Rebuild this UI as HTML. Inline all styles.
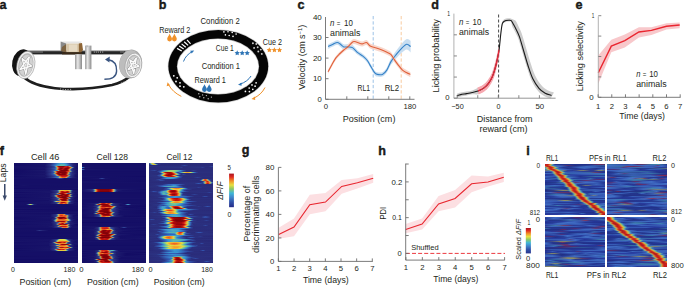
<!DOCTYPE html>
<html><head><meta charset="utf-8"><style>
html,body{margin:0;padding:0;background:#fff;width:685px;height:287px;overflow:hidden;position:relative}
svg{display:block;position:absolute;left:0;top:0}
.hm{position:absolute;overflow:hidden}
.hm i{position:absolute;left:0;right:0;height:1px;display:block}
text{font-family:"Liberation Sans", sans-serif;fill:#231f20}
</style></head><body>
<svg width="685" height="287" viewBox="0 0 685 287">
<defs>
<filter id="bh" x="-20%" y="-20%" width="140%" height="140%"><feGaussianBlur stdDeviation="1.2 0.5"/></filter>
<filter id="bh2" x="-20%" y="-20%" width="140%" height="140%"><feGaussianBlur stdDeviation="0.9 0.35"/></filter>
<filter id="bn" x="-20%" y="-20%" width="140%" height="140%"><feGaussianBlur stdDeviation="2.2 0.45"/></filter>
<filter id="bs" x="-20%" y="-20%" width="140%" height="140%"><feGaussianBlur stdDeviation="0.6"/></filter>
<filter id="bd" x="-30%" y="-30%" width="160%" height="160%"><feGaussianBlur stdDeviation="1.6"/></filter>
<linearGradient id="jetv" x1="0" y1="1" x2="0" y2="0">
<stop offset="0" stop-color="#242a88"/><stop offset="0.15" stop-color="#3050a8"/><stop offset="0.3" stop-color="#4088cc"/><stop offset="0.42" stop-color="#40b8d8"/><stop offset="0.55" stop-color="#90c860"/><stop offset="0.66" stop-color="#e8e040"/><stop offset="0.78" stop-color="#f09028"/><stop offset="0.9" stop-color="#e02a20"/><stop offset="1" stop-color="#a81420"/>
</linearGradient>
<linearGradient id="jetvi" x1="0" y1="1" x2="0" y2="0">
<stop offset="0" stop-color="#2a3890"/><stop offset="0.15" stop-color="#3050a8"/><stop offset="0.3" stop-color="#4088cc"/><stop offset="0.42" stop-color="#40b8d8"/><stop offset="0.55" stop-color="#90c860"/><stop offset="0.66" stop-color="#e8e040"/><stop offset="0.78" stop-color="#f09028"/><stop offset="0.9" stop-color="#e02a20"/><stop offset="1" stop-color="#a81420"/>
</linearGradient>
<linearGradient id="post" x1="0" y1="0" x2="1" y2="0">
<stop offset="0" stop-color="#9a9a9a"/><stop offset="0.4" stop-color="#e8e8e8"/><stop offset="1" stop-color="#8a8a8a"/>
</linearGradient>
<linearGradient id="boxf" x1="0" y1="0" x2="1" y2="0">
<stop offset="0" stop-color="#8a6a45"/><stop offset="0.35" stop-color="#d8c3a3"/><stop offset="1" stop-color="#c9ad86"/>
</linearGradient>
<radialGradient id="wheel" cx="0.5" cy="0.5" r="0.5">
<stop offset="0" stop-color="#f0f0f0"/><stop offset="0.8" stop-color="#d6d6d6"/><stop offset="1" stop-color="#a8a8a8"/>
</radialGradient>
</defs>
<text x="-0.4" y="9.0" font-size="12.6" font-weight="bold" fill="#000" stroke="#000" stroke-width="0.35">a</text>
<text x="158.8" y="9.0" font-size="12.6" font-weight="bold" fill="#000" stroke="#000" stroke-width="0.35">b</text>
<text x="297.4" y="9.1" font-size="12.6" font-weight="bold" fill="#000" stroke="#000" stroke-width="0.35">c</text>
<text x="431.3" y="9.0" font-size="12.6" font-weight="bold" fill="#000" stroke="#000" stroke-width="0.35">d</text>
<text x="575.4" y="9.0" font-size="12.6" font-weight="bold" fill="#000" stroke="#000" stroke-width="0.35">e</text>
<text x="-0.2" y="154.7" font-size="12.6" font-weight="bold" fill="#000" stroke="#000" stroke-width="0.35">f</text>
<text x="241.8" y="154.1" font-size="12.6" font-weight="bold" fill="#000" stroke="#000" stroke-width="0.35">g</text>
<text x="378.2" y="154.7" font-size="12.6" font-weight="bold" fill="#000" stroke="#000" stroke-width="0.35">h</text>
<text x="526.3" y="154.7" font-size="12.6" font-weight="bold" fill="#000" stroke="#000" stroke-width="0.35">i</text>
<path d="M23,76.5 C30,83 40,86.5 55,88.2 C75,90.2 95,88.5 112,85 C120,83 125,80.5 129,77" fill="none" stroke="#1e1e1e" stroke-width="2.6"/>
<rect x="60" y="88.6" width="1.1" height="0.8" fill="#c8c8c8"/>
<rect x="62.5" y="88.9" width="1.1" height="0.8" fill="#c8c8c8"/>
<rect x="65" y="89" width="1.1" height="0.8" fill="#c8c8c8"/>
<rect x="67.5" y="89" width="1.1" height="0.8" fill="#c8c8c8"/>
<rect x="70" y="88.9" width="1.1" height="0.8" fill="#c8c8c8"/>
<rect x="121" y="82.6" width="1.1" height="0.8" fill="#c8c8c8"/>
<rect x="123.5" y="81.6" width="1.1" height="0.8" fill="#c8c8c8"/>
<rect x="126" y="80.4" width="1.1" height="0.8" fill="#c8c8c8"/>
<rect x="21" y="50.8" width="112" height="3.6" fill="#262626"/>
<rect x="21" y="50.8" width="112" height="0.8" fill="#555"/>
<rect x="29.5" y="51.6" width="1" height="0.9" fill="#d8d8d8"/>
<rect x="31.5" y="51.6" width="1" height="0.9" fill="#d8d8d8"/>
<rect x="33.5" y="51.6" width="1" height="0.9" fill="#d8d8d8"/>
<rect x="35.5" y="51.6" width="1" height="0.9" fill="#d8d8d8"/>
<rect x="37.5" y="51.6" width="1" height="0.9" fill="#d8d8d8"/>
<rect x="39.5" y="51.6" width="1" height="0.9" fill="#d8d8d8"/>
<rect x="41.5" y="51.6" width="1" height="0.9" fill="#d8d8d8"/>
<rect x="93.8" y="51.6" width="1" height="0.9" fill="#d8d8d8"/>
<rect x="95.8" y="51.6" width="1" height="0.9" fill="#d8d8d8"/>
<rect x="97.8" y="51.6" width="1" height="0.9" fill="#d8d8d8"/>
<rect x="100" y="51.6" width="1" height="0.9" fill="#d8d8d8"/>
<rect x="102.2" y="51.6" width="1" height="0.9" fill="#d8d8d8"/>
<rect x="120.5" y="51.6" width="1" height="0.9" fill="#d8d8d8"/>
<rect x="122.5" y="51.6" width="1" height="0.9" fill="#d8d8d8"/>
<rect x="125" y="51.6" width="1" height="0.9" fill="#d8d8d8"/>
<rect x="127.5" y="51.6" width="1" height="0.9" fill="#d8d8d8"/>
<rect x="129.5" y="51.6" width="1" height="0.9" fill="#d8d8d8"/>
<ellipse cx="22.0" cy="62.8" rx="9.8" ry="13.6" transform="rotate(12 22.0 62.8)" fill="#141414"/>
<g transform="translate(25.8 65.0) rotate(12)"><ellipse cx="0" cy="0" rx="8.9" ry="13.9" fill="#f4f4f4" stroke="#9a9a9a" stroke-width="0.6"/><ellipse cx="0" cy="0" rx="7.476" ry="11.954" fill="#b8b8b8"/><ellipse cx="0.3" cy="0.3" rx="6.586" ry="10.703000000000001" fill="#d2d2d2"/><polyline points="1.74,-9.03 1.89,8.95 -4.80,-5.45 5.87,-0.13 -4.70,5.66 1.74,-9.03" fill="none" stroke="#7a7a7a" stroke-width="2.2" stroke-linejoin="round"/><polyline points="1.74,-9.03 1.89,8.95 -4.80,-5.45 5.87,-0.13 -4.70,5.66 1.74,-9.03" fill="none" stroke="#fafafa" stroke-width="1.5" stroke-linejoin="round"/><line x1="0" y1="0" x2="0.87" y2="-4.51" stroke="#eee" stroke-width="0.6"/><line x1="0" y1="0" x2="2.94" y2="-0.07" stroke="#eee" stroke-width="0.6"/><line x1="0" y1="0" x2="0.95" y2="4.47" stroke="#eee" stroke-width="0.6"/><line x1="0" y1="0" x2="-2.35" y2="2.83" stroke="#eee" stroke-width="0.6"/><line x1="0" y1="0" x2="-2.40" y2="-2.72" stroke="#eee" stroke-width="0.6"/></g>
<ellipse cx="130.6" cy="64.0" rx="11.4" ry="14.5" transform="rotate(10 130.6 64)" fill="#a6a6a6"/>
<ellipse cx="129.8" cy="63.8" rx="10.4" ry="13.8" transform="rotate(10 129.8 63.8)" fill="#bdbdbd"/>
<g transform="translate(133.4 65.4) rotate(10)"><ellipse cx="0" cy="0" rx="8.3" ry="12.4" fill="#f4f4f4" stroke="#9a9a9a" stroke-width="0.6"/><ellipse cx="0" cy="0" rx="6.972" ry="10.664" fill="#b8b8b8"/><ellipse cx="0.3" cy="0.3" rx="6.142" ry="9.548" fill="#d2d2d2"/><polyline points="1.62,-8.06 1.77,7.98 -4.48,-4.86 5.48,-0.12 -4.39,5.05 1.62,-8.06" fill="none" stroke="#7a7a7a" stroke-width="2.2" stroke-linejoin="round"/><polyline points="1.62,-8.06 1.77,7.98 -4.48,-4.86 5.48,-0.12 -4.39,5.05 1.62,-8.06" fill="none" stroke="#fafafa" stroke-width="1.5" stroke-linejoin="round"/><line x1="0" y1="0" x2="0.81" y2="-4.03" stroke="#eee" stroke-width="0.6"/><line x1="0" y1="0" x2="2.74" y2="-0.06" stroke="#eee" stroke-width="0.6"/><line x1="0" y1="0" x2="0.88" y2="3.99" stroke="#eee" stroke-width="0.6"/><line x1="0" y1="0" x2="-2.19" y2="2.53" stroke="#eee" stroke-width="0.6"/><line x1="0" y1="0" x2="-2.24" y2="-2.43" stroke="#eee" stroke-width="0.6"/></g>
<polygon points="60.6,41.4 81.8,41.4 80.6,43.6 66.3,43.6" fill="#e6e6e6"/>
<polygon points="60.6,41.6 66.3,43.6 66.3,52.4 60.6,50.6" fill="#8a8a8a"/>
<polygon points="62,47 66.3,44 66.3,52.4 61,51" fill="#7a5a30" opacity="0.8"/>
<rect x="66.3" y="43.6" width="14.6" height="8.8" fill="#d9c8aa"/>
<rect x="69" y="44.5" width="8" height="7" fill="#e6dac4"/>
<polygon points="78.8,43.6 82,43 83,50 80.9,52.4 78.8,52.4" fill="#8e6536"/>
<rect x="62" y="52.2" width="20" height="2.2" fill="#3a2a18"/>
<rect x="75.0" y="54.2" width="7.0" height="15.0" fill="url(#post)"/>
<rect x="85.1" y="45.6" width="6.3" height="23.6" fill="url(#post)"/>
<ellipse cx="87.2" cy="46.2" rx="1.4" ry="1" fill="#bdbdbd"/>
<path d="M104.4,79.3 C111,79.3 116.4,77.5 116.6,71 C116.8,64.5 113.5,60.6 108.6,59.8" fill="none" stroke="#3a5580" stroke-width="1.4"/>
<polygon points="105.0,59.4 109.8,56.6 109.4,62.4" fill="#3a5580"/>
<ellipse cx="218.3" cy="66.2" rx="50.6" ry="37.0" fill="#d4d4d4"/>
<ellipse cx="218.3" cy="66.2" rx="49.9" ry="36.3" fill="#050505"/>
<ellipse cx="218.0" cy="66.5" rx="41.1" ry="28.1" fill="#bdbdbd"/>
<ellipse cx="218.0" cy="66.5" rx="40.4" ry="27.4" fill="#fff"/>
<line x1="181.77" y1="51.01" x2="177.09" y2="48.38" stroke="#fff" stroke-width="1.25"/>
<line x1="183.65" y1="49.03" x2="179.21" y2="46.06" stroke="#fff" stroke-width="1.25"/>
<line x1="185.75" y1="47.16" x2="181.58" y2="43.87" stroke="#fff" stroke-width="1.25"/>
<line x1="188.06" y1="45.41" x2="184.18" y2="41.82" stroke="#fff" stroke-width="1.25"/>
<line x1="190.56" y1="43.80" x2="187.01" y2="39.93" stroke="#fff" stroke-width="1.25"/>
<circle cx="223.9" cy="31.9" r="0.8" fill="#fff"/>
<circle cx="228" cy="31.7" r="0.8" fill="#fff"/>
<circle cx="232.2" cy="32.5" r="0.8" fill="#fff"/>
<circle cx="236.1" cy="34.1" r="0.8" fill="#fff"/>
<circle cx="225.4" cy="34.9" r="0.8" fill="#fff"/>
<circle cx="229.2" cy="35.5" r="0.8" fill="#fff"/>
<circle cx="233" cy="36.4" r="0.8" fill="#fff"/>
<circle cx="252.9" cy="43.2" r="0.95" fill="#d0d0d0"/>
<circle cx="256.3" cy="44.0" r="0.95" fill="#d0d0d0"/>
<circle cx="254.1" cy="47.9" r="0.95" fill="#d0d0d0"/>
<circle cx="257.7" cy="47.3" r="0.95" fill="#d0d0d0"/>
<circle cx="258.3" cy="51.5" r="0.95" fill="#d0d0d0"/>
<circle cx="261.8" cy="53.9" r="0.95" fill="#d0d0d0"/>
<circle cx="260.8" cy="49.6" r="0.95" fill="#d0d0d0"/>
<circle cx="173.8" cy="75.8" r="0.9" fill="#fff"/>
<circle cx="177.2" cy="77.8" r="0.9" fill="#fff"/>
<circle cx="176" cy="81.5" r="0.9" fill="#fff"/>
<circle cx="180" cy="82.8" r="0.9" fill="#fff"/>
<circle cx="180" cy="86.2" r="0.9" fill="#fff"/>
<circle cx="183.8" cy="86.8" r="0.9" fill="#fff"/>
<circle cx="198.8" cy="93.7" r="0.7" fill="#bbb"/>
<circle cx="202.6" cy="94.9" r="0.7" fill="#bbb"/>
<circle cx="206.4" cy="95.6" r="0.7" fill="#bbb"/>
<circle cx="199.8" cy="96.8" r="0.7" fill="#bbb"/>
<circle cx="203.8" cy="97.8" r="0.7" fill="#bbb"/>
<circle cx="208.2" cy="98.7" r="0.7" fill="#bbb"/>
<circle cx="211.4" cy="97.1" r="0.7" fill="#bbb"/>
<circle cx="256.1" cy="82.8" r="0.85" fill="#fff"/>
<circle cx="252" cy="84.9" r="0.85" fill="#fff"/>
<circle cx="255.1" cy="86.2" r="0.85" fill="#fff"/>
<circle cx="249.2" cy="88" r="0.85" fill="#fff"/>
<circle cx="252.8" cy="89.3" r="0.85" fill="#fff"/>
<circle cx="245.4" cy="91.4" r="0.85" fill="#fff"/>
<circle cx="249.4" cy="91.6" r="0.85" fill="#fff"/>
<text x="200.5" y="24.4" font-size="8.4" textLength="39.2" lengthAdjust="spacingAndGlyphs" >Condition 2</text>
<text x="159.2" y="32.6" font-size="8.4" textLength="31.1" lengthAdjust="spacingAndGlyphs" >Reward 2</text>
<text x="262.7" y="44.6" font-size="8.4" textLength="19.2" lengthAdjust="spacingAndGlyphs" >Cue 2</text>
<text x="215.8" y="51.2" font-size="8.4" textLength="18.0" lengthAdjust="spacingAndGlyphs" >Cue 1</text>
<text x="201.7" y="68.7" font-size="8.4" textLength="38.3" lengthAdjust="spacingAndGlyphs" >Condition 1</text>
<text x="194.5" y="83.0" font-size="8.4" textLength="31.3" lengthAdjust="spacingAndGlyphs" >Reward 1</text>
<path d="M169.6,33.8 C170.4,35.8 172.015,37.595 172.015,39.089999999999996 A2.415,2.415 0 0 1 167.185,39.089999999999996 C167.185,37.595 168.79999999999998,35.8 169.6,33.8 Z" fill="#f0922b"/>
<path d="M174.4,33.8 C175.20000000000002,35.8 176.815,37.595 176.815,39.089999999999996 A2.415,2.415 0 0 1 171.985,39.089999999999996 C171.985,37.595 173.6,35.8 174.4,33.8 Z" fill="#f0922b"/>
<path d="M204.5,84.2 C205.3,86.2 206.915,87.995 206.915,89.49000000000001 A2.415,2.415 0 0 1 202.085,89.49000000000001 C202.085,87.995 203.7,86.2 204.5,84.2 Z" fill="#2e75b6"/>
<path d="M209.2,84.2 C210.0,86.2 211.61499999999998,87.995 211.61499999999998,89.49000000000001 A2.415,2.415 0 0 1 206.785,89.49000000000001 C206.785,87.995 208.39999999999998,86.2 209.2,84.2 Z" fill="#2e75b6"/>
<polygon points="237.20,50.35 238.01,51.99 239.82,52.25 238.51,53.52 238.82,55.32 237.20,54.48 235.58,55.32 235.89,53.52 234.58,52.25 236.39,51.99" fill="#2e75b6"/>
<polygon points="242.20,50.35 243.01,51.99 244.82,52.25 243.51,53.52 243.82,55.32 242.20,54.48 240.58,55.32 240.89,53.52 239.58,52.25 241.39,51.99" fill="#2e75b6"/>
<polygon points="247.20,50.35 248.01,51.99 249.82,52.25 248.51,53.52 248.82,55.32 247.20,54.48 245.58,55.32 245.89,53.52 244.58,52.25 246.39,51.99" fill="#2e75b6"/>
<polygon points="269.30,47.25 270.11,48.89 271.92,49.15 270.61,50.42 270.92,52.22 269.30,51.38 267.68,52.22 267.99,50.42 266.68,49.15 268.49,48.89" fill="#f0922b"/>
<polygon points="274.40,47.25 275.21,48.89 277.02,49.15 275.71,50.42 276.02,52.22 274.40,51.38 272.78,52.22 273.09,50.42 271.78,49.15 273.59,48.89" fill="#f0922b"/>
<polygon points="279.50,47.25 280.31,48.89 282.12,49.15 280.81,50.42 281.12,52.22 279.50,51.38 277.88,52.22 278.19,50.42 276.88,49.15 278.69,48.89" fill="#f0922b"/>
<path d="M183.5,61.5 C185,57 188,54 192.2,51.6" fill="none" stroke="#2e75b6" stroke-width="1"/>
<polygon points="194.2,50.5 190.2,50.8 191.7,53.6" fill="#2e75b6"/>
<path d="M251,76 C249,79.5 245,82.5 240,84.2" fill="none" stroke="#2e75b6" stroke-width="1"/>
<polygon points="238,84.8 241.5,82.4 241.6,85.8" fill="#2e75b6"/>
<path d="M181.3,96.4 C175.5,93.5 171,89.5 168.6,84.6" fill="none" stroke="#f0922b" stroke-width="1"/>
<polygon points="167.6,82.2 166.6,86.2 170.0,85.2" fill="#f0922b"/>
<path d="M265,87.5 C262.5,92.5 258.5,96 253.5,98.3" fill="none" stroke="#f0922b" stroke-width="1"/>
<polygon points="251.5,99 255,96.6 255.2,99.9" fill="#f0922b"/>
<line x1="373.2" y1="16" x2="373.2" y2="99" stroke="#9dc3e6" stroke-width="1.0" stroke-dasharray="3.3 2"/>
<line x1="401.2" y1="16" x2="401.2" y2="99" stroke="#f8cba0" stroke-width="1.0" stroke-dasharray="3.3 2"/>
<path d="M328.10,44.40 C328.92,44.00 331.47,42.68 333.00,42.00 C334.53,41.32 336.05,40.35 337.30,40.30 C338.55,40.25 339.42,41.03 340.50,41.70 C341.58,42.37 342.53,43.87 343.80,44.30 C345.07,44.73 346.65,44.18 348.10,44.30 C349.55,44.42 350.90,43.98 352.50,45.00 C354.10,46.02 355.97,48.92 357.70,50.40 C359.43,51.88 361.30,52.58 362.90,53.90 C364.50,55.22 365.95,56.52 367.30,58.30 C368.65,60.08 369.78,62.57 371.00,64.60 C372.22,66.63 373.57,69.23 374.60,70.50 C375.63,71.77 375.90,71.92 377.20,72.20 C378.50,72.48 380.80,72.96 382.40,72.20 C384.00,71.44 385.35,69.96 386.80,67.65 C388.25,65.34 389.50,61.19 391.10,58.35 C392.70,55.51 394.65,53.03 396.40,50.60 C398.15,48.18 399.87,45.70 401.60,43.78 C403.33,41.85 405.30,39.54 406.80,39.05 C408.30,38.55 409.97,40.52 410.60,40.82 L410.60,52.38 C409.97,51.91 408.30,49.48 406.80,49.55 C405.30,49.63 403.33,51.38 401.60,52.82 C399.87,54.26 398.15,56.26 396.40,58.20 C394.65,60.13 392.70,62.06 391.10,64.45 C389.50,66.85 388.25,70.53 386.80,72.55 C385.35,74.58 384.00,75.93 382.40,76.60 C380.80,77.27 378.50,76.88 377.20,76.60 C375.90,76.32 375.63,76.17 374.60,74.90 C373.57,73.63 372.22,71.03 371.00,69.00 C369.78,66.97 368.65,64.48 367.30,62.70 C365.95,60.92 364.50,59.62 362.90,58.30 C361.30,56.98 359.43,56.15 357.70,54.80 C355.97,53.45 354.10,51.08 352.50,50.20 C350.90,49.32 349.55,49.62 348.10,49.50 C346.65,49.38 345.07,49.93 343.80,49.50 C342.53,49.07 341.58,47.70 340.50,46.90 C339.42,46.10 338.55,44.78 337.30,44.70 C336.05,44.62 334.53,45.72 333.00,46.40 C331.47,47.08 328.92,48.40 328.10,48.80 Z" fill="#c5dcf0" opacity="0.95"/>
<path d="M328.10,69.80 C328.75,68.58 330.70,64.82 332.00,62.50 C333.30,60.18 334.57,57.73 335.90,55.90 C337.23,54.07 338.68,52.82 340.00,51.50 C341.32,50.18 342.45,49.23 343.80,48.00 C345.15,46.77 346.57,45.55 348.10,44.10 C349.63,42.65 351.55,40.03 353.00,39.30 C354.45,38.57 355.28,39.35 356.80,39.70 C358.32,40.05 360.50,41.35 362.10,41.40 C363.70,41.45 365.05,39.65 366.40,40.00 C367.75,40.35 368.83,42.68 370.20,43.50 C371.57,44.32 372.85,44.32 374.60,44.90 C376.35,45.48 378.82,46.27 380.70,47.00 C382.58,47.73 384.22,48.48 385.90,49.30 C387.58,50.12 389.50,50.75 390.80,51.90 C392.10,53.05 392.48,54.47 393.70,56.20 C394.92,57.93 396.63,60.40 398.10,62.30 C399.57,64.20 401.05,66.28 402.50,67.60 C403.95,68.92 405.50,69.48 406.80,70.20 C408.10,70.92 409.72,71.62 410.30,71.90 L410.30,76.90 C409.72,76.62 408.10,75.92 406.80,75.20 C405.50,74.48 403.95,73.92 402.50,72.60 C401.05,71.28 399.57,69.20 398.10,67.30 C396.63,65.40 394.92,62.93 393.70,61.20 C392.48,59.47 392.10,58.05 390.80,56.90 C389.50,55.75 387.58,55.12 385.90,54.30 C384.22,53.48 382.58,52.73 380.70,52.00 C378.82,51.27 376.35,50.48 374.60,49.90 C372.85,49.32 371.57,49.32 370.20,48.50 C368.83,47.68 367.75,45.35 366.40,45.00 C365.05,44.65 363.70,46.45 362.10,46.40 C360.50,46.35 358.32,45.05 356.80,44.70 C355.28,44.35 354.45,43.57 353.00,44.30 C351.55,45.03 349.63,47.82 348.10,49.10 C346.57,50.38 345.15,50.93 343.80,52.00 C342.45,53.07 341.32,54.18 340.00,55.50 C338.68,56.82 337.23,58.07 335.90,59.90 C334.57,61.73 333.30,64.18 332.00,66.50 C330.70,68.82 328.75,72.58 328.10,73.80 Z" fill="#f7d3c6" opacity="0.9"/>
<path d="M328.10,46.60 C328.92,46.20 331.47,44.88 333.00,44.20 C334.53,43.52 336.05,42.48 337.30,42.50 C338.55,42.52 339.42,43.57 340.50,44.30 C341.58,45.03 342.53,46.47 343.80,46.90 C345.07,47.33 346.65,46.78 348.10,46.90 C349.55,47.02 350.90,46.65 352.50,47.60 C354.10,48.55 355.97,51.18 357.70,52.60 C359.43,54.02 361.30,54.78 362.90,56.10 C364.50,57.42 365.95,58.72 367.30,60.50 C368.65,62.28 369.78,64.77 371.00,66.80 C372.22,68.83 373.57,71.43 374.60,72.70 C375.63,73.97 375.90,74.12 377.20,74.40 C378.50,74.68 380.80,75.12 382.40,74.40 C384.00,73.68 385.35,72.27 386.80,70.10 C388.25,67.93 389.50,64.02 391.10,61.40 C392.70,58.78 394.65,56.58 396.40,54.40 C398.15,52.22 399.87,49.98 401.60,48.30 C403.33,46.62 405.30,44.58 406.80,44.30 C408.30,44.02 409.97,46.22 410.60,46.60" fill="none" stroke="#3582c8" stroke-width="1.1"/>
<path d="M328.10,71.80 C328.75,70.58 330.70,66.82 332.00,64.50 C333.30,62.18 334.57,59.73 335.90,57.90 C337.23,56.07 338.68,54.82 340.00,53.50 C341.32,52.18 342.45,51.15 343.80,50.00 C345.15,48.85 346.57,47.97 348.10,46.60 C349.63,45.23 351.55,42.53 353.00,41.80 C354.45,41.07 355.28,41.85 356.80,42.20 C358.32,42.55 360.50,43.85 362.10,43.90 C363.70,43.95 365.05,42.15 366.40,42.50 C367.75,42.85 368.83,45.18 370.20,46.00 C371.57,46.82 372.85,46.82 374.60,47.40 C376.35,47.98 378.82,48.77 380.70,49.50 C382.58,50.23 384.22,50.98 385.90,51.80 C387.58,52.62 389.50,53.25 390.80,54.40 C392.10,55.55 392.48,56.97 393.70,58.70 C394.92,60.43 396.63,62.90 398.10,64.80 C399.57,66.70 401.05,68.78 402.50,70.10 C403.95,71.42 405.50,71.98 406.80,72.70 C408.10,73.42 409.72,74.12 410.30,74.40" fill="none" stroke="#e0603a" stroke-width="1.1"/>
<line x1="325.5" y1="17" x2="325.5" y2="99.3" stroke="#6d6d6d" stroke-width="0.9" />
<line x1="325.5" y1="99.3" x2="328.5" y2="99.3" stroke="#6d6d6d" stroke-width="0.9" />
<line x1="325.5" y1="78.69999999999999" x2="328.5" y2="78.69999999999999" stroke="#6d6d6d" stroke-width="0.9" />
<line x1="325.5" y1="58.099999999999994" x2="328.5" y2="58.099999999999994" stroke="#6d6d6d" stroke-width="0.9" />
<line x1="325.5" y1="37.49999999999999" x2="328.5" y2="37.49999999999999" stroke="#6d6d6d" stroke-width="0.9" />
<text x="321.8" y="101.89999999999999" font-size="7.7" text-anchor="end" >0</text>
<text x="321.8" y="81.29999999999998" font-size="7.7" text-anchor="end" textLength="8.9" lengthAdjust="spacingAndGlyphs" >10</text>
<text x="321.8" y="60.699999999999996" font-size="7.7" text-anchor="end" textLength="8.9" lengthAdjust="spacingAndGlyphs" >20</text>
<text x="321.8" y="40.099999999999994" font-size="7.7" text-anchor="end" textLength="8.9" lengthAdjust="spacingAndGlyphs" >30</text>
<text x="321.8" y="19.499999999999993" font-size="7.7" text-anchor="end" textLength="8.9" lengthAdjust="spacingAndGlyphs" >40</text>
<line x1="325.5" y1="99.3" x2="414.5" y2="99.3" stroke="#6d6d6d" stroke-width="0.9" />
<line x1="346.8" y1="99.3" x2="346.8" y2="96.3" stroke="#6d6d6d" stroke-width="0.9" />
<line x1="367.8" y1="99.3" x2="367.8" y2="96.3" stroke="#6d6d6d" stroke-width="0.9" />
<line x1="388.8" y1="99.3" x2="388.8" y2="96.3" stroke="#6d6d6d" stroke-width="0.9" />
<line x1="409.8" y1="99.3" x2="409.8" y2="96.3" stroke="#6d6d6d" stroke-width="0.9" />
<text x="325.8" y="109.2" font-size="7.7" text-anchor="middle" >0</text>
<text x="409.8" y="109.2" font-size="7.7" text-anchor="middle" >180</text>
<text x="357.6" y="90.7" font-size="8.2" textLength="12.5" lengthAdjust="spacingAndGlyphs" >RL1</text>
<text x="384.7" y="90.7" font-size="8.2" textLength="14.4" lengthAdjust="spacingAndGlyphs" >RL2</text>
<text x="342.8" y="121.8" font-size="8.2" textLength="52.6" lengthAdjust="spacingAndGlyphs" >Position (cm)</text>
<text x="330" y="25.6" font-size="8.4" textLength="4.4" lengthAdjust="spacingAndGlyphs" font-style="italic" >n</text>
<text x="336.8" y="25.6" font-size="7.14" textLength="3.6" lengthAdjust="spacingAndGlyphs" >=</text>
<text x="344" y="25.6" font-size="8.4" textLength="8.8" lengthAdjust="spacingAndGlyphs" >10</text>
<text x="330" y="35.6" font-size="8.4" textLength="30.4" lengthAdjust="spacingAndGlyphs" >animals</text>
<text x="304.8" y="57.3" font-size="8.6" text-anchor="middle" textLength="65" lengthAdjust="spacingAndGlyphs" transform="rotate(-90 304.8 57.3)" >Velocity (cm s<tspan font-size="5.5" dy="-3">−1</tspan><tspan dy="3">)</tspan></text>
<line x1="498.6" y1="14.5" x2="498.6" y2="98" stroke="#333" stroke-width="0.9" stroke-dasharray="3 2"/>
<path d="M456.90,93.80 C457.53,93.60 459.10,92.97 460.70,92.60 C462.30,92.23 464.58,91.95 466.50,91.60 C468.42,91.25 470.28,91.13 472.20,90.50 C474.12,89.87 476.08,88.73 478.00,87.80 C479.92,86.87 481.95,86.18 483.70,84.90 C485.45,83.62 487.05,82.02 488.50,80.10 C489.95,78.18 491.28,75.95 492.40,73.40 C493.52,70.85 494.35,67.83 495.20,64.80 C496.05,61.77 496.85,58.00 497.50,55.20 C498.15,52.40 498.60,51.42 499.10,48.00 C499.60,44.58 500.08,38.42 500.50,34.70 C500.92,30.98 501.28,27.88 501.60,25.70 C501.92,23.52 502.07,22.60 502.40,21.60 C502.73,20.60 503.00,20.22 503.60,19.70 C504.20,19.18 505.02,18.75 506.00,18.50 C506.98,18.25 508.63,18.17 509.50,18.20 C510.37,18.23 510.22,18.30 511.20,18.70 C512.18,19.10 514.23,19.43 515.40,20.60 C516.57,21.77 517.15,23.57 518.20,25.70 C519.25,27.83 520.48,30.02 521.70,33.40 C522.92,36.78 524.05,41.15 525.50,46.00 C526.95,50.85 528.80,57.58 530.40,62.50 C532.00,67.42 533.27,71.70 535.10,75.50 C536.93,79.30 539.32,82.85 541.40,85.30 C543.48,87.75 545.52,89.02 547.60,90.20 C549.68,91.38 552.85,92.03 553.90,92.40 L550.78,98.40 C549.73,98.03 546.56,97.38 544.48,96.20 C542.40,95.02 540.36,93.75 538.28,91.30 C536.20,88.85 533.81,85.30 531.98,81.50 C530.15,77.70 528.88,73.42 527.28,68.50 C525.68,63.58 523.83,56.85 522.38,52.00 C520.93,47.15 519.80,42.78 518.58,39.40 C517.36,36.02 516.13,33.83 515.08,31.70 C514.03,29.57 512.93,28.20 512.28,26.60 C511.63,25.00 511.66,22.93 511.20,22.10 C510.74,21.27 510.37,21.63 509.50,21.60 C508.63,21.57 506.98,21.65 506.00,21.90 C505.02,22.15 504.20,22.55 503.60,23.10 C503.00,23.65 502.73,24.17 502.40,25.20 C502.07,26.23 501.92,27.12 501.60,29.30 C501.28,31.48 500.92,34.58 500.50,38.30 C500.08,42.02 499.60,47.72 499.10,51.60 C498.60,55.48 498.15,58.33 497.50,61.60 C496.85,64.87 496.05,68.17 495.20,71.20 C494.35,74.23 493.52,77.25 492.40,79.80 C491.28,82.35 489.95,84.58 488.50,86.50 C487.05,88.42 485.45,90.02 483.70,91.30 C481.95,92.58 479.92,93.70 478.00,94.20 C476.08,94.70 474.12,94.10 472.20,94.30 C470.28,94.50 468.42,95.05 466.50,95.40 C464.58,95.75 462.30,96.03 460.70,96.40 C459.10,96.77 457.53,97.40 456.90,97.60 Z" fill="#cdcdcd"/>
<path d="M477.40,87.60 C478.35,87.12 481.35,85.98 483.10,84.70 C484.85,83.42 486.45,81.82 487.90,79.90 C489.35,77.98 490.68,75.75 491.80,73.20 C492.92,70.65 493.75,67.63 494.60,64.60 C495.45,61.57 496.25,58.03 496.90,55.00 C497.55,51.97 498.23,47.83 498.50,46.40 L499.70,53.20 C499.43,54.63 498.75,58.77 498.10,61.80 C497.45,64.83 496.65,68.37 495.80,71.40 C494.95,74.43 494.12,77.45 493.00,80.00 C491.88,82.55 490.55,84.78 489.10,86.70 C487.65,88.62 486.05,90.22 484.30,91.50 C482.55,92.78 479.55,93.92 478.60,94.40 Z" fill="#f7a9b1"/>
<path d="M456.90,95.80 C457.53,95.60 459.10,94.97 460.70,94.60 C462.30,94.23 464.58,93.95 466.50,93.60 C468.42,93.25 470.28,92.93 472.20,92.50 C474.12,92.07 476.08,91.73 478.00,91.00 C479.92,90.27 481.95,89.38 483.70,88.10 C485.45,86.82 487.05,85.22 488.50,83.30 C489.95,81.38 491.28,79.15 492.40,76.60 C493.52,74.05 494.35,71.03 495.20,68.00 C496.05,64.97 496.85,61.43 497.50,58.40 C498.15,55.37 498.60,53.45 499.10,49.80 C499.60,46.15 500.08,40.22 500.50,36.50 C500.92,32.78 501.28,29.68 501.60,27.50 C501.92,25.32 502.07,24.37 502.40,23.40 C502.73,22.43 503.00,22.18 503.60,21.70 C504.20,21.22 505.02,20.75 506.00,20.50 C506.98,20.25 508.63,20.17 509.50,20.20 C510.37,20.23 510.62,20.13 511.20,20.70 C511.78,21.27 512.23,22.27 513.00,23.60 C513.77,24.93 514.75,26.57 515.80,28.70 C516.85,30.83 518.08,33.02 519.30,36.40 C520.52,39.78 521.65,44.15 523.10,49.00 C524.55,53.85 526.40,60.58 528.00,65.50 C529.60,70.42 530.87,74.70 532.70,78.50 C534.53,82.30 536.92,85.85 539.00,88.30 C541.08,90.75 543.12,92.02 545.20,93.20 C547.28,94.38 550.45,95.03 551.50,95.40" fill="none" stroke="#1a1a1a" stroke-width="1.1" stroke-linejoin="round"/>
<path d="M478.00,91.00 C478.95,90.52 481.95,89.38 483.70,88.10 C485.45,86.82 487.05,85.22 488.50,83.30 C489.95,81.38 491.28,79.15 492.40,76.60 C493.52,74.05 494.35,71.03 495.20,68.00 C496.05,64.97 496.85,61.43 497.50,58.40 C498.15,55.37 498.83,51.23 499.10,49.80" fill="none" stroke="#f0283a" stroke-width="1.15"/>
<line x1="453.9" y1="13.6" x2="453.9" y2="98.2" stroke="#a9a9a9" stroke-width="0.9" />
<line x1="453.9" y1="98.2" x2="456.9" y2="98.2" stroke="#7a7a7a" stroke-width="0.9" />
<line x1="453.9" y1="77.075" x2="456.9" y2="77.075" stroke="#7a7a7a" stroke-width="0.9" />
<line x1="453.9" y1="55.95" x2="456.9" y2="55.95" stroke="#7a7a7a" stroke-width="0.9" />
<line x1="453.9" y1="34.825" x2="456.9" y2="34.825" stroke="#7a7a7a" stroke-width="0.9" />
<text x="447.3" y="15.8" font-size="7.4" textLength="2.8" lengthAdjust="spacingAndGlyphs" >1</text>
<text x="445.3" y="100.2" font-size="7.4" textLength="4.3" lengthAdjust="spacingAndGlyphs" >0</text>
<line x1="453.9" y1="98.2" x2="555.6" y2="98.2" stroke="#8a8a8a" stroke-width="0.9" />
<line x1="457.2" y1="98.2" x2="457.2" y2="95.2" stroke="#7a7a7a" stroke-width="0.9" />
<line x1="477.75" y1="98.2" x2="477.75" y2="95.2" stroke="#7a7a7a" stroke-width="0.9" />
<line x1="498.3" y1="98.2" x2="498.3" y2="95.2" stroke="#7a7a7a" stroke-width="0.9" />
<line x1="518.85" y1="98.2" x2="518.85" y2="95.2" stroke="#7a7a7a" stroke-width="0.9" />
<line x1="539.4" y1="98.2" x2="539.4" y2="95.2" stroke="#7a7a7a" stroke-width="0.9" />
<text x="451.4" y="109" font-size="7.4" textLength="12.3" lengthAdjust="spacingAndGlyphs" >−50</text>
<text x="496.4" y="109" font-size="7.4" textLength="4.0" lengthAdjust="spacingAndGlyphs" >0</text>
<text x="535.5" y="109" font-size="7.4" textLength="8.7" lengthAdjust="spacingAndGlyphs" >50</text>
<text x="476.8" y="122.2" font-size="8.2" textLength="55.7" lengthAdjust="spacingAndGlyphs" >Distance from</text>
<text x="479.4" y="131.8" font-size="8.2" textLength="48.2" lengthAdjust="spacingAndGlyphs" >reward (cm)</text>
<text x="459" y="24.9" font-size="8.4" textLength="4.4" lengthAdjust="spacingAndGlyphs" font-style="italic" >n</text>
<text x="465.8" y="24.9" font-size="7.14" textLength="3.6" lengthAdjust="spacingAndGlyphs" >=</text>
<text x="472.6" y="24.9" font-size="8.4" textLength="8.8" lengthAdjust="spacingAndGlyphs" >10</text>
<text x="459" y="34.9" font-size="8.4" textLength="30.2" lengthAdjust="spacingAndGlyphs" >animals</text>
<text x="438.8" y="55.75" font-size="8.2" text-anchor="middle" textLength="73.5" lengthAdjust="spacingAndGlyphs" transform="rotate(-90 438.8 55.75)" >Licking probability</text>
<path d="M598.30,55.50 L611.30,39.80 L624.80,34.50 L638.90,27.20 L651.40,27.20 L666.50,23.20 L679.70,22.50 L679.70,28.20 L666.50,29.40 L651.40,35.00 L638.90,37.60 L624.80,47.60 L611.30,52.30 L598.30,83.70 Z" fill="#f8c8cb"/>
<polyline points="598.30,72.70 611.30,46.10 624.80,40.70 638.90,32.00 651.40,30.40 666.50,26.30 679.70,25.00" fill="none" stroke="#ea2630" stroke-width="1.4"/>
<line x1="598.3" y1="16.3" x2="598.3" y2="97.3" stroke="#a9a9a9" stroke-width="0.9" />
<line x1="598.3" y1="97.3" x2="601.3" y2="97.3" stroke="#7a7a7a" stroke-width="0.9" />
<line x1="598.3" y1="76.9" x2="601.3" y2="76.9" stroke="#7a7a7a" stroke-width="0.9" />
<line x1="598.3" y1="56.5" x2="601.3" y2="56.5" stroke="#7a7a7a" stroke-width="0.9" />
<line x1="598.3" y1="36.1" x2="601.3" y2="36.1" stroke="#7a7a7a" stroke-width="0.9" />
<line x1="598.3" y1="15.700000000000003" x2="601.3" y2="15.700000000000003" stroke="#7a7a7a" stroke-width="0.9" />
<text x="591.7" y="18.3" font-size="7.4" textLength="2.6" lengthAdjust="spacingAndGlyphs" >1</text>
<text x="589.2" y="99.8" font-size="7.4" textLength="4.4" lengthAdjust="spacingAndGlyphs" >0</text>
<line x1="598.3" y1="97.3" x2="680.6" y2="97.3" stroke="#6d6d6d" stroke-width="0.9" />
<line x1="598.1" y1="97.3" x2="598.1" y2="94.3" stroke="#6d6d6d" stroke-width="0.9" />
<line x1="611.78" y1="97.3" x2="611.78" y2="94.3" stroke="#6d6d6d" stroke-width="0.9" />
<line x1="625.46" y1="97.3" x2="625.46" y2="94.3" stroke="#6d6d6d" stroke-width="0.9" />
<line x1="639.14" y1="97.3" x2="639.14" y2="94.3" stroke="#6d6d6d" stroke-width="0.9" />
<line x1="652.82" y1="97.3" x2="652.82" y2="94.3" stroke="#6d6d6d" stroke-width="0.9" />
<line x1="666.5" y1="97.3" x2="666.5" y2="94.3" stroke="#6d6d6d" stroke-width="0.9" />
<line x1="680.1800000000001" y1="97.3" x2="680.1800000000001" y2="94.3" stroke="#6d6d6d" stroke-width="0.9" />
<text x="598.1" y="109.0" font-size="7.7" text-anchor="middle" >1</text>
<text x="611.78" y="109.0" font-size="7.7" text-anchor="middle" >2</text>
<text x="625.46" y="109.0" font-size="7.7" text-anchor="middle" >3</text>
<text x="639.14" y="109.0" font-size="7.7" text-anchor="middle" >4</text>
<text x="652.82" y="109.0" font-size="7.7" text-anchor="middle" >5</text>
<text x="666.5" y="109.0" font-size="7.7" text-anchor="middle" >6</text>
<text x="680.1800000000001" y="109.0" font-size="7.7" text-anchor="middle" >7</text>
<text x="619.3" y="119.3" font-size="8.2" textLength="45.7" lengthAdjust="spacingAndGlyphs" >Time (days)</text>
<text x="636.2" y="76.9" font-size="8.4" textLength="4.2" lengthAdjust="spacingAndGlyphs" font-style="italic" >n</text>
<text x="642.8" y="76.9" font-size="7.14" textLength="3.6" lengthAdjust="spacingAndGlyphs" >=</text>
<text x="649.2" y="76.9" font-size="8.4" textLength="8.8" lengthAdjust="spacingAndGlyphs" >10</text>
<text x="636.2" y="86.9" font-size="8.4" textLength="30.4" lengthAdjust="spacingAndGlyphs" >animals</text>
<text x="582.6" y="56.3" font-size="8.2" text-anchor="middle" textLength="70" lengthAdjust="spacingAndGlyphs" transform="rotate(-90 582.6 56.3)" >Licking selectivity</text>
<text x="30.9" y="159.6" font-size="8.2" textLength="28.6" lengthAdjust="spacingAndGlyphs" >Cell 46</text>
<text x="96.6" y="159.6" font-size="8.2" textLength="31.4" lengthAdjust="spacingAndGlyphs" >Cell 128</text>
<text x="166.5" y="159.6" font-size="8.2" textLength="25.8" lengthAdjust="spacingAndGlyphs" >Cell 12</text>
<text x="11.1" y="272.4" font-size="7.4" textLength="3.9" lengthAdjust="spacingAndGlyphs" >0</text>
<text x="63.6" y="272.4" font-size="7.4" textLength="11.7" lengthAdjust="spacingAndGlyphs" >180</text>
<text x="79.2" y="272.4" font-size="7.4" textLength="4.3" lengthAdjust="spacingAndGlyphs" >0</text>
<text x="131.7" y="272.4" font-size="7.4" textLength="12.3" lengthAdjust="spacingAndGlyphs" >180</text>
<text x="148.5" y="272.4" font-size="7.4" textLength="4.1" lengthAdjust="spacingAndGlyphs" >0</text>
<text x="201.2" y="272.4" font-size="7.4" textLength="11.6" lengthAdjust="spacingAndGlyphs" >180</text>
<text x="19.5" y="285.3" font-size="8.2" textLength="51.7" lengthAdjust="spacingAndGlyphs" >Position (cm)</text>
<text x="86.9" y="285.3" font-size="8.2" textLength="51.7" lengthAdjust="spacingAndGlyphs" >Position (cm)</text>
<text x="153.7" y="285.3" font-size="8.2" textLength="51.0" lengthAdjust="spacingAndGlyphs" >Position (cm)</text>
<text x="6.5" y="172.85" font-size="8.2" text-anchor="middle" textLength="18.6" lengthAdjust="spacingAndGlyphs" transform="rotate(-90 6.5 172.85)" >Laps</text>
<line x1="4.75" y1="183.9" x2="4.75" y2="197" stroke="#3b4a6b" stroke-width="1.5" />
<polygon points="2.6,195.6 6.9,195.6 4.75,200.8" fill="#3b4a6b"/>
<rect x="229.1" y="173.6" width="4.8" height="33.6" fill="url(#jetv)"/>
<text x="227.6" y="170.0" font-size="7.4" textLength="3.4" lengthAdjust="spacingAndGlyphs" >5</text>
<text x="227.6" y="216.6" font-size="7.4" textLength="3.9" lengthAdjust="spacingAndGlyphs" >0</text>
<text x="222.9" y="190.6" font-size="8.2" text-anchor="middle" textLength="18.4" lengthAdjust="spacingAndGlyphs" transform="rotate(-90 222.9 190.6)" ><tspan font-style="italic">Δ</tspan><tspan font-style="italic">F</tspan>/<tspan font-style="italic">F</tspan></text>
<path d="M278.70,227.80 L294.00,218.60 L309.80,194.80 L325.50,193.00 L341.70,180.10 L357.40,178.30 L373.20,173.90 L373.20,182.70 L357.40,188.60 L341.70,193.70 L325.50,211.30 L309.80,214.20 L294.00,236.20 L278.70,238.80 Z" fill="#fcdfe2"/>
<polyline points="278.70,234.40 294.00,227.00 309.80,204.70 325.50,202.10 341.70,186.40 357.40,182.70 373.20,178.30" fill="none" stroke="#e8262f" stroke-width="1.1"/>
<line x1="278.4" y1="167.4" x2="278.4" y2="261.4" stroke="#6d6d6d" stroke-width="0.9" />
<line x1="278.4" y1="261.4" x2="281.4" y2="261.4" stroke="#6d6d6d" stroke-width="0.9" />
<line x1="278.4" y1="237.89999999999998" x2="281.4" y2="237.89999999999998" stroke="#6d6d6d" stroke-width="0.9" />
<line x1="278.4" y1="214.39999999999998" x2="281.4" y2="214.39999999999998" stroke="#6d6d6d" stroke-width="0.9" />
<line x1="278.4" y1="190.9" x2="281.4" y2="190.9" stroke="#6d6d6d" stroke-width="0.9" />
<line x1="278.4" y1="167.4" x2="281.4" y2="167.4" stroke="#6d6d6d" stroke-width="0.9" />
<text x="274.4" y="264.0" font-size="7.7" text-anchor="end" >0</text>
<text x="274.4" y="240.49999999999997" font-size="7.7" text-anchor="end" textLength="8.9" lengthAdjust="spacingAndGlyphs" >20</text>
<text x="274.4" y="216.99999999999997" font-size="7.7" text-anchor="end" textLength="8.9" lengthAdjust="spacingAndGlyphs" >40</text>
<text x="274.4" y="193.5" font-size="7.7" text-anchor="end" textLength="8.9" lengthAdjust="spacingAndGlyphs" >60</text>
<text x="274.4" y="170.0" font-size="7.7" text-anchor="end" textLength="8.9" lengthAdjust="spacingAndGlyphs" >80</text>
<line x1="278.4" y1="261.4" x2="372.8" y2="261.4" stroke="#6d6d6d" stroke-width="0.9" />
<line x1="278.4" y1="261.4" x2="278.4" y2="258.4" stroke="#6d6d6d" stroke-width="0.9" />
<line x1="294.04999999999995" y1="261.4" x2="294.04999999999995" y2="258.4" stroke="#6d6d6d" stroke-width="0.9" />
<line x1="309.7" y1="261.4" x2="309.7" y2="258.4" stroke="#6d6d6d" stroke-width="0.9" />
<line x1="325.34999999999997" y1="261.4" x2="325.34999999999997" y2="258.4" stroke="#6d6d6d" stroke-width="0.9" />
<line x1="341.0" y1="261.4" x2="341.0" y2="258.4" stroke="#6d6d6d" stroke-width="0.9" />
<line x1="356.65" y1="261.4" x2="356.65" y2="258.4" stroke="#6d6d6d" stroke-width="0.9" />
<line x1="372.29999999999995" y1="261.4" x2="372.29999999999995" y2="258.4" stroke="#6d6d6d" stroke-width="0.9" />
<text x="278.4" y="271.1" font-size="7.7" text-anchor="middle" >1</text>
<text x="294.04999999999995" y="271.1" font-size="7.7" text-anchor="middle" >2</text>
<text x="309.7" y="271.1" font-size="7.7" text-anchor="middle" >3</text>
<text x="325.34999999999997" y="271.1" font-size="7.7" text-anchor="middle" >4</text>
<text x="341.0" y="271.1" font-size="7.7" text-anchor="middle" >5</text>
<text x="356.65" y="271.1" font-size="7.7" text-anchor="middle" >6</text>
<text x="372.29999999999995" y="271.1" font-size="7.7" text-anchor="middle" >7</text>
<text x="302.9" y="283.1" font-size="8.2" textLength="45.8" lengthAdjust="spacingAndGlyphs" >Time (days)</text>
<text x="249.8" y="213.8" font-size="8.2" text-anchor="middle" textLength="56" lengthAdjust="spacingAndGlyphs" transform="rotate(-90 249.8 213.8)" >Percentage of</text>
<text x="259.2" y="214.3" font-size="8.2" text-anchor="middle" textLength="77.4" lengthAdjust="spacingAndGlyphs" transform="rotate(-90 259.2 214.3)" >discriminating cells</text>
<path d="M405.70,224.10 L422.10,218.60 L438.60,195.90 L455.10,190.00 L471.60,175.40 L488.00,176.50 L503.80,172.80 L503.80,182.00 L488.00,186.40 L471.60,192.20 L455.10,207.60 L438.60,211.30 L422.10,229.60 L405.70,233.20 Z" fill="#fcdfe2"/>
<polyline points="405.70,229.60 422.10,224.10 438.60,203.90 455.10,198.40 471.60,183.80 488.00,182.00 503.80,177.20" fill="none" stroke="#e8262f" stroke-width="1.1"/>
<line x1="405.9" y1="253.4" x2="505" y2="253.4" stroke="#ec3a40" stroke-width="1.0" stroke-dasharray="4 2.1"/>
<line x1="405.7" y1="163.6" x2="405.7" y2="260.1" stroke="#6d6d6d" stroke-width="0.9" />
<line x1="405.7" y1="253.4" x2="408.7" y2="253.4" stroke="#6d6d6d" stroke-width="0.9" />
<line x1="405.7" y1="235.525" x2="408.7" y2="235.525" stroke="#6d6d6d" stroke-width="0.9" />
<line x1="405.7" y1="217.65" x2="408.7" y2="217.65" stroke="#6d6d6d" stroke-width="0.9" />
<line x1="405.7" y1="199.775" x2="408.7" y2="199.775" stroke="#6d6d6d" stroke-width="0.9" />
<line x1="405.7" y1="181.9" x2="408.7" y2="181.9" stroke="#6d6d6d" stroke-width="0.9" />
<line x1="405.7" y1="164.025" x2="408.7" y2="164.025" stroke="#6d6d6d" stroke-width="0.9" />
<text x="391.4" y="184.5" font-size="7.4" textLength="10.9" lengthAdjust="spacingAndGlyphs" >0.2</text>
<text x="392.2" y="220.0" font-size="7.4" textLength="9.6" lengthAdjust="spacingAndGlyphs" >0.1</text>
<text x="397.6" y="255.9" font-size="7.4" textLength="4.2" lengthAdjust="spacingAndGlyphs" >0</text>
<line x1="405.7" y1="260.1" x2="504.8" y2="260.1" stroke="#6d6d6d" stroke-width="0.9" />
<line x1="405.9" y1="260.1" x2="405.9" y2="257.1" stroke="#6d6d6d" stroke-width="0.9" />
<line x1="422.34999999999997" y1="260.1" x2="422.34999999999997" y2="257.1" stroke="#6d6d6d" stroke-width="0.9" />
<line x1="438.79999999999995" y1="260.1" x2="438.79999999999995" y2="257.1" stroke="#6d6d6d" stroke-width="0.9" />
<line x1="455.25" y1="260.1" x2="455.25" y2="257.1" stroke="#6d6d6d" stroke-width="0.9" />
<line x1="471.7" y1="260.1" x2="471.7" y2="257.1" stroke="#6d6d6d" stroke-width="0.9" />
<line x1="488.15" y1="260.1" x2="488.15" y2="257.1" stroke="#6d6d6d" stroke-width="0.9" />
<line x1="504.59999999999997" y1="260.1" x2="504.59999999999997" y2="257.1" stroke="#6d6d6d" stroke-width="0.9" />
<text x="405.9" y="269.8" font-size="7.7" text-anchor="middle" >1</text>
<text x="422.34999999999997" y="269.8" font-size="7.7" text-anchor="middle" >2</text>
<text x="438.79999999999995" y="269.8" font-size="7.7" text-anchor="middle" >3</text>
<text x="455.25" y="269.8" font-size="7.7" text-anchor="middle" >4</text>
<text x="471.7" y="269.8" font-size="7.7" text-anchor="middle" >5</text>
<text x="488.15" y="269.8" font-size="7.7" text-anchor="middle" >6</text>
<text x="504.59999999999997" y="269.8" font-size="7.7" text-anchor="middle" >7</text>
<text x="433.3" y="282.3" font-size="8.2" textLength="45" lengthAdjust="spacingAndGlyphs" >Time (days)</text>
<text x="411.2" y="249.9" font-size="7.6" textLength="27.4" lengthAdjust="spacingAndGlyphs" >Shuffled</text>
<text x="385.6" y="213.3" font-size="8.2" text-anchor="middle" textLength="12.6" lengthAdjust="spacingAndGlyphs" transform="rotate(-90 385.6 213.3)" >PDI</text>
<text x="545.9" y="160.5" font-size="8.5" textLength="12.5" lengthAdjust="spacingAndGlyphs" >RL1</text>
<text x="588.9" y="160.5" font-size="8.5" textLength="37.8" lengthAdjust="spacingAndGlyphs" >PFs in RL1</text>
<text x="652.6" y="160.5" font-size="8.5" textLength="13.8" lengthAdjust="spacingAndGlyphs" >RL2</text>
<text x="545.9" y="277.8" font-size="8.5" textLength="12.5" lengthAdjust="spacingAndGlyphs" >RL1</text>
<text x="586.8" y="277.8" font-size="8.5" textLength="39.3" lengthAdjust="spacingAndGlyphs" >PFs in RL2</text>
<text x="652.9" y="277.8" font-size="8.5" textLength="14.0" lengthAdjust="spacingAndGlyphs" >RL2</text>
<text x="536.5" y="168.0" font-size="7.6" textLength="3.6" lengthAdjust="spacingAndGlyphs" >0</text>
<text x="529.7" y="214.5" font-size="7.6" textLength="10.4" lengthAdjust="spacingAndGlyphs" >812</text>
<text x="535.7" y="222.2" font-size="7.6" textLength="4.3" lengthAdjust="spacingAndGlyphs" >0</text>
<text x="526.1" y="268.3" font-size="7.6" textLength="13.8" lengthAdjust="spacingAndGlyphs" >800</text>
<text x="671.0" y="168.0" font-size="7.6" textLength="4.0" lengthAdjust="spacingAndGlyphs" >0</text>
<text x="671.0" y="214.4" font-size="7.6" textLength="11.0" lengthAdjust="spacingAndGlyphs" >812</text>
<text x="671.0" y="222.2" font-size="7.6" textLength="4.0" lengthAdjust="spacingAndGlyphs" >0</text>
<text x="671.0" y="268.0" font-size="7.6" textLength="12.8" lengthAdjust="spacingAndGlyphs" >800</text>
<rect x="525.8" y="228" width="5.1" height="25.4" fill="url(#jetvi)"/>
<text x="527.5" y="225.0" font-size="7.6" textLength="2.8" lengthAdjust="spacingAndGlyphs" >1</text>
<text x="526.1" y="260.9" font-size="7.6" textLength="4.2" lengthAdjust="spacingAndGlyphs" >0</text>
<text x="521.2" y="239.3" font-size="7.6" text-anchor="middle" textLength="40.8" lengthAdjust="spacingAndGlyphs" transform="rotate(-90 521.2 239.3)" >Scaled <tspan font-style="italic">Δ</tspan><tspan font-style="italic">F</tspan>/<tspan font-style="italic">F</tspan></text>
</svg>
<div class="hm" style="left:14px;top:163px;width:64px;height:100px"><i style="top:0px;background:linear-gradient(90deg,#150f66 0.5px,#19146a 31.5px,#2a2f7f 36.5px,#3364b9 41.5px,#3c99d1 45.5px,#3e9bce 49.5px,#3788ce 51.5px,#2e4297 55.5px,#242575 58.5px,#150f66 63.5px)"></i><i style="top:1px;background:linear-gradient(90deg,#120c64 0.5px,#1a176b 31.5px,#2b3484 36.5px,#3360b6 40.5px,#3a93d0 43.5px,#5ab5ae 47.5px,#53afb6 50.5px,#3b92ce 52.5px,#2e4095 56.5px,#212072 59.5px,#171268 63.5px)"></i><i style="top:2px;background:linear-gradient(90deg,#120c64 0.5px,#181469 30.5px,#2a2e7e 35.5px,#335eb4 39.5px,#3f98cc 42.5px,#66c09f 46.5px,#5fb9a7 49.5px,#3b8ecc 52.5px,#2e4095 56.5px,#232273 59.5px,#161067 63.5px)"></i><i style="top:3px;background:linear-gradient(90deg,#171268 0.5px,#171268 30.5px,#2b3182 37.5px,#2e4196 39.5px,#3358a8 40.5px,#5d8fa8 41.5px,#c19a54 42.5px,#d24621 43.5px,#aa100f 44.5px,#90050a 45.5px,#850309 48.5px,#8a040a 49.5px,#c41c15 51.5px,#cb1f16 52.5px,#bc1511 53.5px,#cb351a 54.5px,#c78643 55.5px,#70948c 56.5px,#365190 57.5px,#242879 58.5px,#161168 62.5px,#171268 63.5px)"></i><i style="top:4px;background:linear-gradient(90deg,#151067 0.5px,#1a166b 31.5px,#2b3383 37.5px,#304aa1 40.5px,#3c65a9 41.5px,#739f91 42.5px,#cc9647 43.5px,#da4520 44.5px,#bb1410 45.5px,#a6080b 46.5px,#a90a0c 48.5px,#ca1d15 50.5px,#a2070b 53.5px,#a7090c 54.5px,#bc1711 55.5px,#da4c21 56.5px,#c99b4b 57.5px,#6c9893 58.5px,#335093 59.5px,#1e2074 60.5px,#150f67 62.5px,#171268 63.5px)"></i><i style="top:5px;background:linear-gradient(90deg,#140f66 0.5px,#19156b 30.5px,#2b3484 36.5px,#325ab2 40.5px,#3871bc 41.5px,#6298a9 42.5px,#c39850 43.5px,#ce421e 44.5px,#a40e0e 45.5px,#880309 46.5px,#820209 47.5px,#b51311 49.5px,#830209 51.5px,#7d0008 52.5px,#840209 53.5px,#a00e0e 54.5px,#cc4720 55.5px,#be9d51 56.5px,#597593 57.5px,#2b3784 58.5px,#212072 59.5px,#140e66 63.5px)"></i><i style="top:6px;background:linear-gradient(90deg,#130d65 0.5px,#181369 30.5px,#2c3586 37.5px,#3250a7 40.5px,#446fa7 41.5px,#869e7d 42.5px,#c86d36 43.5px,#b62012 44.5px,#95060a 45.5px,#95050a 46.5px,#bc1411 48.5px,#8a0309 50.5px,#800108 51.5px,#860209 52.5px,#a10e0e 53.5px,#cd4821 54.5px,#be9f52 55.5px,#597392 56.5px,#2d3a88 57.5px,#1f1d70 59.5px,#181369 63.5px)"></i><i style="top:7px;background:linear-gradient(90deg,#120c64 0.5px,#150f66 9.5px,#1c196d 31.5px,#2c3587 36.5px,#3361b6 40.5px,#3984c9 42.5px,#5e9db1 43.5px,#bda255 44.5px,#c5411e 45.5px,#990b0c 46.5px,#810109 47.5px,#7f0108 52.5px,#92070a 53.5px,#ba2e16 54.5px,#bd834a 55.5px,#5d829f 56.5px,#304894 57.5px,#282c7c 58.5px,#151067 62.5px,#140e66 63.5px)"></i><i style="top:8px;background:linear-gradient(90deg,#120b64 0.5px,#151067 12.5px,#18146a 30.5px,#2c3587 36.5px,#314ca1 38.5px,#4372a8 39.5px,#86a880 40.5px,#d28b3c 41.5px,#d13a1c 42.5px,#ad0f0f 43.5px,#8d0409 45.5px,#8d0309 50.5px,#9c080b 51.5px,#dc341c 53.5px,#e44521 54.5px,#dc7b34 55.5px,#9fa76c 56.5px,#4c709b 57.5px,#2a3685 58.5px,#1d1a6e 60.5px,#161067 63.5px)"></i><i style="top:9px;background:linear-gradient(90deg,#140d65 0.5px,#181369 30.5px,#2a3080 36.5px,#3250a4 39.5px,#5077a1 40.5px,#a5a266 41.5px,#cf602c 42.5px,#b01910 43.5px,#8e040a 44.5px,#7b0008 46.5px,#820209 51.5px,#9b0b0d 52.5px,#c7401d 53.5px,#bd964f 54.5px,#5b7a99 55.5px,#304694 56.5px,#252677 58.5px,#140e66 63.5px)"></i><i style="top:10px;background:linear-gradient(90deg,#130d65 0.5px,#1a166b 31.5px,#2c3789 36.5px,#314ea5 38.5px,#4870a4 39.5px,#90a075 40.5px,#cc6d33 41.5px,#b82012 42.5px,#96060a 43.5px,#880309 44.5px,#94070b 45.5px,#b31210 46.5px,#890309 48.5px,#840209 50.5px,#8f040a 51.5px,#ad140f 52.5px,#d55524 53.5px,#bda757 54.5px,#59829f 55.5px,#314a9a 56.5px,#282a7a 58.5px,#151067 63.5px)"></i><i style="top:11px;background:linear-gradient(90deg,#140f66 0.5px,#181369 30.5px,#2c3587 36.5px,#3256af 39.5px,#386eba 40.5px,#6393a6 41.5px,#c0894b 42.5px,#c23519 43.5px,#9a0a0c 44.5px,#850209 45.5px,#810109 50.5px,#91060a 51.5px,#b72b14 52.5px,#bc7d48 53.5px,#5e80a2 54.5px,#3458ab 55.5px,#2b3486 57.5px,#19156a 61.5px,#161067 63.5px)"></i><i style="top:12px;background:linear-gradient(90deg,#161168 0.5px,#1a166b 31.5px,#2c3485 37.5px,#314ea6 40.5px,#3a67af 41.5px,#6c9c9a 42.5px,#c99c4c 43.5px,#dd5223 44.5px,#c71f14 45.5px,#b20a0c 47.5px,#b9100e 52.5px,#ce3219 53.5px,#c87b40 54.5px,#719189 55.5px,#385290 56.5px,#2a3080 57.5px,#171268 61.5px,#161167 63.5px)"></i><i style="top:13px;background:linear-gradient(90deg,#120c64 0.5px,#1a166b 32.5px,#2b3384 38.5px,#345ab1 43.5px,#4476ad 44.5px,#829c80 45.5px,#cc6938 46.5px,#d42f1a 47.5px,#cc1e15 48.5px,#ce2016 51.5px,#d93b1d 52.5px,#c97a43 53.5px,#6d8d8f 54.5px,#375495 55.5px,#2b3484 56.5px,#171268 61.5px,#150f66 63.5px)"></i><i style="top:14px;background:linear-gradient(90deg,#161168 0.5px,#171369 30.5px,#2c3586 37.5px,#3468bb 42.5px,#3777c2 43.5px,#5d92ab 44.5px,#c4ba59 45.5px,#ecab32 46.5px,#ea6123 48.5px,#e95d23 50.5px,#e97f2b 51.5px,#c2aa53 52.5px,#5b7b9d 53.5px,#3355ab 54.5px,#242475 58.5px,#151067 63.5px)"></i><i style="top:15px;background:linear-gradient(90deg,#18146a 0.5px,#161067 10.5px,#18146a 41.5px,#2f4398 45.5px,#2d388a 47.5px,#181368 50.5px,#171268 63.5px)"></i><i style="top:16px;background:#150f67"></i><i style="top:17px;background:#150f67"></i><i style="top:18px;background:#150f67"></i><i style="top:19px;background:#150f66"></i><i style="top:20px;background:#150f67"></i><i style="top:21px;background:#151067"></i><i style="top:22px;background:linear-gradient(90deg,#120b64 0.5px,#171268 9.5px,#140f66 16.5px,#151067 63.5px)"></i><i style="top:23px;background:#150f66"></i><i style="top:24px;background:#150f67"></i><i style="top:25px;background:linear-gradient(90deg,#120b64 0.5px,#171268 63.5px)"></i><i style="top:26px;background:linear-gradient(90deg,#171369 0.5px,#171268 24.5px,#130d65 63.5px)"></i><i style="top:27px;background:linear-gradient(90deg,#161168 0.5px,#171269 35.5px,#2c3687 42.5px,#304f9c 43.5px,#4f90af 44.5px,#9fc477 45.5px,#dcca44 46.5px,#ebc337 47.5px,#ecc337 49.5px,#efb131 51.5px,#eeb432 53.5px,#ebc037 54.5px,#cdd051 55.5px,#79b38c 56.5px,#3c68a1 57.5px,#232c7e 58.5px,#19166b 59.5px,#161067 63.5px)"></i><i style="top:28px;background:linear-gradient(90deg,#171369 0.5px,#19156a 36.5px,#2b3384 42.5px,#2f3f91 43.5px,#506994 44.5px,#ab9d5f 45.5px,#d35929 46.5px,#be1a11 47.5px,#b40f0e 48.5px,#c82315 49.5px,#e0471e 50.5px,#e1481e 51.5px,#ca2415 52.5px,#b7110f 53.5px,#c42915 54.5px,#c4713e 55.5px,#6e8a86 56.5px,#324582 57.5px,#1e1d6f 58.5px,#151067 63.5px)"></i><i style="top:29px;background:linear-gradient(90deg,#120b64 0.5px,#1a166b 37.5px,#2a2f7e 42.5px,#2f3c8c 43.5px,#546991 44.5px,#b49c58 45.5px,#d35226 46.5px,#b81510 47.5px,#a5080b 48.5px,#a2080b 52.5px,#aa0b0d 53.5px,#c22715 54.5px,#c5703c 55.5px,#748f82 56.5px,#354a85 57.5px,#1e1d70 58.5px,#150f67 61.5px,#161168 63.5px)"></i><i style="top:30px;background:linear-gradient(90deg,#181369 0.5px,#171269 35.5px,#2b3182 40.5px,#2e3c8e 41.5px,#4a608e 42.5px,#9c9465 43.5px,#c7512c 44.5px,#ac1410 45.5px,#94050a 46.5px,#94050a 48.5px,#ad100f 49.5px,#d5301b 50.5px,#e75c24 51.5px,#c8844a 52.5px,#5e7c9f 53.5px,#3351a1 54.5px,#2b307f 56.5px,#161168 61.5px,#181369 63.5px)"></i><i style="top:31px;background:linear-gradient(90deg,#140e66 0.5px,#181369 35.5px,#2c3484 41.5px,#30459a 43.5px,#3c60a3 44.5px,#6f848c 45.5px,#b44a39 46.5px,#9c110f 47.5px,#810209 48.5px,#800108 49.5px,#a90b0d 51.5px,#8c040a 53.5px,#a20f0f 54.5px,#cd4a23 55.5px,#b99e55 56.5px,#546e90 57.5px,#232b7c 58.5px,#19166b 59.5px,#130d65 63.5px)"></i><i style="top:32px;background:linear-gradient(90deg,#151067 0.5px,#181369 35.5px,#282e7f 39.5px,#3a5a97 40.5px,#769c88 41.5px,#c98840 42.5px,#c63419 43.5px,#9d0b0d 44.5px,#850309 45.5px,#820209 47.5px,#ab0c0d 49.5px,#810109 51.5px,#830209 52.5px,#9d0c0d 53.5px,#ca441f 54.5px,#be9a50 55.5px,#587492 56.5px,#293583 57.5px,#1f1e71 58.5px,#130d65 63.5px)"></i><i style="top:33px;background:linear-gradient(90deg,#151067 0.5px,#181369 35.5px,#292d7c 39.5px,#2f4591 40.5px,#5b809c 41.5px,#bf9751 42.5px,#ce431f 43.5px,#ac100e 44.5px,#ab0d0e 45.5px,#c01913 46.5px,#8f040a 48.5px,#880209 51.5px,#9f090c 53.5px,#bf2414 54.5px,#d86e2c 55.5px,#aeac64 56.5px,#5280a0 57.5px,#2b3c89 58.5px,#1e1d70 59.5px,#130d65 63.5px)"></i><i style="top:34px;background:linear-gradient(90deg,#120b64 0.5px,#1b176c 37.5px,#2b3280 41.5px,#405a8e 42.5px,#839577 43.5px,#c26134 44.5px,#ac1a11 45.5px,#8a0409 46.5px,#7b0008 48.5px,#800209 51.5px,#9d1610 52.5px,#af5141 53.5px,#5b6d99 54.5px,#2f428d 55.5px,#272978 56.5px,#161067 61.5px,#130d65 63.5px)"></i><i style="top:35px;background:linear-gradient(90deg,#161167 0.5px,#171269 35.5px,#2b3384 41.5px,#30469b 43.5px,#43659c 44.5px,#859078 45.5px,#cd5535 46.5px,#de371e 47.5px,#c82216 48.5px,#9e0b0d 49.5px,#8d0309 50.5px,#93050a 52.5px,#ac1510 53.5px,#c6532e 54.5px,#979468 55.5px,#465a88 56.5px,#25297a 57.5px,#161168 60.5px,#161067 63.5px)"></i><i style="top:36px;background:linear-gradient(90deg,#161067 0.5px,#18146a 36.5px,#2c3383 42.5px,#38528f 43.5px,#708a86 44.5px,#bd643c 45.5px,#b01d12 46.5px,#92050a 47.5px,#880209 50.5px,#8d040a 51.5px,#a92212 52.5px,#b6633d 53.5px,#595685 54.5px,#2d3686 55.5px,#1b186c 58.5px,#140f66 63.5px)"></i><i style="top:37px;background:linear-gradient(90deg,#150f67 0.5px,#151067 34.5px,#2b3282 41.5px,#334ba0 44.5px,#596c92 45.5px,#b8924b 46.5px,#bc3919 47.5px,#a00a0c 48.5px,#97050a 50.5px,#9a070b 51.5px,#af1b12 52.5px,#b55742 53.5px,#5b6f9b 54.5px,#304693 55.5px,#292d7c 56.5px,#150f67 61.5px,#161168 63.5px)"></i><i style="top:38px;background:linear-gradient(90deg,#120b64 0.5px,#18146a 36.5px,#1f1e70 38.5px,#273282 39.5px,#3e6ca2 40.5px,#7bb28a 41.5px,#cfc34c 42.5px,#eea730 43.5px,#f19129 44.5px,#f18626 50.5px,#f29a2a 52.5px,#e7b538 53.5px,#b6c664 54.5px,#609ca1 55.5px,#33549b 56.5px,#23287b 57.5px,#171268 60.5px,#130d65 63.5px)"></i><i style="top:39px;background:linear-gradient(90deg,#151067 0.5px,#181369 36.5px,#2c3686 42.5px,#2f3f91 43.5px,#3c5c98 44.5px,#748683 45.5px,#bb4836 46.5px,#b41311 47.5px,#a6090b 48.5px,#a9090c 49.5px,#ba1210 50.5px,#d8331b 51.5px,#e66c27 52.5px,#c49c4e 53.5px,#5a6d90 54.5px,#2d3a88 55.5px,#201f71 57.5px,#171268 62.5px,#171269 63.5px)"></i><i style="top:40px;background:linear-gradient(90deg,#161168 0.5px,#171268 35.5px,#292d7c 41.5px,#2e3f8e 42.5px,#52779b 43.5px,#b0ac62 44.5px,#e17e30 45.5px,#e34420 46.5px,#df331e 47.5px,#e54c21 48.5px,#ee7e26 49.5px,#ed7525 50.5px,#e64b21 51.5px,#df642b 52.5px,#b39a52 53.5px,#505a7d 54.5px,#2c3281 55.5px,#161168 60.5px,#161167 63.5px)"></i><i style="top:41px;background:linear-gradient(90deg,#171268 0.5px,#161067 11.5px,#1d1c71 12.5px,#2b3f8d 13.5px,#4a80a7 14.5px,#94bf7b 15.5px,#c5d157 16.5px,#94bf7b 17.5px,#4a80a7 18.5px,#2b3f8d 19.5px,#1e1d71 20.5px,#150f66 23.5px,#171268 63.5px)"></i><i style="top:42px;background:#151067"></i><i style="top:43px;background:#140e66"></i><i style="top:44px;background:#150f67"></i><i style="top:45px;background:linear-gradient(90deg,#181369 0.5px,#140e66 63.5px)"></i><i style="top:46px;background:linear-gradient(90deg,#120c64 0.5px,#130d65 37.5px,#140e65 63.5px)"></i><i style="top:47px;background:linear-gradient(90deg,#181369 0.5px,#120b64 63.5px)"></i><i style="top:48px;background:#150f67"></i><i style="top:49px;background:linear-gradient(90deg,#181369 0.5px,#171268 63.5px)"></i><i style="top:50px;background:#150f66"></i><i style="top:51px;background:linear-gradient(90deg,#181369 0.5px,#161067 36.5px,#2a2f7f 41.5px,#304b96 42.5px,#5d8ba2 43.5px,#c6a854 44.5px,#eb842a 45.5px,#ec6b24 46.5px,#eb6824 48.5px,#ea7d29 49.5px,#c39b4c 50.5px,#59678e 51.5px,#31469a 52.5px,#1f1d70 56.5px,#150f66 62.5px,#161168 63.5px)"></i><i style="top:52px;background:linear-gradient(90deg,#171269 0.5px,#171369 36.5px,#2a3181 41.5px,#2f4091 42.5px,#566c93 43.5px,#baa557 44.5px,#e26c2a 45.5px,#df371e 46.5px,#dc2d1c 47.5px,#e3401f 48.5px,#ec6a24 49.5px,#e54c22 51.5px,#d97634 52.5px,#9a9e68 53.5px,#475c89 54.5px,#292e7d 55.5px,#161067 59.5px,#130d65 63.5px)"></i><i style="top:53px;background:linear-gradient(90deg,#161067 0.5px,#161168 36.5px,#2b3383 41.5px,#385492 42.5px,#709b8d 43.5px,#cda64a 44.5px,#ea7828 45.5px,#e95a22 46.5px,#e85321 50.5px,#ea6324 51.5px,#dd8f37 52.5px,#97a46d 53.5px,#465d8c 54.5px,#2a307f 55.5px,#150f67 59.5px,#171269 63.5px)"></i><i style="top:54px;background:linear-gradient(90deg,#130d65 0.5px,#19156b 38.5px,#1d1b6f 39.5px,#273583 40.5px,#597997 41.5px,#bc8d4e 42.5px,#c1391b 43.5px,#970a0c 44.5px,#810209 45.5px,#7e0108 49.5px,#93090c 50.5px,#c52d18 51.5px,#c9713c 52.5px,#768f7d 53.5px,#36487f 54.5px,#232373 55.5px,#161168 60.5px,#161168 63.5px)"></i><i style="top:55px;background:linear-gradient(90deg,#130d65 0.5px,#181369 37.5px,#242475 40.5px,#2d3b87 41.5px,#5b7795 42.5px,#bc8b4c 43.5px,#be3619 44.5px,#95090b 45.5px,#810209 46.5px,#870309 47.5px,#b5110f 49.5px,#9d0b0d 51.5px,#b53d23 52.5px,#998b5a 53.5px,#475179 54.5px,#262877 55.5px,#161168 59.5px,#161168 63.5px)"></i><i style="top:56px;background:linear-gradient(90deg,#151067 0.5px,#161168 36.5px,#232475 39.5px,#2d428e 40.5px,#548aa5 41.5px,#b2bc67 42.5px,#e7a034 43.5px,#ed7626 44.5px,#eb6223 45.5px,#ea6023 49.5px,#ed7125 50.5px,#edb934 52.5px,#ddcb44 53.5px,#a2c273 54.5px,#4f86a6 55.5px,#2b3e8b 56.5px,#1e1e71 57.5px,#130c64 63.5px)"></i><i style="top:57px;background:linear-gradient(90deg,#181369 0.5px,#151067 36.5px,#1d1a6e 38.5px,#283483 39.5px,#4373a2 40.5px,#8ab480 41.5px,#d7b644 42.5px,#ef922a 43.5px,#ee7925 44.5px,#ed6d24 49.5px,#ee7425 51.5px,#ef8527 52.5px,#eba832 53.5px,#c2c65a 54.5px,#66a09c 55.5px,#34549a 56.5px,#202478 57.5px,#161168 59.5px,#140e66 63.5px)"></i><i style="top:58px;background:linear-gradient(90deg,#130d65 0.5px,#181369 37.5px,#212273 39.5px,#334887 40.5px,#6d8c8a 41.5px,#c57a40 42.5px,#c22c16 43.5px,#a40b0d 44.5px,#97060a 47.5px,#9b070b 49.5px,#af1210 50.5px,#c94b2a 51.5px,#9e9160 52.5px,#4a5a84 53.5px,#2c3280 54.5px,#19146a 58.5px,#151067 63.5px)"></i><i style="top:59px;background:linear-gradient(90deg,#161168 0.5px,#171269 36.5px,#2b3182 41.5px,#31479c 43.5px,#46699e 44.5px,#8ea376 45.5px,#d98d3a 46.5px,#ea6724 47.5px,#e95c22 49.5px,#ea6023 50.5px,#e97929 51.5px,#c49e50 52.5px,#5a7798 53.5px,#2f4391 54.5px,#222172 56.5px,#171268 60.5px,#150f66 63.5px)"></i><i style="top:60px;background:linear-gradient(90deg,#151067 0.5px,#18146a 37.5px,#2a3182 41.5px,#304897 42.5px,#5b6d99 43.5px,#c36646 44.5px,#e34622 45.5px,#dd391d 46.5px,#a30b0c 48.5px,#ad2913 49.5px,#b67240 50.5px,#5a5e89 51.5px,#324497 52.5px,#201e71 56.5px,#171268 63.5px)"></i><i style="top:61px;background:linear-gradient(90deg,#140d65 0.5px,#161168 23.5px,#181369 37.5px,#2a2e7c 41.5px,#3f5485 42.5px,#858f71 43.5px,#c15432 44.5px,#ad1611 45.5px,#a0080b 46.5px,#bb1210 48.5px,#95060a 50.5px,#95060b 51.5px,#af1a11 52.5px,#bf5f37 53.5px,#788e7b 54.5px,#384e84 55.5px,#212274 56.5px,#120c64 61.5px,#120b64 63.5px)"></i><i style="top:62px;background:linear-gradient(90deg,#161168 0.5px,#181369 37.5px,#2c3482 43.5px,#39548f 44.5px,#739e89 45.5px,#cfb04a 46.5px,#ef922b 47.5px,#ef7e26 48.5px,#ef7d26 51.5px,#ec952d 52.5px,#c0ac50 53.5px,#546182 54.5px,#272b7b 55.5px,#18146a 57.5px,#130c65 63.5px)"></i><i style="top:63px;background:linear-gradient(90deg,#161168 0.5px,#171168 12.5px,#171268 33.5px,#1f1d70 39.5px,#2e3989 42.5px,#4f658f 43.5px,#aa9d5f 44.5px,#d7622c 45.5px,#cd2718 46.5px,#c11612 47.5px,#c31712 51.5px,#d02c18 52.5px,#d36b31 53.5px,#989b69 54.5px,#455a89 55.5px,#222678 56.5px,#171268 58.5px,#171268 63.5px)"></i><i style="top:64px;background:linear-gradient(90deg,#171369 0.5px,#161067 12.5px,#171269 37.5px,#2d3889 44.5px,#324fa0 46.5px,#5d749a 47.5px,#c88649 48.5px,#eb7126 49.5px,#eb6a24 51.5px,#ea822a 52.5px,#c3a14f 53.5px,#57688c 54.5px,#272e7f 55.5px,#19146a 57.5px,#171369 63.5px)"></i><i style="top:65px;background:#140f66"></i><i style="top:66px;background:#151067"></i><i style="top:67px;background:linear-gradient(90deg,#150f66 0.5px,#161067 21.5px,#2c3687 25.5px,#222274 28.5px,#140e65 34.5px,#150f67 63.5px)"></i><i style="top:68px;background:#150f66"></i><i style="top:69px;background:#140e66"></i><i style="top:70px;background:#140e66"></i><i style="top:71px;background:#150f67"></i><i style="top:72px;background:#150f67"></i><i style="top:73px;background:linear-gradient(90deg,#120b64 0.5px,#150f66 63.5px)"></i><i style="top:74px;background:#151067"></i><i style="top:75px;background:#150f66"></i><i style="top:76px;background:linear-gradient(90deg,#161067 0.5px,#181369 36.5px,#2d398a 42.5px,#3a5994 43.5px,#70a98d 44.5px,#bed55e 45.5px,#dfdf46 46.5px,#e0e045 49.5px,#cfdc51 50.5px,#9dca78 51.5px,#5697a6 52.5px,#324f95 53.5px,#282d7d 54.5px,#161168 59.5px,#181369 63.5px)"></i><i style="top:77px;background:linear-gradient(90deg,#151067 0.5px,#181369 35.5px,#2a3181 40.5px,#2f4595 41.5px,#457caa 42.5px,#88bc84 43.5px,#d3d34d 44.5px,#ebc939 45.5px,#edc336 48.5px,#ded846 50.5px,#e4db42 51.5px,#d1d74f 52.5px,#86ba84 53.5px,#4474a3 54.5px,#2b3987 55.5px,#1e1b6f 57.5px,#161168 63.5px)"></i><i style="top:78px;background:linear-gradient(90deg,#181369 0.5px,#161067 34.5px,#292c7b 40.5px,#2f4690 41.5px,#568ca5 42.5px,#b6bd64 43.5px,#e8a033 44.5px,#ed7826 45.5px,#eb6223 47.5px,#eb6523 51.5px,#ed7425 52.5px,#ea9b31 53.5px,#babb60 54.5px,#5688a1 55.5px,#2a3c88 56.5px,#1e1c6f 57.5px,#140f66 61.5px,#161168 63.5px)"></i><i style="top:79px;background:linear-gradient(90deg,#130d65 0.5px,#181369 35.5px,#1e1c70 37.5px,#262f80 38.5px,#486b99 39.5px,#99a470 40.5px,#d27333 41.5px,#c32916 42.5px,#a50c0d 43.5px,#98060a 44.5px,#98060a 45.5px,#ab0e0e 46.5px,#ce2717 47.5px,#dd3b1d 48.5px,#bd1712 50.5px,#cb4623 51.5px,#af9454 52.5px,#526085 53.5px,#2e3887 54.5px,#181369 59.5px,#151067 63.5px)"></i><i style="top:80px;background:linear-gradient(90deg,#150f67 0.5px,#181369 34.5px,#282d7d 39.5px,#335096 40.5px,#6098a0 41.5px,#bcc360 42.5px,#e9ac34 43.5px,#f08e29 44.5px,#ef7e26 46.5px,#f07f26 49.5px,#ee8d2a 50.5px,#cfa949 51.5px,#719b8d 52.5px,#395897 53.5px,#2d3788 54.5px,#1a166b 58.5px,#181369 63.5px)"></i><i style="top:81px;background:linear-gradient(90deg,#171268 0.5px,#171269 34.5px,#2a2f7e 40.5px,#32489c 43.5px,#48679a 44.5px,#8f906f 45.5px,#bd452c 46.5px,#a40f0f 47.5px,#90050a 48.5px,#90050a 52.5px,#9c090c 53.5px,#bc2815 54.5px,#c4763e 55.5px,#719086 56.5px,#344a88 57.5px,#1c1c70 58.5px,#151067 60.5px,#181369 63.5px)"></i><i style="top:82px;background:linear-gradient(90deg,#140e66 0.5px,#161067 34.5px,#2a2f80 39.5px,#2e3c8e 40.5px,#436398 41.5px,#89ac7b 42.5px,#d6b744 43.5px,#ee972c 44.5px,#eb6c25 45.5px,#e95b22 46.5px,#e95a22 49.5px,#eb6423 50.5px,#ec8229 51.5px,#cead4a 52.5px,#74a08b 53.5px,#3a5995 54.5px,#2b3382 55.5px,#161168 60.5px,#130d65 63.5px)"></i><i style="top:83px;background:linear-gradient(90deg,#140e66 0.5px,#171369 35.5px,#2c3688 41.5px,#31499e 43.5px,#49699b 44.5px,#97a771 45.5px,#de9738 46.5px,#ef7e26 47.5px,#f08126 48.5px,#f29e2b 50.5px,#efa72f 52.5px,#c9bd53 53.5px,#679896 54.5px,#334a8d 55.5px,#242576 56.5px,#151067 60.5px,#120b64 63.5px)"></i><i style="top:84px;background:linear-gradient(90deg,#150f66 0.5px,#181369 35.5px,#2c3585 41.5px,#3b5993 42.5px,#789a83 43.5px,#cc813e 44.5px,#cf351a 45.5px,#b6100e 46.5px,#af0c0d 48.5px,#d62719 50.5px,#d7281a 51.5px,#b8100f 53.5px,#c52014 54.5px,#dc5d26 55.5px,#c1a856 56.5px,#5a889f 57.5px,#2a3d89 58.5px,#1a176c 59.5px,#161167 63.5px)"></i><i style="top:85px;background:linear-gradient(90deg,#120c64 0.5px,#19156a 35.5px,#2c3789 40.5px,#314da5 42.5px,#3866b3 43.5px,#6597a4 44.5px,#c9ad52 45.5px,#ef942b 46.5px,#f18d28 47.5px,#f0a82e 49.5px,#f28f28 51.5px,#eda630 52.5px,#c4c15a 53.5px,#5e92a0 54.5px,#30478e 55.5px,#262978 56.5px,#150f67 60.5px,#150f66 63.5px)"></i><i style="top:86px;background:linear-gradient(90deg,#151067 0.5px,#181369 35.5px,#2a2f7e 39.5px,#3a548c 40.5px,#779781 41.5px,#cc7f3e 42.5px,#d4381c 43.5px,#c21812 44.5px,#be1310 45.5px,#d8291a 47.5px,#cc2016 49.5px,#da4c22 50.5px,#c0944e 51.5px,#5a6b91 52.5px,#314598 53.5px,#242475 56.5px,#130c64 63.5px)"></i><i style="top:87px;background:linear-gradient(90deg,#120c64 0.5px,#19156a 36.5px,#292d7c 40.5px,#2f4792 41.5px,#4e8bab 42.5px,#9ec477 43.5px,#dad147 44.5px,#eaca39 45.5px,#e9cc3a 50.5px,#d4d44c 51.5px,#8dbe80 52.5px,#477ca6 53.5px,#2c3d8a 54.5px,#252677 55.5px,#130d65 61.5px,#150f67 63.5px)"></i><i style="top:88px;background:#151067"></i><i style="top:89px;background:#150f66"></i><i style="top:90px;background:#150f67"></i><i style="top:91px;background:#150f67"></i><i style="top:92px;background:#150f66"></i><i style="top:93px;background:linear-gradient(90deg,#130c64 0.5px,#150f66 41.5px,#181369 63.5px)"></i><i style="top:94px;background:#150f66"></i><i style="top:95px;background:#150f67"></i><i style="top:96px;background:linear-gradient(90deg,#130c64 0.5px,#120c64 36.5px,#171268 63.5px)"></i><i style="top:97px;background:#150f66"></i><i style="top:98px;background:#150f66"></i><i style="top:99px;background:linear-gradient(90deg,#120c64 0.5px,#150f67 63.5px)"></i></div>
<div class="hm" style="left:82px;top:163px;width:64px;height:100px"><i style="top:0px;background:#140f66"></i><i style="top:1px;background:#150f66"></i><i style="top:2px;background:#140f66"></i><i style="top:3px;background:#151067"></i><i style="top:4px;background:linear-gradient(90deg,#378cd0 0.5px,#336bb6 1.5px,#273585 2.5px,#19166b 3.5px,#161067 9.5px,#151067 63.5px)"></i><i style="top:5px;background:#140f66"></i><i style="top:6px;background:linear-gradient(90deg,#3573c1 0.5px,#3058ab 1.5px,#252d80 2.5px,#18146a 3.5px,#161168 22.5px,#150f66 63.5px)"></i><i style="top:7px;background:#151067"></i><i style="top:8px;background:#140e66"></i><i style="top:9px;background:#150f66"></i><i style="top:10px;background:#140f66"></i><i style="top:11px;background:#150f67"></i><i style="top:12px;background:#150f66"></i><i style="top:13px;background:linear-gradient(90deg,#171369 0.5px,#120b64 63.5px)"></i><i style="top:14px;background:#150f67"></i><i style="top:15px;background:linear-gradient(90deg,#130c65 0.5px,#19146a 16.5px,#2e4095 19.5px,#2e4095 20.5px,#19146a 23.5px,#140f66 29.5px,#151067 63.5px)"></i><i style="top:16px;background:#150f66"></i><i style="top:17px;background:linear-gradient(90deg,#130c65 0.5px,#151067 38.5px,#130d65 63.5px)"></i><i style="top:18px;background:linear-gradient(90deg,#171268 0.5px,#130d65 63.5px)"></i><i style="top:19px;background:linear-gradient(90deg,#171269 0.5px,#161168 17.5px,#151067 63.5px)"></i><i style="top:20px;background:#150f66"></i><i style="top:21px;background:#150f66"></i><i style="top:22px;background:#150f66"></i><i style="top:23px;background:#140f66"></i><i style="top:24px;background:#150f67"></i><i style="top:25px;background:#151067"></i><i style="top:26px;background:linear-gradient(90deg,#140e65 0.5px,#282a7a 9.5px,#2c3687 10.5px,#395da0 11.5px,#6e9f95 12.5px,#c9a54d 13.5px,#da5522 14.5px,#b61710 15.5px,#95050a 16.5px,#7d0109 18.5px,#7d0109 26.5px,#97060b 28.5px,#b91a11 29.5px,#db5b23 30.5px,#c8a94f 31.5px,#6c9e97 32.5px,#36599d 33.5px,#252b7d 34.5px,#1b186c 36.5px,#171268 49.5px,#120b64 63.5px)"></i><i style="top:27px;background:linear-gradient(90deg,#181369 0.5px,#201e70 7.5px,#2a2f7e 10.5px,#2f4692 11.5px,#5085a6 12.5px,#a6b26c 13.5px,#db8031 14.5px,#ce3219 15.5px,#ad0e0e 16.5px,#8f0409 18.5px,#8e0309 26.5px,#a3090b 28.5px,#bf1b12 29.5px,#dd5321 30.5px,#d0a145 31.5px,#7bac89 32.5px,#3f6ea5 33.5px,#2a3685 34.5px,#1f1e71 35.5px,#161168 40.5px,#151067 63.5px)"></i><i style="top:28px;background:linear-gradient(90deg,#161168 0.5px,#1f1c70 8.5px,#272c7d 10.5px,#34539a 11.5px,#65999d 12.5px,#c5ad53 13.5px,#db5f24 14.5px,#b81a11 15.5px,#96060b 16.5px,#7d0109 18.5px,#7e0109 26.5px,#9a070b 28.5px,#bd2013 29.5px,#dd6626 30.5px,#c5b254 31.5px,#659a9d 32.5px,#33529b 33.5px,#222679 34.5px,#18146a 36.5px,#151067 63.5px)"></i><i style="top:29px;background:#140e66"></i><i style="top:30px;background:#140e66"></i><i style="top:31px;background:#150f66"></i><i style="top:32px;background:#150f66"></i><i style="top:33px;background:#150f67"></i><i style="top:34px;background:#150f67"></i><i style="top:35px;background:linear-gradient(90deg,#171268 0.5px,#171168 39.5px,#171168 63.5px)"></i><i style="top:36px;background:#140f66"></i><i style="top:37px;background:#150f67"></i><i style="top:38px;background:#151067"></i><i style="top:39px;background:#151067"></i><i style="top:40px;background:linear-gradient(90deg,#140e66 0.5px,#1d1b6e 12.5px,#2b2f7d 15.5px,#3a538a 16.5px,#78957f 17.5px,#ca793c 18.5px,#cf3219 19.5px,#bd1210 20.5px,#b70d0e 21.5px,#c01511 22.5px,#e75a22 24.5px,#cc2216 26.5px,#d4331a 27.5px,#d87732 28.5px,#a0a66b 29.5px,#4c6d99 30.5px,#2c3785 31.5px,#211f71 33.5px,#130c65 42.5px,#161167 63.5px)"></i><i style="top:41px;background:linear-gradient(90deg,#140e66 0.5px,#1a166b 11.5px,#202073 12.5px,#324a8c 13.5px,#6a8f90 14.5px,#c48746 15.5px,#c5351a 16.5px,#9f0c0d 17.5px,#860209 19.5px,#8a0309 24.5px,#9b090b 25.5px,#bf2d16 26.5px,#c57f41 27.5px,#6e8f8c 28.5px,#364f8d 29.5px,#2b307f 30.5px,#161067 38.5px,#19156b 42.5px,#252d80 43.5px,#345da8 44.5px,#4392be 45.5px,#4392be 46.5px,#345da8 47.5px,#252d80 48.5px,#1a166c 49.5px,#140e66 63.5px)"></i><i style="top:42px;background:linear-gradient(90deg,#161067 0.5px,#1a176c 11.5px,#2e3988 16.5px,#50648c 17.5px,#ab975b 18.5px,#ce4d27 19.5px,#b01210 20.5px,#9b060a 21.5px,#97050a 25.5px,#a0080b 26.5px,#bb2313 27.5px,#c26d3d 28.5px,#708c86 29.5px,#374e8a 30.5px,#2b2f7d 31.5px,#150f66 38.5px,#140e66 63.5px)"></i><i style="top:43px;background:linear-gradient(90deg,#130d65 0.5px,#1c196d 10.5px,#2b3383 14.5px,#304a97 15.5px,#5786a2 16.5px,#b8ae5d 17.5px,#dc6a29 18.5px,#c52414 19.5px,#ac0b0d 20.5px,#9d060a 23.5px,#a4080b 28.5px,#b3100f 29.5px,#cf3319 30.5px,#d87e33 31.5px,#9eab6f 32.5px,#4b769e 33.5px,#2a3785 34.5px,#1f1e71 35.5px,#161067 42.5px,#120b64 63.5px)"></i><i style="top:44px;background:linear-gradient(90deg,#151067 0.5px,#1b186c 11.5px,#222274 13.5px,#293484 14.5px,#3e6ba3 15.5px,#7bae8a 16.5px,#d0b349 17.5px,#eb8029 18.5px,#e85522 19.5px,#e54120 20.5px,#e4401f 22.5px,#eb6823 24.5px,#ea6223 25.5px,#e44120 27.5px,#e64c21 28.5px,#ea7026 29.5px,#d8a53f 30.5px,#8fb17c 31.5px,#4674a1 32.5px,#293685 33.5px,#201e71 34.5px,#120b64 44.5px,#161168 63.5px)"></i><i style="top:45px;background:linear-gradient(90deg,#171269 0.5px,#1b186c 10.5px,#2b3282 14.5px,#2e3e90 15.5px,#476496 16.5px,#92996f 17.5px,#c95f30 18.5px,#b71b11 19.5px,#b20e0e 20.5px,#ba1411 21.5px,#830209 23.5px,#7e0108 26.5px,#8b0409 27.5px,#ad1c11 28.5px,#c26435 29.5px,#819579 30.5px,#3f5b90 31.5px,#2c3686 32.5px,#18146a 37.5px,#130c65 63.5px)"></i><i style="top:46px;background:linear-gradient(90deg,#140e66 0.5px,#1a176c 10.5px,#2b3383 14.5px,#345096 15.5px,#678c97 16.5px,#ca8d49 17.5px,#e15222 18.5px,#c42316 19.5px,#94090c 20.5px,#7e0108 21.5px,#800108 25.5px,#980b0c 26.5px,#c2421f 27.5px,#b59751 28.5px,#566a90 29.5px,#31469a 30.5px,#232273 34.5px,#161067 41.5px,#151067 63.5px)"></i><i style="top:47px;background:linear-gradient(90deg,#130c65 0.5px,#1c1a6e 11.5px,#262878 13.5px,#2f448e 14.5px,#5c859f 15.5px,#bf8d4e 16.5px,#c73a1b 17.5px,#a10c0d 18.5px,#8d0409 19.5px,#880209 24.5px,#8e0409 25.5px,#a40d0d 26.5px,#ca3c1c 27.5px,#c2904e 28.5px,#608ba0 29.5px,#324f99 30.5px,#2c3585 31.5px,#181369 37.5px,#120c64 63.5px)"></i><i style="top:48px;background:linear-gradient(90deg,#140e66 0.5px,#1c1a6e 11.5px,#23287b 12.5px,#395a98 13.5px,#769d89 14.5px,#ca8c42 15.5px,#cb391b 16.5px,#a40d0d 17.5px,#8b0309 18.5px,#7e0108 22.5px,#830209 25.5px,#95070b 26.5px,#bc2c15 27.5px,#c27f44 28.5px,#688b95 29.5px,#355196 30.5px,#2c3585 31.5px,#151067 38.5px,#140e66 63.5px)"></i><i style="top:49px;background:linear-gradient(90deg,#151067 0.5px,#1b186c 11.5px,#2b3382 14.5px,#496494 15.5px,#989c6d 16.5px,#ce6330 17.5px,#c42114 18.5px,#bf1612 20.5px,#880309 22.5px,#7b0008 25.5px,#870309 27.5px,#a10d0d 28.5px,#ca391b 29.5px,#c88d45 30.5px,#70988d 31.5px,#375595 32.5px,#25297b 33.5px,#161168 37.5px,#130c64 63.5px)"></i><i style="top:50px;background:linear-gradient(90deg,#161168 0.5px,#19156a 10.5px,#1f2175 11.5px,#324e94 12.5px,#689697 13.5px,#c69d4e 14.5px,#d74c22 15.5px,#b31410 16.5px,#97060b 17.5px,#890309 20.5px,#90040a 21.5px,#c11a13 23.5px,#92040a 25.5px,#97050a 26.5px,#b31410 27.5px,#d84d21 28.5px,#c69f4f 29.5px,#669499 30.5px,#345095 31.5px,#292e7e 32.5px,#161168 38.5px,#130c65 63.5px)"></i><i style="top:51px;background:linear-gradient(90deg,#140e66 0.5px,#1b186c 11.5px,#2b307f 15.5px,#304693 16.5px,#5c799a 17.5px,#bb8049 18.5px,#b92e16 19.5px,#92060a 20.5px,#7e0108 22.5px,#890309 26.5px,#a71510 27.5px,#c4562f 28.5px,#90946d 29.5px,#455d8c 30.5px,#2c3483 31.5px,#161168 37.5px,#150f66 63.5px)"></i><i style="top:52px;background:linear-gradient(90deg,#140d65 0.5px,#1c196d 11.5px,#2d3a8b 16.5px,#3e5d93 17.5px,#80a27c 18.5px,#d18d3d 19.5px,#d43c1c 20.5px,#b4110f 21.5px,#a5080b 23.5px,#ad0b0d 27.5px,#c11f14 28.5px,#d5612b 29.5px,#ada260 30.5px,#516e95 31.5px,#2c3785 32.5px,#201e70 34.5px,#150f66 42.5px,#140f66 63.5px)"></i><i style="top:53px;background:linear-gradient(90deg,#130d65 0.5px,#1c196d 11.5px,#2c3789 15.5px,#2f4296 16.5px,#3e629d 17.5px,#7b9c82 18.5px,#d1843e 19.5px,#e65523 20.5px,#e54720 21.5px,#e75021 22.5px,#ef902a 24.5px,#ef8828 25.5px,#e79530 26.5px,#b5b15f 27.5px,#557d9f 28.5px,#324c9d 29.5px,#242475 33.5px,#120c64 42.5px,#130d65 63.5px)"></i><i style="top:54px;background:linear-gradient(90deg,#130c64 0.5px,#181369 63.5px)"></i><i style="top:55px;background:#150f66"></i><i style="top:56px;background:linear-gradient(90deg,#171369 0.5px,#151067 47.5px,#161168 63.5px)"></i><i style="top:57px;background:#150f66"></i><i style="top:58px;background:#150f66"></i><i style="top:59px;background:linear-gradient(90deg,#110a63 0.5px,#130d65 46.5px,#140e66 63.5px)"></i><i style="top:60px;background:#150f67"></i><i style="top:61px;background:#150f66"></i><i style="top:62px;background:#150f66"></i><i style="top:63px;background:linear-gradient(90deg,#18146a 0.5px,#171268 63.5px)"></i><i style="top:64px;background:linear-gradient(90deg,#151067 0.5px,#1a166b 12.5px,#282c7b 15.5px,#2f4692 16.5px,#5c839f 17.5px,#c49651 18.5px,#e25725 19.5px,#db2f1c 20.5px,#d7281a 24.5px,#de381e 25.5px,#df6f2d 26.5px,#b1a45d 27.5px,#526c95 28.5px,#304295 29.5px,#252575 32.5px,#161168 37.5px,#212274 39.5px,#2e4095 41.5px,#2e4095 42.5px,#19156a 45.5px,#130d65 63.5px)"></i><i style="top:65px;background:linear-gradient(90deg,#151067 0.5px,#18146a 11.5px,#292d7c 15.5px,#304993 16.5px,#5d8ca1 17.5px,#c4a153 18.5px,#e15d25 19.5px,#d32a19 20.5px,#c71913 22.5px,#cb1f15 25.5px,#d94520 26.5px,#c18749 27.5px,#5a6993 28.5px,#324a9e 29.5px,#212072 33.5px,#130d65 40.5px,#140e65 63.5px)"></i><i style="top:66px;background:linear-gradient(90deg,#161168 0.5px,#1c1a6e 13.5px,#262777 15.5px,#2e448d 16.5px,#5c90a1 17.5px,#c5ba59 18.5px,#ec8d2c 19.5px,#ea6123 20.5px,#e85221 21.5px,#e85321 22.5px,#eb6623 23.5px,#f0a82e 25.5px,#f09029 27.5px,#dea43b 28.5px,#9aaf72 29.5px,#496f9b 30.5px,#2b3685 31.5px,#1e1c6f 33.5px,#151067 40.5px,#161168 63.5px)"></i><i style="top:67px;background:linear-gradient(90deg,#120b64 0.5px,#1b186c 12.5px,#282b7b 15.5px,#2f3f8c 16.5px,#597695 17.5px,#be9d51 18.5px,#cc4720 19.5px,#9f0e0e 20.5px,#840209 21.5px,#820209 23.5px,#b00d0d 25.5px,#ac0a0c 26.5px,#99060a 27.5px,#a5100f 28.5px,#cb4a24 29.5px,#b39b58 30.5px,#536a90 31.5px,#2a3282 32.5px,#1c196d 34.5px,#151067 47.5px,#120c64 63.5px)"></i><i style="top:68px;background:linear-gradient(90deg,#171269 0.5px,#181369 11.5px,#1e1c6f 13.5px,#262e7f 14.5px,#476998 15.5px,#98a26f 16.5px,#cf6d31 17.5px,#bb2213 18.5px,#99070b 19.5px,#840209 21.5px,#8c0309 22.5px,#ab0a0c 24.5px,#8c0309 26.5px,#a00d0d 27.5px,#c8421e 28.5px,#bd974f 29.5px,#597292 30.5px,#2d3a87 31.5px,#201e70 33.5px,#140e66 41.5px,#151067 63.5px)"></i><i style="top:69px;background:linear-gradient(90deg,#110b63 0.5px,#18146a 11.5px,#272979 14.5px,#354c8b 15.5px,#6e8f8b 16.5px,#c57c40 17.5px,#bf2b15 18.5px,#9c090b 19.5px,#880209 21.5px,#8b0309 25.5px,#97060a 26.5px,#b72012 27.5px,#c46d38 28.5px,#7a967e 29.5px,#3c5991 30.5px,#2c3686 31.5px,#181369 36.5px,#140e65 63.5px)"></i><i style="top:70px;background:linear-gradient(90deg,#150f66 0.5px,#19146a 11.5px,#2a3080 15.5px,#2f3d8e 16.5px,#52668f 17.5px,#ac965a 18.5px,#c74725 19.5px,#9f0e0e 20.5px,#840209 21.5px,#800209 25.5px,#9a120f 26.5px,#c0542f 27.5px,#909570 28.5px,#476699 29.5px,#304396 30.5px,#232374 33.5px,#140f66 38.5px,#150f67 63.5px)"></i><i style="top:71px;background:linear-gradient(90deg,#150f66 0.5px,#19146a 11.5px,#201f72 13.5px,#293483 14.5px,#49729d 15.5px,#98a872 16.5px,#d57c34 17.5px,#cc3018 18.5px,#b9110f 19.5px,#c91c14 21.5px,#91040a 24.5px,#95050a 28.5px,#a60c0d 29.5px,#c62b17 30.5px,#d67631 31.5px,#a2ab6c 32.5px,#4d799e 33.5px,#293685 34.5px,#1c196e 35.5px,#140e66 50.5px,#120c64 63.5px)"></i><i style="top:72px;background:linear-gradient(90deg,#161168 0.5px,#171268 11.5px,#1a166c 12.5px,#232a7d 13.5px,#4b6994 14.5px,#a39f66 15.5px,#cd5e2c 16.5px,#ae1911 17.5px,#8c040a 18.5px,#7b0008 20.5px,#830209 26.5px,#97070b 27.5px,#bc2413 28.5px,#d27130 29.5px,#9ea76d 30.5px,#4b739c 31.5px,#293584 32.5px,#202072 33.5px,#161067 39.5px,#130d65 63.5px)"></i><i style="top:73px;background:linear-gradient(90deg,#161067 0.5px,#19156a 12.5px,#293080 15.5px,#486394 16.5px,#969d6f 17.5px,#ce6931 18.5px,#bb2012 19.5px,#9e080b 20.5px,#8f0409 23.5px,#97060a 26.5px,#b11c11 27.5px,#bd613b 28.5px,#6f8786 29.5px,#374d89 30.5px,#292c7b 31.5px,#140e66 37.5px,#161168 63.5px)"></i><i style="top:74px;background:linear-gradient(90deg,#151067 0.5px,#171269 11.5px,#1d1b6f 12.5px,#2b3c88 13.5px,#56839e 14.5px,#b8ab5d 15.5px,#d66027 16.5px,#b31a11 17.5px,#91050a 18.5px,#7c0008 20.5px,#7e0108 26.5px,#8a0409 27.5px,#a9110f 28.5px,#d34a22 29.5px,#c19f55 30.5px,#5c8ba1 31.5px,#2d448e 32.5px,#222275 33.5px,#140f66 38.5px,#161168 63.5px)"></i><i style="top:75px;background:linear-gradient(90deg,#130d65 0.5px,#19146a 12.5px,#252a7c 14.5px,#496190 15.5px,#9d9d69 16.5px,#d1642f 17.5px,#c12013 18.5px,#ad0b0c 19.5px,#ae0b0c 20.5px,#c81b14 22.5px,#ae0b0c 25.5px,#c11f13 26.5px,#d76129 27.5px,#b2a45d 28.5px,#547497 29.5px,#2e3c89 30.5px,#232273 32.5px,#150f66 38.5px,#181469 63.5px)"></i><i style="top:76px;background:linear-gradient(90deg,#150f67 0.5px,#18146a 12.5px,#293080 15.5px,#51658d 16.5px,#b09e5b 17.5px,#d85f2a 18.5px,#c92316 19.5px,#bd1210 20.5px,#be1310 24.5px,#cb2717 25.5px,#d26530 26.5px,#9b9a67 27.5px,#49608d 28.5px,#2e398a 29.5px,#1b176c 34.5px,#140e65 52.5px,#161168 63.5px)"></i><i style="top:77px;background:#150f66"></i><i style="top:78px;background:linear-gradient(90deg,#181369 0.5px,#150f66 63.5px)"></i><i style="top:79px;background:#150f67"></i><i style="top:80px;background:#150f66"></i><i style="top:81px;background:#140f66"></i><i style="top:82px;background:linear-gradient(90deg,#120c64 0.5px,#130d65 50.5px,#130d65 63.5px)"></i><i style="top:83px;background:#151067"></i><i style="top:84px;background:#151067"></i><i style="top:85px;background:#150f66"></i><i style="top:86px;background:#140e66"></i><i style="top:87px;background:linear-gradient(90deg,#181369 0.5px,#171369 12.5px,#262777 15.5px,#384d83 16.5px,#77947d 17.5px,#ce7c3d 18.5px,#dd3d1f 19.5px,#d42619 20.5px,#d62b1a 24.5px,#e05324 25.5px,#c49550 26.5px,#6293a7 27.5px,#4ca2bb 28.5px,#5eb8a8 29.5px,#5eb8a8 30.5px,#499eba 31.5px,#3770b7 32.5px,#2e4699 33.5px,#262a7c 34.5px,#181369 36.5px,#171268 63.5px)"></i><i style="top:88px;background:linear-gradient(90deg,#130d65 0.5px,#18146a 12.5px,#262878 15.5px,#2e3b89 16.5px,#5a6e91 17.5px,#c1924d 18.5px,#dd4c23 19.5px,#da361c 20.5px,#e55320 21.5px,#dc391c 22.5px,#c21711 23.5px,#b90e0e 24.5px,#c21712 25.5px,#d74420 26.5px,#c28e4f 27.5px,#5c7e9e 28.5px,#314e9d 29.5px,#2a3080 31.5px,#150f67 38.5px,#161168 63.5px)"></i><i style="top:89px;background:linear-gradient(90deg,#171268 0.5px,#171269 12.5px,#1b196d 13.5px,#273483 14.5px,#587c98 15.5px,#c3a854 16.5px,#e87c2a 17.5px,#df531f 18.5px,#b81d11 19.5px,#9a070b 20.5px,#91040a 23.5px,#97060a 24.5px,#af1a11 25.5px,#bc5c3c 26.5px,#6e888c 27.5px,#395a9b 28.5px,#2e3d8f 29.5px,#1d1b6e 34.5px,#161067 46.5px,#110a63 63.5px)"></i><i style="top:90px;background:linear-gradient(90deg,#130d65 0.5px,#19156a 12.5px,#1f2175 13.5px,#2f4c97 14.5px,#5c96a4 15.5px,#babf61 16.5px,#e99730 17.5px,#eb6724 18.5px,#ea6b25 19.5px,#ed8829 20.5px,#e43c1f 22.5px,#e2331e 25.5px,#e44321 27.5px,#e86425 28.5px,#da9c3c 29.5px,#94af77 30.5px,#47739f 31.5px,#2a3785 32.5px,#1e1c6f 34.5px,#120c64 44.5px,#171268 63.5px)"></i><i style="top:91px;background:linear-gradient(90deg,#161168 0.5px,#181369 12.5px,#212376 14.5px,#38518a 15.5px,#79947e 16.5px,#c56e39 17.5px,#bc2313 18.5px,#a0080b 19.5px,#93040a 22.5px,#98060a 24.5px,#ae1610 25.5px,#bd5335 26.5px,#7a8f7d 27.5px,#3e5e96 28.5px,#2f3e8f 29.5px,#1d1b6e 34.5px,#130c64 44.5px,#130d65 59.5px,#140e66 63.5px)"></i><i style="top:92px;background:linear-gradient(90deg,#140e65 0.5px,#18146a 12.5px,#222374 14.5px,#354984 15.5px,#708983 16.5px,#bd653b 17.5px,#ae1d11 18.5px,#8d040a 19.5px,#800108 22.5px,#860209 24.5px,#9f0e0e 25.5px,#c0462a 26.5px,#9a9267 27.5px,#4b6594 28.5px,#304497 29.5px,#1f1d70 34.5px,#130d65 43.5px,#171369 63.5px)"></i><i style="top:93px;background:linear-gradient(90deg,#130c65 0.5px,#1c196d 13.5px,#2d3483 16.5px,#525f83 17.5px,#af9251 18.5px,#bc3e1f 19.5px,#94090c 20.5px,#800108 21.5px,#7e0108 25.5px,#890309 26.5px,#a91810 27.5px,#c35c32 28.5px,#889473 29.5px,#425b8e 30.5px,#2c3584 31.5px,#18146a 36.5px,#151067 63.5px)"></i><i style="top:94px;background:linear-gradient(90deg,#171269 0.5px,#161168 11.5px,#272879 15.5px,#2d3786 16.5px,#53658b 17.5px,#b29654 18.5px,#c34321 19.5px,#990b0d 20.5px,#800109 21.5px,#800108 25.5px,#99090c 26.5px,#c52316 27.5px,#df5c25 28.5px,#c29d51 29.5px,#5a7998 30.5px,#2f418f 31.5px,#242474 33.5px,#150f67 39.5px,#171268 63.5px)"></i><i style="top:95px;background:linear-gradient(90deg,#140d65 0.5px,#1a176c 13.5px,#272877 16.5px,#334787 17.5px,#69888f 18.5px,#c67d43 19.5px,#cf351a 20.5px,#bf1812 21.5px,#8b0309 23.5px,#880309 26.5px,#91050a 27.5px,#ae1b12 28.5px,#be6038 29.5px,#768d7e 30.5px,#384e85 31.5px,#252877 32.5px,#150f67 37.5px,#150f67 63.5px)"></i><i style="top:96px;background:linear-gradient(90deg,#130d65 0.5px,#18146a 11.5px,#22297c 12.5px,#446597 13.5px,#92a073 14.5px,#cd6f33 15.5px,#b92213 16.5px,#96070b 17.5px,#800209 19.5px,#800108 23.5px,#8c0409 24.5px,#af2512 25.5px,#bb7344 26.5px,#5e7ba0 27.5px,#3459ac 28.5px,#2c3485 31.5px,#171269 37.5px,#151067 63.5px)"></i><i style="top:97px;background:linear-gradient(90deg,#130d65 0.5px,#1c196d 13.5px,#2a2d7b 15.5px,#4e587c 16.5px,#aa9154 17.5px,#cd4825 18.5px,#c81d15 19.5px,#c41913 20.5px,#95050a 22.5px,#8e0409 24.5px,#a00b0c 25.5px,#c5391b 26.5px,#be8c4d 27.5px,#5c81a0 28.5px,#324e9d 29.5px,#2a3080 31.5px,#161167 38.5px,#150f66 63.5px)"></i><i style="top:98px;background:linear-gradient(90deg,#140e65 0.5px,#171268 11.5px,#202073 13.5px,#2e4690 14.5px,#5e8e9f 15.5px,#c3a354 16.5px,#d85123 17.5px,#b51510 18.5px,#a5090c 19.5px,#c41b14 21.5px,#8e0409 23.5px,#8c0309 26.5px,#9d0a0c 27.5px,#c02e17 28.5px,#c58042 29.5px,#6c8f8e 30.5px,#364f90 31.5px,#2a307f 32.5px,#171268 37.5px,#130d65 63.5px)"></i><i style="top:99px;background:linear-gradient(90deg,#140e66 0.5px,#1a166b 13.5px,#1e1c70 14.5px,#273282 15.5px,#507498 16.5px,#aeab62 17.5px,#df762e 18.5px,#da361c 19.5px,#cc1f16 20.5px,#c91b14 26.5px,#d22518 27.5px,#e24820 28.5px,#dd8d37 29.5px,#9aae72 30.5px,#49729d 31.5px,#283483 32.5px,#201f71 33.5px,#150f67 40.5px,#161067 63.5px)"></i></div>
<div class="hm" style="left:149px;top:163px;width:64px;height:100px"><i style="top:0px;background:linear-gradient(90deg,#3457a3 0.5px,#5e98a4 1.5px,#bdc660 2.5px,#e4c33d 3.5px,#c0c75e 4.5px,#619aa2 5.5px,#34539c 6.5px,#2a3181 7.5px,#2a2c7a 20.5px,#2a2d7b 63.5px)"></i><i style="top:1px;background:linear-gradient(90deg,#2b3484 0.5px,#3458a4 1.5px,#5698ad 2.5px,#a6c370 3.5px,#dfbf40 4.5px,#e1bf3e 5.5px,#aec56a 6.5px,#5c9ca8 7.5px,#355ba6 8.5px,#2c3586 9.5px,#282a78 12.5px,#292b79 54.5px,#2a2d7c 63.5px)"></i><i style="top:2px;background:linear-gradient(90deg,#282978 0.5px,#292c7b 31.5px,#2f469d 35.5px,#292b7a 39.5px,#292b79 63.5px)"></i><i style="top:3px;background:linear-gradient(90deg,#2b307f 0.5px,#2a2e7d 59.5px,#2e4094 62.5px,#2e3e93 63.5px)"></i><i style="top:4px;background:linear-gradient(90deg,#292b7a 0.5px,#2b3383 30.5px,#2d3c90 32.5px,#292c7b 34.5px,#2b3383 51.5px,#2d3c90 53.5px,#292b7a 56.5px,#2a2d7c 63.5px)"></i><i style="top:5px;background:#2a2d7c"></i><i style="top:6px;background:#2a2d7c"></i><i style="top:7px;background:linear-gradient(90deg,#2b3080 0.5px,#2d3d91 3.5px,#2f469d 5.5px,#292d7d 8.5px,#2e4197 11.5px,#367cc6 14.5px,#3c93cd 15.5px,#6cc39a 18.5px,#9dd175 21.5px,#a3d370 24.5px,#80cb8a 27.5px,#4ba7bf 30.5px,#3c94cd 31.5px,#3150a8 34.5px,#2a2d7c 37.5px,#2a2d7c 41.5px,#2d3d91 44.5px,#2a2d7c 48.5px,#2a2d7c 63.5px)"></i><i style="top:8px;background:linear-gradient(90deg,#2a2f7e 0.5px,#292c7b 7.5px,#314ea6 10.5px,#3c93cc 13.5px,#70c596 16.5px,#aad46b 19.5px,#b4d665 22.5px,#92d07d 25.5px,#53afb6 28.5px,#429cc7 29.5px,#346dbe 31.5px,#2d398b 34.5px,#2a2e7c 37.5px,#2a2e7d 63.5px)"></i><i style="top:9px;background:linear-gradient(90deg,#2a2e7d 0.5px,#2a3080 9.5px,#2f4899 10.5px,#3e78b2 11.5px,#72b198 12.5px,#cac352 13.5px,#e7842b 14.5px,#d4371b 15.5px,#b2110f 16.5px,#91050a 18.5px,#93050a 20.5px,#a1090c 21.5px,#bd1912 22.5px,#dd4c20 23.5px,#df9937 24.5px,#a8bf6e 25.5px,#5b9fab 26.5px,#3765ae 27.5px,#2f4497 28.5px,#2f499f 29.5px,#3a82c3 31.5px,#4ea5b9 32.5px,#75c295 33.5px,#b1d266 34.5px,#decf43 35.5px,#f0a62e 37.5px,#f1a02c 38.5px,#ebbf37 40.5px,#d9d549 41.5px,#a3d071 42.5px,#6abba0 43.5px,#469cc0 44.5px,#3778c1 45.5px,#2e4298 47.5px,#2b2f7f 49.5px,#2b2f7d 63.5px)"></i><i style="top:10px;background:linear-gradient(90deg,#2a2e7d 0.5px,#292c7b 10.5px,#2b3586 11.5px,#3154a5 12.5px,#4389b8 13.5px,#7dbb8e 14.5px,#d0bd4b 15.5px,#e97e29 16.5px,#da391c 17.5px,#bf1511 18.5px,#a4070b 20.5px,#a8080b 22.5px,#b60f0e 23.5px,#cf2a17 24.5px,#e46424 25.5px,#dba83e 26.5px,#9dc077 27.5px,#549cb1 28.5px,#3664af 29.5px,#2e3f91 30.5px,#2a2e7c 32.5px,#2a2d7b 63.5px)"></i><i style="top:11px;background:linear-gradient(90deg,#2a2f7e 0.5px,#2a2d7b 8.5px,#2d3b8e 10.5px,#325aad 11.5px,#438ebc 12.5px,#7cbe91 13.5px,#cfc64d 14.5px,#ec8c2b 15.5px,#de441e 16.5px,#c11912 17.5px,#9a060a 19.5px,#97050a 22.5px,#b8110f 24.5px,#d5331a 25.5px,#e77427 26.5px,#d8b343 27.5px,#95c17d 28.5px,#529db3 29.5px,#3669b3 30.5px,#2e4395 31.5px,#2b3484 32.5px,#2f469d 34.5px,#292c7b 37.5px,#2a2d7b 63.5px)"></i><i style="top:12px;background:linear-gradient(90deg,#2a2e7d 0.5px,#2b3383 7.5px,#304aa2 9.5px,#314fa3 10.5px,#3d77b3 11.5px,#6faf9a 12.5px,#c6c355 13.5px,#e7872c 14.5px,#d73a1b 15.5px,#b6120f 16.5px,#9d070b 17.5px,#91040a 19.5px,#a2080b 21.5px,#be1912 22.5px,#dd4b1f 23.5px,#e09836 24.5px,#aabf6c 25.5px,#5d9faa 26.5px,#3866ad 27.5px,#2e4091 28.5px,#2b307f 30.5px,#2a2c7b 63.5px)"></i><i style="top:13px;background:linear-gradient(90deg,#2a2f7f 0.5px,#2b307f 8.5px,#2f489f 11.5px,#3359af 12.5px,#3e7fba 13.5px,#6bb09f 14.5px,#b8c661 15.5px,#e5a236 16.5px,#e66324 17.5px,#d7311b 18.5px,#c51a14 19.5px,#b90f0f 22.5px,#ce2417 24.5px,#e14720 25.5px,#ea842b 26.5px,#d5bc47 27.5px,#8cc184 28.5px,#4c98b8 29.5px,#3564b3 30.5px,#2f459a 31.5px,#2a2d7b 34.5px,#2b2f7e 63.5px)"></i><i style="top:14px;background:linear-gradient(90deg,#292c7b 0.5px,#2c3485 12.5px,#3572c0 16.5px,#3a93d0 18.5px,#4ca7be 22.5px,#3d97cf 26.5px,#3365b9 29.5px,#2a2e7d 33.5px,#2a2f7e 44.5px,#2e4095 48.5px,#2a2c7b 53.5px,#2a2d7b 63.5px)"></i><i style="top:15px;background:linear-gradient(90deg,#2a2e7d 0.5px,#2a2e7d 10.5px,#304ea6 13.5px,#3993d1 17.5px,#43a0c8 21.5px,#388ecf 24.5px,#2f479e 28.5px,#2b3282 30.5px,#2a2c7a 42.5px,#2a2d7b 63.5px)"></i><i style="top:16px;background:linear-gradient(90deg,#2a2d7b 0.5px,#2b2f7e 6.5px,#304aa2 10.5px,#2b307f 15.5px,#2b307f 51.5px,#304992 52.5px,#5d8ba0 53.5px,#c49d53 54.5px,#e25826 55.5px,#e14320 56.5px,#d47a38 57.5px,#8b9f78 58.5px,#44659a 59.5px,#2d3888 60.5px,#2a2e7c 63.5px)"></i><i style="top:17px;background:linear-gradient(90deg,#292b79 0.5px,#2c3485 9.5px,#304aa2 11.5px,#2f479e 13.5px,#2a2e7d 16.5px,#292c7a 49.5px,#2b3282 50.5px,#31519f 51.5px,#5592ad 52.5px,#afb869 53.5px,#e38731 54.5px,#e54921 55.5px,#e2381e 56.5px,#e65824 57.5px,#d69a3f 58.5px,#8ab080 59.5px,#467ba8 60.5px,#2f4392 61.5px,#2b307f 62.5px,#2a2c7a 63.5px)"></i><i style="top:18px;background:linear-gradient(90deg,#2a2d7b 0.5px,#2a2c7b 52.5px,#2c3281 53.5px,#344e94 54.5px,#658d99 55.5px,#c58f4b 56.5px,#d5401e 57.5px,#cc2316 58.5px,#db5625 59.5px,#bea656 60.5px,#597f99 61.5px,#2e3e89 62.5px,#2a2e7c 63.5px)"></i><i style="top:19px;background:linear-gradient(90deg,#292b7a 0.5px,#2b307f 51.5px,#2e3f8e 53.5px,#3f72a8 54.5px,#7bae8a 55.5px,#d0a546 56.5px,#e76526 57.5px,#e43e1f 58.5px,#e64921 59.5px,#e7842d 60.5px,#bebb5c 61.5px,#609ba4 62.5px,#365ea9 63.5px)"></i><i style="top:20px;background:linear-gradient(90deg,#2a2d7c 0.5px,#2b307f 26.5px,#2b307f 45.5px,#3258b2 49.5px,#314ea8 51.5px,#2d3b8e 53.5px,#36569b 54.5px,#699597 55.5px,#c6954b 56.5px,#d6431f 57.5px,#c41a13 58.5px,#cc3018 59.5px,#ce7c39 60.5px,#85a27e 61.5px,#42699f 62.5px,#2d3b8b 63.5px)"></i><i style="top:21px;background:linear-gradient(90deg,#2a2c7a 0.5px,#2b3181 13.5px,#3465ba 19.5px,#357ac6 24.5px,#346abd 29.5px,#2b307f 36.5px,#292b79 63.5px)"></i><i style="top:22px;background:linear-gradient(90deg,#292b79 0.5px,#2b3181 6.5px,#335bb4 14.5px,#3469bc 21.5px,#3892d3 24.5px,#378dd1 26.5px,#2f449a 30.5px,#2b2f7e 33.5px,#282a79 63.5px)"></i><i style="top:23px;background:linear-gradient(90deg,#2a2f7e 0.5px,#2b307f 8.5px,#335eb5 12.5px,#3a93d0 15.5px,#56b2b2 19.5px,#54b0b5 24.5px,#3d98ce 27.5px,#3365b9 30.5px,#2b3282 34.5px,#2a2e7d 37.5px,#2a2d7b 63.5px)"></i><i style="top:24px;background:linear-gradient(90deg,#2a2e7c 0.5px,#2b2f7e 15.5px,#3460b6 22.5px,#3568bb 28.5px,#314ba3 33.5px,#2b2f7e 37.5px,#2b3181 47.5px,#2e4094 49.5px,#2a2d7b 53.5px,#2a2c7a 63.5px)"></i><i style="top:25px;background:linear-gradient(90deg,#292a79 0.5px,#2b3181 14.5px,#304ea4 17.5px,#3e90c6 19.5px,#5eb2ac 20.5px,#93cc7e 21.5px,#cdd552 22.5px,#e8c239 23.5px,#f19029 25.5px,#ef7c26 27.5px,#f08727 29.5px,#eeb232 31.5px,#dfcc42 32.5px,#b3d265 33.5px,#76c394 34.5px,#4da4b9 35.5px,#397ec1 36.5px,#2e4297 38.5px,#2c3485 39.5px,#292b79 48.5px,#2a2d7c 63.5px)"></i><i style="top:26px;background:linear-gradient(90deg,#292b7a 0.5px,#2b307f 13.5px,#335bb3 19.5px,#3773be 20.5px,#4699c0 21.5px,#6cbb9e 22.5px,#a7d16f 23.5px,#d8d94a 24.5px,#eacd3b 25.5px,#edc136 27.5px,#e4d240 29.5px,#c6d758 30.5px,#8eca82 31.5px,#5cafad 32.5px,#3e89c3 33.5px,#3467ba 34.5px,#2e4196 38.5px,#292b79 43.5px,#2a2e7d 63.5px)"></i><i style="top:27px;background:linear-gradient(90deg,#282a78 0.5px,#2b307f 10.5px,#3255ae 14.5px,#3676c3 16.5px,#4892bb 17.5px,#89b884 18.5px,#d4a542 19.5px,#e05c23 20.5px,#c72315 21.5px,#b10d0e 22.5px,#a7090b 24.5px,#af0c0d 25.5px,#c51f14 26.5px,#e05421 27.5px,#eba330 28.5px,#ded345 29.5px,#afd568 30.5px,#75c395 31.5px,#4da3b9 32.5px,#397bbf 33.5px,#2d3d91 35.5px,#2a2c7b 37.5px,#2b2f7f 63.5px)"></i><i style="top:28px;background:linear-gradient(90deg,#2a2c7b 0.5px,#2c3789 2.5px,#3150ab 4.5px,#2f469e 6.5px,#2c3687 8.5px,#2f489f 10.5px,#3982c4 12.5px,#57b2b1 14.5px,#5bb6ad 16.5px,#7cc091 17.5px,#cdbd4e 18.5px,#e57928 19.5px,#cf3018 20.5px,#ae0e0e 21.5px,#91040a 23.5px,#97050a 25.5px,#aa0c0d 26.5px,#ca2a16 27.5px,#e36e26 28.5px,#cfb54a 29.5px,#7cbb91 30.5px,#449ac4 31.5px,#3785cb 32.5px,#2e4297 37.5px,#2b307f 40.5px,#292c7a 63.5px)"></i><i style="top:29px;background:linear-gradient(90deg,#2a2c7a 0.5px,#2c3586 8.5px,#335eb2 10.5px,#377dc5 11.5px,#4199c8 12.5px,#54b0b5 14.5px,#45a2c7 16.5px,#5badb2 17.5px,#a3c272 18.5px,#dea73b 19.5px,#e66524 20.5px,#d7311a 21.5px,#c51813 22.5px,#bd1210 25.5px,#ca1e15 26.5px,#df3d1e 27.5px,#ea7c29 28.5px,#d3ba48 29.5px,#84bd8a 30.5px,#458eb9 31.5px,#3257a8 32.5px,#2c3788 33.5px,#292b79 35.5px,#2b3282 57.5px,#2e4197 60.5px,#2a2e7c 63.5px)"></i><i style="top:30px;background:linear-gradient(90deg,#2a2c7a 0.5px,#2a2e7d 8.5px,#2e4296 10.5px,#3b87c4 12.5px,#4da7ba 13.5px,#5db8ab 14.5px,#5cb7ac 15.5px,#3d92ca 17.5px,#4ca0bf 18.5px,#90be81 19.5px,#d8af42 20.5px,#e76e26 21.5px,#d9341b 22.5px,#c51913 23.5px,#b90e0e 25.5px,#c91d14 27.5px,#df3d1e 28.5px,#ea7f2a 29.5px,#d0bc4b 30.5px,#7cba8e 31.5px,#4287b7 32.5px,#3151a3 33.5px,#2c3586 34.5px,#292b79 38.5px,#292b7a 62.5px,#282978 63.5px)"></i><i style="top:31px;background:linear-gradient(90deg,#2a2e7c 0.5px,#2b3180 9.5px,#2c388a 10.5px,#3673be 12.5px,#4197c6 13.5px,#51adb8 14.5px,#4fabbb 16.5px,#62b0ac 17.5px,#abc06c 18.5px,#e09937 19.5px,#de4d20 20.5px,#c01b12 21.5px,#9a060a 23.5px,#99050a 25.5px,#be1811 27.5px,#dd471e 28.5px,#e49433 29.5px,#b3c165 30.5px,#62a5a6 31.5px,#396baf 32.5px,#2e4193 33.5px,#2b3181 34.5px,#2a2c7b 41.5px,#2e4297 45.5px,#2a2d7b 49.5px,#292b7a 63.5px)"></i><i style="top:32px;background:linear-gradient(90deg,#2a2d7b 0.5px,#2b3384 10.5px,#3252ac 16.5px,#3461b6 17.5px,#458cb9 18.5px,#83ba89 19.5px,#d2b547 20.5px,#e87628 21.5px,#dc391d 22.5px,#ca1d15 23.5px,#be1411 25.5px,#d22a19 27.5px,#e45722 28.5px,#e39b36 29.5px,#b0c168 30.5px,#60a3a7 31.5px,#396bb2 32.5px,#304ba1 33.5px,#2a2c7b 38.5px,#292b7a 63.5px)"></i><i style="top:33px;background:linear-gradient(90deg,#292a79 0.5px,#2b3282 12.5px,#367ec8 22.5px,#3b98d2 26.5px,#335eb5 37.5px,#2a2d7c 45.5px,#2a2d7d 52.5px,#304aa2 55.5px,#2f469d 57.5px,#2b307f 59.5px,#292a79 63.5px)"></i><i style="top:34px;background:linear-gradient(90deg,#2a2b7a 0.5px,#2b307f 8.5px,#3572c1 17.5px,#3892d3 25.5px,#3466b9 32.5px,#292b79 41.5px,#282a79 63.5px)"></i><i style="top:35px;background:linear-gradient(90deg,#2a2d7b 0.5px,#2a2e7d 12.5px,#2e4094 14.5px,#397abf 16.5px,#4ea3b8 17.5px,#80c58d 18.5px,#c6cf56 19.5px,#e8af36 20.5px,#e1441f 22.5px,#cd2317 23.5px,#b00b0d 25.5px,#b50d0e 28.5px,#d9321c 30.5px,#ee982d 32.5px,#dbc544 33.5px,#a2cb73 34.5px,#63b3a7 35.5px,#3f8dc3 36.5px,#2f489e 38.5px,#2a2f7e 40.5px,#2a2e7d 63.5px)"></i><i style="top:36px;background:linear-gradient(90deg,#2a2d7b 0.5px,#2c3687 13.5px,#3153aa 15.5px,#3672bf 16.5px,#4298c4 17.5px,#67b9a4 18.5px,#a4ce71 19.5px,#dbcc45 20.5px,#eea72f 21.5px,#e54a20 23.5px,#d92d1a 24.5px,#c01411 27.5px,#d22418 30.5px,#e0391e 31.5px,#ef902a 33.5px,#e6bb3a 34.5px,#c0d15a 35.5px,#80c68c 36.5px,#52a8b6 37.5px,#3b83c3 38.5px,#2f479d 40.5px,#2a2d7c 42.5px,#2a2c7a 63.5px)"></i><i style="top:37px;background:linear-gradient(90deg,#2a2c7b 0.5px,#2b3181 10.5px,#3574c2 16.5px,#3e91c6 18.5px,#61b1a9 19.5px,#a0ca74 20.5px,#dbc344 21.5px,#ee962c 22.5px,#e85d22 23.5px,#db331c 24.5px,#c01411 26.5px,#c91c14 29.5px,#d9301b 30.5px,#e75822 31.5px,#ee902b 32.5px,#dec041 33.5px,#a7cb6f 34.5px,#65b4a5 35.5px,#3f8cc2 36.5px,#2f459a 38.5px,#2a2d7c 40.5px,#2a2e7d 63.5px)"></i><i style="top:38px;background:linear-gradient(90deg,#292a79 0.5px,#2b3080 13.5px,#335bb2 19.5px,#3772be 20.5px,#4699c0 21.5px,#6fbd9c 22.5px,#aed169 23.5px,#dece43 24.5px,#f1a42c 26.5px,#f39a29 28.5px,#efb231 30.5px,#e3c93f 31.5px,#bbd35f 32.5px,#7bc491 33.5px,#4ea6bb 34.5px,#3b8dca 35.5px,#3152ac 42.5px,#2a2e7d 48.5px,#2a2c7b 63.5px)"></i><i style="top:39px;background:linear-gradient(90deg,#2a2c7a 0.5px,#2b3080 7.5px,#346abd 13.5px,#3995d3 17.5px,#48a4c4 19.5px,#66b9a4 20.5px,#9dcf76 21.5px,#d4d64d 22.5px,#ebc238 23.5px,#f29629 25.5px,#f18727 27.5px,#f29529 29.5px,#ebc138 31.5px,#d5d64c 32.5px,#9ecf76 33.5px,#65b8a5 34.5px,#4398c4 35.5px,#3672be 36.5px,#2d3c90 38.5px,#2a2d7c 40.5px,#2a2c7a 63.5px)"></i><i style="top:40px;background:linear-gradient(90deg,#2a2f7e 0.5px,#292c7b 10.5px,#335eb5 15.5px,#3b95cf 18.5px,#6bc49a 22.5px,#80cb8a 25.5px,#5cb7ac 29.5px,#3a91cf 32.5px,#3254ae 38.5px,#2a2d7c 43.5px,#2b2f7d 63.5px)"></i><i style="top:41px;background:linear-gradient(90deg,#292b79 0.5px,#2c3687 9.5px,#346cbd 14.5px,#3f9acd 17.5px,#69c39c 22.5px,#65c0a0 26.5px,#3990cf 31.5px,#3048a0 36.5px,#2b2f7e 40.5px,#2a2e7d 63.5px)"></i><i style="top:42px;background:linear-gradient(90deg,#292b79 0.5px,#2b3383 8.5px,#3150aa 11.5px,#2f469d 14.5px,#346fbf 17.5px,#3a93d0 19.5px,#5cb7ab 23.5px,#54afb5 26.5px,#398ccd 29.5px,#356fbf 32.5px,#3150aa 40.5px,#2a2d7b 48.5px,#2a2e7d 63.5px)"></i><i style="top:43px;background:linear-gradient(90deg,#2a2e7d 0.5px,#2a2f7e 7.5px,#325ab1 10.5px,#3c96cf 13.5px,#429fca 15.5px,#3780c8 18.5px,#4393c0 19.5px,#7cbc8f 20.5px,#cfc14c 21.5px,#eb8a2b 22.5px,#e34c20 23.5px,#d52a1a 24.5px,#c81c15 26.5px,#d4291a 28.5px,#e24920 29.5px,#eb852b 30.5px,#d1bd4a 31.5px,#81bd8c 32.5px,#4594bf 33.5px,#3676c2 34.5px,#2c388b 38.5px,#2a2c7b 42.5px,#2b3383 48.5px,#2c398b 49.5px,#292c7a 53.5px,#2c3789 55.5px,#3252ad 58.5px,#2f459c 60.5px,#2b307f 62.5px,#2b2f7e 63.5px)"></i><i style="top:44px;background:linear-gradient(90deg,#2a2f7f 0.5px,#292c7b 7.5px,#2f479c 9.5px,#367dc6 11.5px,#45a2c6 13.5px,#3f98cb 15.5px,#3469bc 17.5px,#3362b8 19.5px,#3973bb 20.5px,#5fa1aa 21.5px,#b7ba61 22.5px,#de7c2d 23.5px,#c72d16 24.5px,#a10b0c 25.5px,#8c0309 26.5px,#8b0309 28.5px,#9d090b 29.5px,#c02414 30.5px,#df6f27 31.5px,#c8b953 32.5px,#6ca49c 33.5px,#3a64a8 34.5px,#2d3a8a 35.5px,#2a2d7c 38.5px,#2a2d7c 63.5px)"></i><i style="top:45px;background:linear-gradient(90deg,#2a2d7b 0.5px,#2b3181 7.5px,#3468ba 10.5px,#3f98cb 12.5px,#4daabd 14.5px,#4099ca 16.5px,#335cb4 19.5px,#3568ba 20.5px,#438dbc 21.5px,#7cba8f 22.5px,#cfbc4b 23.5px,#e77b28 24.5px,#d4341a 25.5px,#b4100f 26.5px,#94050b 28.5px,#95050b 30.5px,#ba1411 32.5px,#db3e1e 33.5px,#e88a2d 34.5px,#c7c455 35.5px,#72b298 36.5px,#3e7cb5 37.5px,#2f4b9d 38.5px,#2a3182 39.5px,#2a2d7c 58.5px,#2a2d7b 63.5px)"></i><i style="top:46px;background:linear-gradient(90deg,#292b79 0.5px,#2b307f 9.5px,#3050a5 11.5px,#3671bd 12.5px,#4398c3 13.5px,#68b9a3 14.5px,#a3d072 15.5px,#dad448 16.5px,#ecbd36 17.5px,#f29429 19.5px,#f28d28 21.5px,#f1a42d 23.5px,#edbc35 24.5px,#dbd347 25.5px,#a6d06f 26.5px,#6bbb9f 27.5px,#49a5c1 28.5px,#3893d3 37.5px,#30489f 45.5px,#2a2d7c 50.5px,#2a2d7b 63.5px)"></i><i style="top:47px;background:linear-gradient(90deg,#2a2c7a 0.5px,#2b3181 8.5px,#3152a8 10.5px,#3775bd 11.5px,#499ebd 12.5px,#75c196 13.5px,#b8d061 14.5px,#e3bf3d 15.5px,#f0992c 16.5px,#e85322 18.5px,#e43e1f 20.5px,#e74c21 22.5px,#ef8b29 24.5px,#ebb535 25.5px,#cfd250 26.5px,#8dc983 27.5px,#57aab2 28.5px,#3c85c3 29.5px,#346bbd 30.5px,#2f4399 39.5px,#2a2d7c 44.5px,#292a79 63.5px)"></i><i style="top:48px;background:linear-gradient(90deg,#292b79 0.5px,#2c3484 12.5px,#3465b5 14.5px,#418fc2 15.5px,#66b6a4 16.5px,#a4ce71 17.5px,#dbd247 18.5px,#edbb34 19.5px,#f39d2a 21.5px,#f2a42c 23.5px,#dfce43 25.5px,#afd169 26.5px,#6ebc9d 27.5px,#4498c2 28.5px,#3671bf 29.5px,#2e4095 32.5px,#2a2d7b 35.5px,#2a2d7b 63.5px)"></i><i style="top:49px;background:linear-gradient(90deg,#2b3080 0.5px,#2c3485 3.5px,#2e4298 5.5px,#2b307f 8.5px,#304ca2 10.5px,#3e8fc5 12.5px,#5cb1ad 13.5px,#90cb81 14.5px,#cad454 15.5px,#e7c43b 16.5px,#f18426 19.5px,#f07e26 21.5px,#f29729 23.5px,#e3ca3f 25.5px,#bcd45e 26.5px,#80c78d 27.5px,#56afb4 28.5px,#3c98d0 30.5px,#3362b7 34.5px,#2a2e7d 39.5px,#2a2d7c 63.5px)"></i><i style="top:50px;background:linear-gradient(90deg,#2a2d7b 0.5px,#2b2f7e 10.5px,#304ba1 12.5px,#3e8dc5 14.5px,#5aafaf 15.5px,#8bc984 16.5px,#c4d458 17.5px,#e5c83d 18.5px,#f29128 21.5px,#f2982a 24.5px,#ecc036 26.5px,#dad648 27.5px,#a5d170 28.5px,#6bbc9f 29.5px,#479fc1 30.5px,#346ebf 32.5px,#2b3182 37.5px,#2a2d7c 50.5px,#2b2f7e 63.5px)"></i><i style="top:51px;background:linear-gradient(90deg,#2a2e7d 0.5px,#2a2e7d 10.5px,#2d398c 13.5px,#314ca4 17.5px,#388dd0 22.5px,#429fca 26.5px,#3683cb 30.5px,#2f4399 35.5px,#2b3181 38.5px,#304ba5 41.5px,#2d3d91 43.5px,#292b7a 45.5px,#292b79 63.5px)"></i><i style="top:52px;background:linear-gradient(90deg,#2a2c7a 0.5px,#2c3485 11.5px,#3468bb 15.5px,#3d98ce 18.5px,#51aeb8 23.5px,#3c98d0 30.5px,#335fb5 34.5px,#2a2e7d 39.5px,#292b7a 63.5px)"></i><i style="top:53px;background:linear-gradient(90deg,#292b79 0.5px,#2b3180 15.5px,#3466ba 20.5px,#3a94d1 23.5px,#4fabba 27.5px,#3a93d0 31.5px,#356abc 34.5px,#30489f 43.5px,#2b3180 49.5px,#2b2f7e 52.5px,#314da6 56.5px,#292b7a 61.5px,#292b79 63.5px)"></i><i style="top:54px;background:linear-gradient(90deg,#2a2d7c 0.5px,#2b3282 12.5px,#3153a9 15.5px,#3b76b8 16.5px,#62a9a6 17.5px,#aec469 18.5px,#e1a339 19.5px,#e35f23 20.5px,#ca2717 21.5px,#ab0d0e 22.5px,#86030a 24.5px,#7c0109 30.5px,#94050b 33.5px,#ac0d0e 34.5px,#cb2817 35.5px,#e36124 36.5px,#dfa53a 37.5px,#aac36c 38.5px,#60a7a7 39.5px,#3a72b4 40.5px,#2f4899 41.5px,#2b3282 42.5px,#2b3181 52.5px,#314da7 55.5px,#304ba4 57.5px,#2a2d7c 61.5px,#282a79 63.5px)"></i><i style="top:55px;background:linear-gradient(90deg,#292a79 0.5px,#2b2f7e 14.5px,#2c388a 15.5px,#3153a6 16.5px,#3e82bb 17.5px,#6ab2a0 18.5px,#b5c863 19.5px,#e3a938 20.5px,#e86a25 21.5px,#d7321a 22.5px,#bc1310 23.5px,#97050a 25.5px,#8a0309 30.5px,#95050a 34.5px,#b6100f 36.5px,#d02a18 37.5px,#e55d23 38.5px,#e99f32 39.5px,#c6ca55 40.5px,#76bc95 41.5px,#428dbe 42.5px,#325bae 43.5px,#2d3b8f 44.5px,#2a2e7d 45.5px,#2a2e7c 63.5px)"></i><i style="top:56px;background:linear-gradient(90deg,#2c3789 0.5px,#3049a2 2.5px,#2e4196 4.5px,#2a2d7c 6.5px,#2b3282 12.5px,#3257ac 18.5px,#417db4 19.5px,#78b291 20.5px,#ceb64c 21.5px,#e37026 22.5px,#ca2a16 23.5px,#a80c0d 24.5px,#860209 26.5px,#860209 31.5px,#a90c0d 33.5px,#cb2c17 34.5px,#e47327 35.5px,#cdb84d 36.5px,#76b092 37.5px,#4078b1 38.5px,#324ea0 39.5px,#2c3687 41.5px,#2b2f7f 45.5px,#292c7a 63.5px)"></i><i style="top:57px;background:linear-gradient(90deg,#2a2e7d 0.5px,#2b3080 13.5px,#2e4295 15.5px,#3464b3 16.5px,#4997bb 17.5px,#85c18a 18.5px,#d2c44b 19.5px,#eb8e2c 20.5px,#e04a1f 21.5px,#c41e14 22.5px,#94050a 24.5px,#7e0108 27.5px,#830209 33.5px,#9a060a 35.5px,#b10f0e 36.5px,#ce2a18 37.5px,#e46023 38.5px,#e5a235 39.5px,#bbc85e 40.5px,#6eb49c 41.5px,#3f84bb 42.5px,#3155a8 43.5px,#2c398b 44.5px,#292b79 48.5px,#2b3080 54.5px,#2e4197 57.5px,#2b2f7e 60.5px,#292b79 63.5px)"></i><i style="top:58px;background:linear-gradient(90deg,#2b2f7e 0.5px,#2a2e7e 10.5px,#3573c1 18.5px,#387fc6 19.5px,#4a98bd 20.5px,#8bbb84 21.5px,#d5ac43 22.5px,#e36624 23.5px,#ca2816 24.5px,#aa0c0d 25.5px,#8a0309 27.5px,#870209 32.5px,#9d060b 34.5px,#b91310 35.5px,#db3d1c 36.5px,#e88b2d 37.5px,#c4c358 38.5px,#6ead9b 39.5px,#3c72af 40.5px,#2f4495 41.5px,#2b3080 42.5px,#2a2c7a 63.5px)"></i><i style="top:59px;background:linear-gradient(90deg,#2a2c7a 0.5px,#2b3180 13.5px,#2d3a8d 14.5px,#3152a7 15.5px,#3a7bbc 16.5px,#59a8af 17.5px,#97c87c 18.5px,#d8c546 19.5px,#ee972d 20.5px,#e75b22 21.5px,#d62e1a 22.5px,#af0b0d 24.5px,#9d060a 28.5px,#a6080b 32.5px,#c51913 34.5px,#db341c 35.5px,#eda22f 37.5px,#d3ce4c 38.5px,#89c687 39.5px,#4fa0b7 40.5px,#3872b9 41.5px,#304ca0 42.5px,#2c3688 43.5px,#2a2e7d 47.5px,#2a2c7b 63.5px)"></i><i style="top:60px;background:linear-gradient(90deg,#292b79 0.5px,#2a2e7d 8.5px,#3364b9 14.5px,#3f8ec3 16.5px,#68b4a2 17.5px,#aeca69 18.5px,#e0b73d 19.5px,#ec8229 20.5px,#e2491f 21.5px,#ce2416 22.5px,#a9090c 24.5px,#9a060a 28.5px,#a7080b 32.5px,#ca1f15 34.5px,#e0411e 35.5px,#ec7827 36.5px,#e5b139 37.5px,#b8cc61 38.5px,#70ba9c 39.5px,#4190c1 40.5px,#3362b4 41.5px,#2e4295 42.5px,#2a307f 43.5px,#2b2f7e 63.5px)"></i><i style="top:61px;background:linear-gradient(90deg,#292b79 0.5px,#2e3e93 4.5px,#2a2d7b 9.5px,#2b3080 14.5px,#3356af 18.5px,#376eba 19.5px,#4f9bb7 20.5px,#8fc182 21.5px,#d6b945 22.5px,#ea7c28 23.5px,#db391c 24.5px,#bd1511 25.5px,#95050a 27.5px,#8e0309 32.5px,#a5090c 34.5px,#be1611 35.5px,#dd3c1d 36.5px,#eb8029 37.5px,#d5bc47 38.5px,#8bc185 39.5px,#4b98b9 40.5px,#3463b1 41.5px,#2e4092 42.5px,#2a2e7c 44.5px,#2b3080 63.5px)"></i><i style="top:62px;background:linear-gradient(90deg,#2a2e7d 0.5px,#2b2f7e 14.5px,#2d3d90 16.5px,#304fa3 17.5px,#3a76b9 18.5px,#5aa6ae 19.5px,#9bc678 20.5px,#dabe43 21.5px,#ed8b2a 22.5px,#e55020 23.5px,#d32918 24.5px,#b40c0d 26.5px,#ad090c 31.5px,#bd1210 33.5px,#ce2316 34.5px,#e1451f 35.5px,#ec7c28 36.5px,#e1b33c 37.5px,#adc96a 38.5px,#66b0a3 39.5px,#3d81bb 40.5px,#3154a7 41.5px,#2d398b 42.5px,#2a2e7d 45.5px,#2a307f 53.5px,#2f479e 56.5px,#2a2c7b 59.5px,#2a2e7d 63.5px)"></i><i style="top:63px;background:linear-gradient(90deg,#2b307f 0.5px,#2b3181 9.5px,#3574c2 15.5px,#3b97d1 18.5px,#419ecc 19.5px,#55abb7 20.5px,#92c17f 21.5px,#d7af42 22.5px,#e66c26 23.5px,#d12e18 24.5px,#b50f0e 25.5px,#99050a 27.5px,#9c060a 31.5px,#c21b13 33.5px,#df481e 34.5px,#e9922f 35.5px,#c3c459 36.5px,#6faf9b 37.5px,#3e78b2 38.5px,#304a9b 39.5px,#2a2d7c 41.5px,#2a2e7c 63.5px)"></i><i style="top:64px;background:linear-gradient(90deg,#2a2c7b 0.5px,#2a2e7d 11.5px,#3151ab 15.5px,#3876bf 17.5px,#4c9eba 18.5px,#86c489 19.5px,#d2cb4c 20.5px,#ec9d2f 21.5px,#e75f23 22.5px,#d7301b 23.5px,#c11712 24.5px,#a2080c 27.5px,#a8090c 32.5px,#c51a14 34.5px,#db351d 35.5px,#e9a533 37.5px,#c7cc55 38.5px,#79c093 39.5px,#4495bf 40.5px,#3465b4 41.5px,#2e4397 42.5px,#292c7b 44.5px,#2a2e7d 63.5px)"></i><i style="top:65px;background:linear-gradient(90deg,#2a2d7b 0.5px,#2b3282 16.5px,#3678c4 23.5px,#3895d5 28.5px,#3785cc 34.5px,#2f459c 40.5px,#292c7b 44.5px,#2b2f7e 63.5px)"></i><i style="top:66px;background:linear-gradient(90deg,#292b7a 0.5px,#2c3788 8.5px,#3574c2 13.5px,#3d99cf 16.5px,#4fabbb 22.5px,#3a94d0 29.5px,#3049a0 33.5px,#2a2d7c 37.5px,#2a2d7c 63.5px)"></i><i style="top:67px;background:linear-gradient(90deg,#292b7a 0.5px,#2b3080 10.5px,#3465ba 15.5px,#3990d1 18.5px,#4fabbb 23.5px,#43a0c9 29.5px,#3682ca 32.5px,#2e3f94 37.5px,#2a2e7c 40.5px,#292b79 63.5px)"></i><i style="top:68px;background:linear-gradient(90deg,#292b7a 0.5px,#2a2d7c 7.5px,#3152ac 10.5px,#2f459c 13.5px,#3992d1 19.5px,#49a6c2 24.5px,#3c97d0 29.5px,#3462b7 33.5px,#2b2f7e 38.5px,#2a2e7d 63.5px)"></i><i style="top:69px;background:linear-gradient(90deg,#2a2c7b 0.5px,#2b2f7e 9.5px,#335db4 13.5px,#3a93d0 16.5px,#57b3b1 20.5px,#59b2b0 26.5px,#86bf87 27.5px,#d2ab46 28.5px,#e56826 29.5px,#db351d 30.5px,#d6281a 31.5px,#de391e 32.5px,#e77329 33.5px,#cdb44c 34.5px,#77af91 35.5px,#3e75ad 36.5px,#2e4393 37.5px,#2a307f 38.5px,#292c7b 45.5px,#3254ae 49.5px,#3151ac 51.5px,#2b3181 54.5px,#292b7a 63.5px)"></i><i style="top:70px;background:linear-gradient(90deg,#2a2e7d 0.5px,#2b3180 9.5px,#3573c2 18.5px,#378bcf 24.5px,#3e93ca 25.5px,#68b0a6 26.5px,#bec35d 27.5px,#e99830 28.5px,#ea6023 29.5px,#e64920 30.5px,#e85422 31.5px,#eb832a 32.5px,#d0b94b 33.5px,#7bb58f 34.5px,#4181b6 35.5px,#335ab0 36.5px,#2a2e7d 42.5px,#2b307f 63.5px)"></i><i style="top:71px;background:linear-gradient(90deg,#2b307f 0.5px,#2a2e7e 5.5px,#304ca5 8.5px,#2d3c90 10.5px,#335fb7 20.5px,#3468ba 25.5px,#4185b9 26.5px,#7ab790 27.5px,#cfc44e 28.5px,#ee9c2d 29.5px,#ee7926 30.5px,#ed7626 31.5px,#ee922b 32.5px,#d4bb47 33.5px,#87bb87 34.5px,#4689b4 35.5px,#3152a3 36.5px,#2d398b 37.5px,#2b2f7e 40.5px,#2b3180 63.5px)"></i><i style="top:72px;background:linear-gradient(90deg,#2b307f 0.5px,#2b3181 8.5px,#367ac5 17.5px,#3c99d2 23.5px,#3892d3 31.5px,#3150aa 39.5px,#2b2f7e 45.5px,#2a2c7b 63.5px)"></i><i style="top:73px;background:linear-gradient(90deg,#2a2c7a 0.5px,#2b3080 8.5px,#304ea4 10.5px,#3d8dc6 12.5px,#58aeb1 13.5px,#88c986 14.5px,#c2d459 15.5px,#e5c63d 16.5px,#f19229 18.5px,#ef8026 20.5px,#f19b2b 22.5px,#ddd045 24.5px,#acd26b 25.5px,#71c199 26.5px,#4faabb 27.5px,#409bcb 28.5px,#3578c4 30.5px,#2c3789 34.5px,#2a2c7b 37.5px,#2a2f7f 48.5px,#2c388a 51.5px,#292b7a 54.5px,#282978 63.5px)"></i><i style="top:74px;background:linear-gradient(90deg,#2b3080 0.5px,#2b3181 7.5px,#304fa5 9.5px,#3f92c6 11.5px,#60b4aa 12.5px,#99cd7a 13.5px,#d5d44b 14.5px,#edb734 15.5px,#ed7124 17.5px,#e95722 19.5px,#ee7325 21.5px,#ecb935 23.5px,#d2d44e 24.5px,#95cc7d 25.5px,#5eb2ac 26.5px,#3e91c6 27.5px,#3574c2 28.5px,#2f449b 34.5px,#2b3080 37.5px,#3257b1 41.5px,#3151aa 43.5px,#2b3080 46.5px,#2a2d7c 63.5px)"></i><i style="top:75px;background:linear-gradient(90deg,#2b2f7e 0.5px,#2a2d7c 8.5px,#2f4399 10.5px,#397ec2 12.5px,#4da3ba 13.5px,#76c295 14.5px,#b3d265 15.5px,#e0ca41 16.5px,#f19229 18.5px,#ef7b26 20.5px,#f1982a 22.5px,#eeb533 23.5px,#dcd045 24.5px,#a9d16d 25.5px,#6dbd9e 26.5px,#47a2c3 27.5px,#3a90cf 28.5px,#314da6 33.5px,#292c7a 37.5px,#282a78 63.5px)"></i><i style="top:76px;background:linear-gradient(90deg,#2a2c7a 0.5px,#2b3384 9.5px,#3362b7 14.5px,#3d98cf 18.5px,#5db8ab 24.5px,#4eaabc 34.5px,#3992d0 37.5px,#2e3e93 43.5px,#2a2c7b 46.5px,#2b307f 63.5px)"></i><i style="top:77px;background:linear-gradient(90deg,#2b3180 0.5px,#2a2d7c 10.5px,#3256b0 15.5px,#3a93d1 19.5px,#5eb9a9 24.5px,#56b2b2 31.5px,#398dce 35.5px,#2f469d 39.5px,#2d3d91 41.5px,#2f479e 43.5px,#292b79 47.5px,#282978 63.5px)"></i><i style="top:78px;background:linear-gradient(90deg,#292b79 0.5px,#2b307f 12.5px,#335bb2 16.5px,#398fcf 19.5px,#57b2b1 24.5px,#4ba7bf 28.5px,#3a91cf 30.5px,#2e4196 35.5px,#2a2d7b 38.5px,#282a79 63.5px)"></i><i style="top:79px;background:linear-gradient(90deg,#292b7a 0.5px,#2c3484 4.5px,#3259b1 8.5px,#3a8fcd 11.5px,#54b0b4 13.5px,#81ca89 15.5px,#dcdc48 18.5px,#edbc34 21.5px,#f1a72e 25.5px,#eeb833 29.5px,#e2db43 32.5px,#6fc398 36.5px,#3c96ce 39.5px,#3150a9 43.5px,#2a2f7e 47.5px,#2a2d7c 63.5px)"></i><i style="top:80px;background:linear-gradient(90deg,#2a2f7e 0.5px,#2b3282 7.5px,#3152aa 10.5px,#3e96cb 13.5px,#6cc09c 15.5px,#c3d85a 17.5px,#e2d341 18.5px,#f29028 21.5px,#eb6523 24.5px,#ec6a24 27.5px,#efb632 31.5px,#e7cd3c 32.5px,#d0d850 33.5px,#77c692 35.5px,#449dc5 37.5px,#3986c9 38.5px,#3048a0 41.5px,#292c7b 44.5px,#2b307f 50.5px,#3048a0 52.5px,#2f439a 53.5px,#292c7b 55.5px,#2a2c7b 63.5px)"></i><i style="top:81px;background:linear-gradient(90deg,#2a2d7b 0.5px,#2c3485 8.5px,#3259b1 12.5px,#3b8cc9 14.5px,#4ba5be 15.5px,#8ecd81 17.5px,#e1d442 19.5px,#f39629 22.5px,#ef7a25 25.5px,#f39629 28.5px,#e1d442 31.5px,#8ecd81 33.5px,#4ba5be 35.5px,#3b8cc9 36.5px,#325ab1 38.5px,#2b3181 43.5px,#2a2e7d 53.5px,#2a2d7b 63.5px)"></i><i style="top:82px;background:linear-gradient(90deg,#2a2c7a 0.5px,#2a2e7d 5.5px,#325bb3 10.5px,#3a90ce 13.5px,#63bda4 16.5px,#dcde48 21.5px,#ecca38 25.5px,#e9d83d 30.5px,#d3dd4f 32.5px,#5ab5ae 37.5px,#3d97cd 39.5px,#3253ad 43.5px,#2e3e92 46.5px,#2f4399 47.5px,#292d7d 49.5px,#292a79 63.5px)"></i><i style="top:83px;background:linear-gradient(90deg,#2a2e7d 0.5px,#2a2e7e 4.5px,#335db4 9.5px,#3b94ce 12.5px,#6cc29b 15.5px,#e2dc43 19.5px,#f1a82e 24.5px,#f0ac2f 29.5px,#e5d840 33.5px,#b5d764 35.5px,#73c694 37.5px,#3f99cb 40.5px,#3362b7 43.5px,#2b3282 48.5px,#2a2e7c 63.5px)"></i><i style="top:84px;background:linear-gradient(90deg,#2a2c7a 0.5px,#2b3181 10.5px,#3254ad 13.5px,#3882c8 15.5px,#429bc7 16.5px,#71c497 18.5px,#c5d958 20.5px,#e2d642 21.5px,#f2a02b 25.5px,#f2a22c 28.5px,#ebcc3a 31.5px,#dedb46 32.5px,#69be9f 35.5px,#3d94cc 37.5px,#3150a8 40.5px,#2a2e7e 43.5px,#292b7a 63.5px)"></i><i style="top:85px;background:linear-gradient(90deg,#282978 0.5px,#2b3384 8.5px,#3256af 11.5px,#3781c8 13.5px,#3f98ca 14.5px,#68bea0 16.5px,#d2db4f 19.5px,#ebc839 21.5px,#efb031 24.5px,#eeb934 27.5px,#dddb47 30.5px,#72c496 33.5px,#45a0c4 35.5px,#398aca 36.5px,#304da5 39.5px,#2b2f7e 42.5px,#2a2b7a 63.5px)"></i><i style="top:86px;background:linear-gradient(90deg,#282a78 0.5px,#2b3282 10.5px,#3466ba 15.5px,#3c98d0 19.5px,#4aa7c0 25.5px,#3991d1 30.5px,#2f449b 36.5px,#292c7b 40.5px,#2a2c7b 63.5px)"></i><i style="top:87px;background:linear-gradient(90deg,#282978 0.5px,#2b3181 13.5px,#3571c1 20.5px,#3997d4 25.5px,#378cd0 29.5px,#2f449b 36.5px,#2a2f7e 40.5px,#2a2e7d 50.5px,#2e4095 52.5px,#3150aa 53.5px,#314fa9 54.5px,#2a2f7f 56.5px,#2a2d7b 63.5px)"></i><i style="top:88px;background:linear-gradient(90deg,#2a2e7c 0.5px,#2a2d7c 11.5px,#3361b7 20.5px,#3892d4 25.5px,#3789cf 29.5px,#3255b0 36.5px,#2a2c7a 45.5px,#282a78 63.5px)"></i><i style="top:89px;background:linear-gradient(90deg,#2a2d7c 0.5px,#2b2f7e 10.5px,#3571c1 16.5px,#3a97d2 20.5px,#3b97d2 28.5px,#335fb5 33.5px,#2a2e7e 38.5px,#2a2e7d 63.5px)"></i><i style="top:90px;background:linear-gradient(90deg,#2b307f 0.5px,#2b3181 12.5px,#3258b2 19.5px,#335db5 26.5px,#2e3f94 32.5px,#2a2d7b 36.5px,#2a2c7a 63.5px)"></i><i style="top:91px;background:linear-gradient(90deg,#2b307f 0.5px,#2b3383 7.5px,#3578c5 16.5px,#3891d3 23.5px,#3680c9 30.5px,#2e3f94 38.5px,#292b79 42.5px,#2b2f7e 63.5px)"></i><i style="top:92px;background:linear-gradient(90deg,#292c7a 0.5px,#2b3383 13.5px,#3467bb 20.5px,#367cc7 26.5px,#3467bb 32.5px,#2a2e7d 40.5px,#2a2d7b 63.5px)"></i><i style="top:93px;background:linear-gradient(90deg,#2a2e7d 0.5px,#2b3282 9.5px,#3467bb 16.5px,#3781c9 23.5px,#449fc7 25.5px,#64bda2 29.5px,#58b3b0 32.5px,#398ece 35.5px,#3048a0 39.5px,#2a2e7d 42.5px,#2b3080 63.5px)"></i><i style="top:94px;background:linear-gradient(90deg,#292b79 0.5px,#2a2f7e 10.5px,#3466ba 17.5px,#388bcf 21.5px,#4b9cbf 22.5px,#91b67f 23.5px,#d68f3b 24.5px,#d53d1d 25.5px,#b61210 26.5px,#a5080c 27.5px,#a4080c 28.5px,#b20f0f 29.5px,#cf3419 30.5px,#db8433 31.5px,#a7ba6d 32.5px,#5eaeaf 33.5px,#429fca 34.5px,#378acf 36.5px,#2e4197 42.5px,#2b2f7e 46.5px,#2a2c7a 63.5px)"></i><i style="top:95px;background:linear-gradient(90deg,#2a2c7a 0.5px,#2b307f 11.5px,#3360b7 19.5px,#3775c1 22.5px,#599cb3 23.5px,#b5b363 24.5px,#d96d2a 25.5px,#bd2112 26.5px,#9c080b 27.5px,#90040a 28.5px,#93050a 29.5px,#a90e0e 30.5px,#cf3c1c 31.5px,#cf9140 32.5px,#82b789 33.5px,#4ca5be 34.5px,#3a91ce 35.5px,#3049a1 39.5px,#2b3181 42.5px,#304aa2 46.5px,#2b2f7e 50.5px,#292b79 63.5px)"></i><i style="top:96px;background:linear-gradient(90deg,#2a2d7b 0.5px,#2a2f7f 13.5px,#335bb3 20.5px,#3b72b7 21.5px,#66a6a2 22.5px,#bcbf5e 23.5px,#e3872e 24.5px,#d2371a 25.5px,#ac0f0e 26.5px,#91040a 27.5px,#840209 29.5px,#98060a 31.5px,#b81610 32.5px,#db4d20 33.5px,#da9c3c 34.5px,#98bb7b 35.5px,#4e95b7 36.5px,#345fb1 37.5px,#2d3d90 39.5px,#2a2c7b 43.5px,#2a2e7d 63.5px)"></i><i style="top:97px;background:linear-gradient(90deg,#2a2e7c 0.5px,#2c3688 15.5px,#3465ba 19.5px,#388acd 21.5px,#409acb 22.5px,#61aeae 23.5px,#aec169 24.5px,#e29935 25.5px,#e15120 26.5px,#c92115 27.5px,#b50d0d 28.5px,#ac090b 30.5px,#c41913 32.5px,#de411e 33.5px,#ea8a2c 34.5px,#c8c454 35.5px,#70b099 36.5px,#3d76b2 37.5px,#2f499a 38.5px,#2b2f7e 40.5px,#2b307f 63.5px)"></i><i style="top:98px;background:linear-gradient(90deg,#2a2c7a 0.5px,#2b2f7e 12.5px,#335cb4 19.5px,#3679c4 21.5px,#418fc2 22.5px,#75b598 23.5px,#ccbc4f 24.5px,#e77929 25.5px,#d5331a 26.5px,#bc1210 27.5px,#ac090b 29.5px,#c31912 31.5px,#de431e 32.5px,#e48f31 33.5px,#b4bf65 34.5px,#61abad 35.5px,#3c8ec9 36.5px,#3254ae 40.5px,#292a79 48.5px,#2b3181 54.5px,#3254af 57.5px,#2f469e 59.5px,#2b3181 61.5px,#2a2c7a 63.5px)"></i><i style="top:99px;background:linear-gradient(90deg,#2a2e7d 0.5px,#2b3080 11.5px,#335cb3 15.5px,#3a92d0 18.5px,#64b8a5 22.5px,#99c278 23.5px,#d8a23e 24.5px,#dd5421 25.5px,#bc1a11 26.5px,#9c070b 27.5px,#860209 29.5px,#92040a 31.5px,#aa0e0e 32.5px,#cf3219 33.5px,#e5802a 34.5px,#c8c154 35.5px,#70b29d 36.5px,#3f87c0 37.5px,#3253ad 40.5px,#2b3180 45.5px,#282a79 63.5px)"></i></div>
<div class="hm" style="left:545px;top:164px;width:60px;height:51px"><i style="top:0px;background:linear-gradient(90deg,#c61f1d 0.5px,#c3201d 2.5px,#d03520 3.5px,#dd6729 4.5px,#d0a140 5.5px,#9cb972 6.5px,#5da4aa 7.5px,#3a75b3 8.5px,#2b4b9d 9.5px,#24378e 10.5px,#202f87 40.5px,#2d3182 46.5px,#6c2f5f 53.5px,#642f62 57.5px,#55306b 59.5px)"></i><i style="top:1px;background:linear-gradient(90deg,#c6241e 0.5px,#c8281e 2.5px,#d64b24 3.5px,#d48636 4.5px,#acab62 5.5px,#70a49b 6.5px,#4f87b5 7.5px,#3e6bba 9.5px,#3a51a3 16.5px,#503071 22.5px,#212f84 30.5px,#2a4298 42.5px,#3757a9 49.5px,#335996 59.5px)"></i><i style="top:2px;background:linear-gradient(90deg,#d97130 0.5px,#cb4528 1.5px,#bd2921 2.5px,#bf261f 4.5px,#ca3b25 5.5px,#d36630 6.5px,#c99844 7.5px,#9fb06d 8.5px,#69a6a2 9.5px,#4b8ab9 10.5px,#4173bb 11.5px,#3d68be 15.5px,#26348b 23.5px,#2b449d 31.5px,#3d69bf 41.5px,#365bb2 49.5px,#274094 57.5px,#284394 59.5px)"></i><i style="top:3px;background:linear-gradient(90deg,#5c91a9 0.5px,#8ba57d 1.5px,#c39648 2.5px,#d45c29 3.5px,#c82d1f 4.5px,#bf1f1d 5.5px,#c3241e 6.5px,#d03921 7.5px,#d9652b 8.5px,#d29b41 9.5px,#adb965 10.5px,#75ae94 11.5px,#4b8db4 12.5px,#3051a8 14.5px,#243792 18.5px,#283e98 26.5px,#3e6ac1 35.5px,#3a63ba 47.5px,#3456ae 55.5px,#3456ae 59.5px)"></i><i style="top:4px;background:linear-gradient(90deg,#5ca8b0 0.5px,#96b275 1.5px,#ca9a43 2.5px,#d9602a 3.5px,#ce3320 4.5px,#c6221e 5.5px,#ca281e 6.5px,#d74a23 7.5px,#d68334 8.5px,#b0ac60 9.5px,#74a799 10.5px,#508ab2 11.5px,#3c68b7 13.5px,#23358c 22.5px,#253990 31.5px,#3a61b8 39.5px,#2b469d 45.5px,#22338a 51.5px,#2f4ca3 59.5px)"></i><i style="top:5px;background:linear-gradient(90deg,#4373b6 0.5px,#568caa 1.5px,#84a985 2.5px,#bca353 3.5px,#d06e34 4.5px,#c63c26 5.5px,#bc2620 6.5px,#c3291f 8.5px,#d04426 9.5px,#d67733 10.5px,#c5a74a 11.5px,#93b274 12.5px,#5f9fa6 13.5px,#4682bb 14.5px,#4271c3 16.5px,#273a9b 30.5px,#283a98 50.5px,#456fbd 56.5px,#3d63b8 59.5px)"></i><i style="top:6px;background:linear-gradient(90deg,#6c767b 0.5px,#68777f 2.5px,#617a8d 3.5px,#678c93 4.5px,#909e70 5.5px,#bf8b46 6.5px,#ce592f 7.5px,#cc3524 8.5px,#cc2a1f 9.5px,#d23320 10.5px,#db5425 11.5px,#dc8932 12.5px,#c4b14c 13.5px,#91b477 14.5px,#64a0a1 15.5px,#5c8ca2 16.5px,#727e7b 18.5px,#334493 22.5px,#273997 27.5px,#404d8a 31.5px,#737772 35.5px,#777b6f 38.5px,#2b3b91 45.5px,#2f3e90 48.5px,#7c816f 53.5px,#7e8371 56.5px,#525d84 59.5px)"></i><i style="top:7px;background:linear-gradient(90deg,#3a5baf 0.5px,#3d62b0 5.5px,#4870ad 6.5px,#6b909a 7.5px,#a89962 8.5px,#cb6b33 9.5px,#c33421 10.5px,#b61f1d 11.5px,#b9221e 12.5px,#c73822 13.5px,#d3672d 14.5px,#c69b45 15.5px,#97af6f 16.5px,#629a9d 17.5px,#4271a8 18.5px,#3452a2 19.5px,#2d46a2 21.5px,#3252ae 28.5px,#2c3e95 37.5px,#2e3890 51.5px,#273794 59.5px)"></i><i style="top:8px;background:linear-gradient(90deg,#243790 0.5px,#263c93 5.5px,#2d4c9e 6.5px,#4277aa 7.5px,#75a694 8.5px,#b9a959 9.5px,#d5712f 10.5px,#c83520 11.5px,#b81c1d 12.5px,#b61a1d 13.5px,#c2281f 14.5px,#d34b25 15.5px,#d68436 16.5px,#bab056 17.5px,#81af83 18.5px,#4f90ac 19.5px,#3a6eb5 20.5px,#365bb1 22.5px,#3760b3 35.5px,#3a689e 44.5px,#663d6d 50.5px,#573571 53.5px,#29348a 57.5px,#23348d 59.5px)"></i><i style="top:9px;background:linear-gradient(90deg,#3d69c0 0.5px,#3a66ba 6.5px,#3f72b8 7.5px,#5e93a4 8.5px,#9da76c 9.5px,#ce843a 10.5px,#d54824 11.5px,#cc281e 12.5px,#cd2c1f 13.5px,#d75025 14.5px,#d28937 15.5px,#a8ac63 16.5px,#6ca29a 17.5px,#4583ae 18.5px,#3466a8 20.5px,#3860b8 32.5px,#3e67bc 46.5px,#3d69bf 59.5px)"></i><i style="top:10px;background:linear-gradient(90deg,#273a9e 0.5px,#283f9f 7.5px,#3454a4 8.5px,#59819a 9.5px,#979a6a 10.5px,#c37739 11.5px,#c33d23 12.5px,#b51e1d 13.5px,#b61f1d 14.5px,#c63d22 15.5px,#cd7635 16.5px,#aaa364 17.5px,#6b999a 18.5px,#4470a7 19.5px,#35519f 20.5px,#2a42a1 23.5px,#3559b4 40.5px,#3667ab 49.5px,#3973ab 57.5px,#3770aa 59.5px)"></i><i style="top:11px;background:linear-gradient(90deg,#263a9d 0.5px,#2d48a8 7.5px,#3a63b0 9.5px,#5887a1 10.5px,#909f70 11.5px,#c18440 12.5px,#c94927 13.5px,#ba231e 14.5px,#b31a1d 15.5px,#c73624 17.5px,#d35f2e 18.5px,#cf9540 19.5px,#aab463 20.5px,#6faa96 21.5px,#4788b5 22.5px,#3765b5 23.5px,#2e4aa9 25.5px,#25389b 35.5px,#283e9e 59.5px)"></i><i style="top:12px;background:linear-gradient(90deg,#3a61ba 0.5px,#3458af 9.5px,#3963b0 10.5px,#4d84ab 11.5px,#7fa88a 12.5px,#bea753 13.5px,#d8702e 14.5px,#d03820 15.5px,#c6221d 16.5px,#ca271e 17.5px,#d94b24 18.5px,#d68c37 19.5px,#a6b368 20.5px,#62a0a2 21.5px,#3c73b2 22.5px,#3358ac 23.5px,#2e4ba4 29.5px,#22348d 35.5px,#2d5599 43.5px,#376ea7 50.5px,#3a66b9 59.5px)"></i><i style="top:13px;background:linear-gradient(90deg,#3456b2 0.5px,#263c9a 9.5px,#28409d 10.5px,#3357a5 11.5px,#55859e 12.5px,#93a56f 13.5px,#ca8a3d 14.5px,#d64c25 15.5px,#cc281e 16.5px,#cd291e 17.5px,#d84a23 18.5px,#d68535 19.5px,#adad64 20.5px,#6ea5a0 21.5px,#4d88b9 22.5px,#4374c5 24.5px,#253899 35.5px,#283e9e 57.5px,#2d47a5 59.5px)"></i><i style="top:14px;background:linear-gradient(90deg,#293fa0 0.5px,#356aaa 11.5px,#407fb2 12.5px,#67a4a0 13.5px,#acad65 14.5px,#d57f34 15.5px,#d14122 16.5px,#c2221e 17.5px,#bf1f1d 18.5px,#c72a1f 19.5px,#d44726 20.5px,#d97e34 21.5px,#c5ae4d 22.5px,#90b678 23.5px,#5a9ba7 24.5px,#3b72b4 25.5px,#2f51a9 26.5px,#283f9e 28.5px,#273c9d 40.5px,#366ba7 45.5px,#2e4c9e 48.5px,#283697 51.5px,#2a3d9d 59.5px)"></i><i style="top:15px;background:linear-gradient(90deg,#3f6bc3 0.5px,#274097 11.5px,#3056a3 12.5px,#4a82a7 13.5px,#80ab86 14.5px,#bdac54 15.5px,#d77c34 16.5px,#d44525 17.5px,#ca281f 18.5px,#c8211d 19.5px,#cf2a1e 20.5px,#db4822 21.5px,#e17d2c 22.5px,#d0ad42 23.5px,#9ebc6f 24.5px,#65aba4 25.5px,#458cb9 26.5px,#3b78b2 27.5px,#3462a7 32.5px,#385bb2 36.5px,#3e60b3 43.5px,#463882 49.5px,#562e6f 54.5px,#3f327f 59.5px)"></i><i style="top:16px;background:linear-gradient(90deg,#273d98 0.5px,#23358f 12.5px,#314f98 14.5px,#4c799f 15.5px,#81a386 16.5px,#c09e50 17.5px,#d6632b 18.5px,#ca301f 19.5px,#c01e1d 20.5px,#c4221d 21.5px,#d13720 22.5px,#dd6628 23.5px,#d69f3d 24.5px,#adbc64 25.5px,#72ae95 26.5px,#4888b0 27.5px,#345ea8 28.5px,#294398 29.5px,#29368e 34.5px,#61336f 41.5px,#434594 46.5px,#3c5db3 51.5px,#3f68be 59.5px)"></i><i style="top:17px;background:linear-gradient(90deg,#243597 0.5px,#293f9f 10.5px,#3050aa 13.5px,#3763af 14.5px,#518aa5 15.5px,#88a878 16.5px,#bf984a 17.5px,#ce6030 18.5px,#c33324 19.5px,#b8201e 20.5px,#bb1e1d 21.5px,#cb3620 22.5px,#d7702e 23.5px,#bea654 24.5px,#82a989 25.5px,#5883a3 26.5px,#4a5d9e 27.5px,#434c9a 28.5px,#3753ad 32.5px,#3c5ab3 41.5px,#2c44a4 52.5px,#3253af 59.5px)"></i><i style="top:18px;background:linear-gradient(90deg,#203089 0.5px,#253c8f 10.5px,#39679e 16.5px,#467aa6 17.5px,#6c9a99 18.5px,#ab9f63 19.5px,#cc6f34 20.5px,#c53822 21.5px,#b91f1d 22.5px,#bb231e 23.5px,#c94025 24.5px,#d07837 25.5px,#b3a95f 26.5px,#76a292 27.5px,#54739d 28.5px,#554985 29.5px,#5b3977 30.5px,#4b4f9b 35.5px,#406cc2 40.5px,#3e69c0 48.5px,#243790 59.5px)"></i><i style="top:19px;background:linear-gradient(90deg,#22328e 0.5px,#2b449f 10.5px,#3a64b8 17.5px,#4172b7 18.5px,#6291a0 19.5px,#9fa268 20.5px,#ce7d37 21.5px,#d34223 22.5px,#cb261e 23.5px,#cf2d1f 24.5px,#db5224 25.5px,#d98e36 26.5px,#b3b560 27.5px,#76ac95 28.5px,#4e88b2 29.5px,#406cb6 30.5px,#385db5 37.5px,#3354ad 45.5px,#3558b1 52.5px,#283e9a 58.5px,#29409b 59.5px)"></i><i style="top:20px;background:linear-gradient(90deg,#22338e 0.5px,#253993 17.5px,#2a4499 18.5px,#3e6aa0 19.5px,#75988b 20.5px,#b98f51 21.5px,#cd4f2a 22.5px,#bf231e 23.5px,#b81a1d 24.5px,#c4241e 25.5px,#d74723 26.5px,#de8631 27.5px,#c2b752 28.5px,#85b585 29.5px,#4f8fac 30.5px,#3360aa 31.5px,#284199 32.5px,#23358f 35.5px,#2d4397 43.5px,#3a62ba 51.5px,#2a429c 59.5px)"></i><i style="top:21px;background:linear-gradient(90deg,#3152a9 0.5px,#3f6cc2 9.5px,#3357ae 18.5px,#3a67af 19.5px,#5f909f 20.5px,#a2a467 21.5px,#ce7b36 22.5px,#cc3e22 23.5px,#bf201d 24.5px,#c11f1d 25.5px,#cf331f 26.5px,#dd6428 27.5px,#d39e3d 28.5px,#a1b86c 29.5px,#63a5a2 30.5px,#3e77af 31.5px,#2c4d9e 32.5px,#253891 33.5px,#313f87 36.5px,#6a7276 40.5px,#606e83 43.5px,#3551a4 47.5px,#304ea7 56.5px,#2b459f 59.5px)"></i><i style="top:22px;background:linear-gradient(90deg,#3568a8 0.5px,#2f55a3 10.5px,#273d9c 17.5px,#29429f 18.5px,#335ba9 19.5px,#5088a3 20.5px,#89a977 21.5px,#c09f4a 22.5px,#d36d32 23.5px,#ce3e25 24.5px,#c7281f 25.5px,#c7241e 26.5px,#d0321f 27.5px,#db5926 28.5px,#d89036 29.5px,#b8b359 30.5px,#80ae89 31.5px,#518ca9 32.5px,#2a459f 34.5px,#253697 36.5px,#273b9d 59.5px)"></i><i style="top:23px;background:linear-gradient(90deg,#365db3 0.5px,#253b96 5.5px,#263a94 20.5px,#2e4596 21.5px,#3e639f 22.5px,#679196 23.5px,#a7a362 24.5px,#d17b34 25.5px,#cf3f22 26.5px,#bf201d 27.5px,#bc1f1d 28.5px,#c72c1f 29.5px,#d65126 30.5px,#d78c38 31.5px,#b6b55d 32.5px,#78ae8f 33.5px,#4885ae 34.5px,#3058a8 35.5px,#273e9b 36.5px,#263998 44.5px,#3d68c0 58.5px,#3e6ac1 59.5px)"></i><i style="top:24px;background:linear-gradient(90deg,#31609d 0.5px,#2e589a 9.5px,#22338b 19.5px,#243990 21.5px,#30559e 22.5px,#54899e 23.5px,#93aa71 24.5px,#ca913f 25.5px,#d55126 26.5px,#c5271e 27.5px,#bb1b1d 28.5px,#c11f1d 29.5px,#d23920 30.5px,#de712a 31.5px,#ceaa44 32.5px,#95b975 33.5px,#599fab 34.5px,#3d77b9 35.5px,#3660b4 36.5px,#2f4ca4 40.5px,#23348d 44.5px,#27358b 59.5px)"></i><i style="top:25px;background:linear-gradient(90deg,#233690 0.5px,#3b5eaf 13.5px,#304696 21.5px,#314d9c 22.5px,#3d6eaa 23.5px,#669f9d 24.5px,#abae64 25.5px,#d58134 26.5px,#d34222 27.5px,#c4221e 28.5px,#c11f1d 29.5px,#ce3620 30.5px,#da702d 31.5px,#c3ab52 32.5px,#81ad89 33.5px,#4b82a8 34.5px,#3258a5 35.5px,#2b479f 36.5px,#365bb3 49.5px,#2a429c 59.5px)"></i><i style="top:26px;background:linear-gradient(90deg,#1f2e84 0.5px,#2f3d81 8.5px,#828565 17.5px,#808366 21.5px,#717e76 22.5px,#5b8396 23.5px,#69a19b 24.5px,#a6ad69 25.5px,#d28438 26.5px,#d24523 27.5px,#c4231e 28.5px,#bf1d1d 29.5px,#c9281e 30.5px,#da4c23 31.5px,#df8a31 32.5px,#c3b851 33.5px,#86b682 34.5px,#5192ab 35.5px,#3769af 36.5px,#3052a6 37.5px,#3558af 46.5px,#3559af 59.5px)"></i><i style="top:27px;background:linear-gradient(90deg,#23348e 0.5px,#2d3787 22.5px,#2d3e8e 23.5px,#3a5a9b 24.5px,#628a95 25.5px,#a0a067 26.5px,#c97e3b 27.5px,#cb4426 28.5px,#bd221e 29.5px,#ba1b1d 30.5px,#c6271e 31.5px,#d84f24 32.5px,#d88e36 33.5px,#b0b662 34.5px,#6fac9b 35.5px,#4380b1 36.5px,#2e52a2 37.5px,#253a93 38.5px,#253993 46.5px,#3960b8 50.5px,#3251aa 53.5px,#243691 56.5px,#23358f 59.5px)"></i><i style="top:28px;background:linear-gradient(90deg,#385cb5 0.5px,#4766b7 5.5px,#633670 12.5px,#5c2f6c 23.5px,#603f74 25.5px,#5e6289 26.5px,#79928a 27.5px,#b3915a 28.5px,#cd5a2f 29.5px,#c72f21 30.5px,#c5231e 31.5px,#cf321f 32.5px,#db5d27 33.5px,#d3953b 34.5px,#a6b268 35.5px,#6ca59d 36.5px,#497dab 37.5px,#38549c 38.5px,#2e3e93 39.5px,#243692 43.5px,#283d9b 58.5px,#2a419e 59.5px)"></i><i style="top:29px;background:linear-gradient(90deg,#23358b 0.5px,#3753a5 11.5px,#253185 25.5px,#283c8d 26.5px,#375f9e 27.5px,#619299 28.5px,#a2a767 29.5px,#d18438 30.5px,#d54824 31.5px,#c9271e 32.5px,#c5231e 33.5px,#cc2f20 34.5px,#d75027 35.5px,#da8736 36.5px,#c2b350 37.5px,#8ab37b 38.5px,#5492a4 39.5px,#3666a8 40.5px,#2a4a99 41.5px,#2a4a96 42.5px,#3970ad 45.5px,#3b64b9 49.5px,#3d68be 59.5px)"></i><i style="top:30px;background:linear-gradient(90deg,#263f92 0.5px,#3973aa 10.5px,#406ebe 18.5px,#304b9b 24.5px,#2c4495 26.5px,#3357a1 27.5px,#4c85aa 28.5px,#81b189 29.5px,#c3b152 30.5px,#de7a2e 31.5px,#d53d21 32.5px,#c6221d 33.5px,#c31f1d 34.5px,#cd2a1e 35.5px,#dc4f23 36.5px,#e08c31 37.5px,#c3b94f 38.5px,#86b680 39.5px,#5092aa 40.5px,#3768ad 41.5px,#2f4fa4 42.5px,#385eb2 45.5px,#426ec0 50.5px,#365ab2 57.5px,#3960b8 59.5px)"></i><i style="top:31px;background:linear-gradient(90deg,#293fa0 0.5px,#4373c5 12.5px,#4e74b4 18.5px,#6a7783 25.5px,#677685 26.5px,#5b7996 27.5px,#5b8fa1 28.5px,#85a980 29.5px,#be9d4e 30.5px,#d0642e 31.5px,#c33221 32.5px,#b41c1d 33.5px,#b3181d 34.5px,#c1261e 35.5px,#d55326 36.5px,#cf933c 37.5px,#9db06a 38.5px,#61999b 39.5px,#4470a5 40.5px,#3c559a 41.5px,#344799 44.5px,#6b7a87 48.5px,#5b7094 50.5px,#3555af 53.5px,#375bb7 59.5px)"></i><i style="top:32px;background:linear-gradient(90deg,#233593 0.5px,#2a429e 8.5px,#3c66bd 15.5px,#4068b9 26.5px,#3a61b3 28.5px,#406caf 29.5px,#5c8b9e 30.5px,#94a36e 31.5px,#c78b3e 32.5px,#d35026 33.5px,#c7281e 34.5px,#c3211d 35.5px,#cd3520 36.5px,#d76a2b 37.5px,#c3a04a 38.5px,#8ba97d 39.5px,#5b8da6 40.5px,#4673b2 41.5px,#3a61b8 45.5px,#375bb4 59.5px)"></i><i style="top:33px;background:linear-gradient(90deg,#2d48a6 0.5px,#263a9a 5.5px,#365ab5 17.5px,#2b46a1 29.5px,#3761a8 30.5px,#61939c 31.5px,#a5a666 32.5px,#ce7b36 33.5px,#c93d22 34.5px,#b61d1d 35.5px,#b1171d 36.5px,#ba201e 37.5px,#ca3822 38.5px,#d6662d 39.5px,#ce9c42 40.5px,#a5b86a 41.5px,#6aaca0 42.5px,#4689bb 43.5px,#396ab9 44.5px,#385db7 46.5px,#3f6cc3 59.5px)"></i><i style="top:34px;background:linear-gradient(90deg,#22348d 0.5px,#23368e 29.5px,#2d4d9d 30.5px,#487da7 31.5px,#7da789 32.5px,#baa355 33.5px,#d16d31 34.5px,#c63722 35.5px,#b71d1d 36.5px,#b4181d 37.5px,#c1221e 38.5px,#d54723 39.5px,#da8834 40.5px,#b4b65e 41.5px,#72ae99 42.5px,#4481b1 43.5px,#2e53a2 44.5px,#263c94 45.5px,#253991 59.5px)"></i><i style="top:35px;background:linear-gradient(90deg,#3150a7 0.5px,#2f4ca2 9.5px,#293783 19.5px,#25388e 28.5px,#3b61a8 32.5px,#547d9d 33.5px,#869577 34.5px,#b97f47 35.5px,#c24729 36.5px,#b6231f 37.5px,#b41b1d 38.5px,#c22a1f 39.5px,#d35b28 40.5px,#c79743 41.5px,#91ab75 42.5px,#5b93a6 43.5px,#4175b8 44.5px,#3b64ba 46.5px,#3d68bf 56.5px,#3e6bc1 59.5px)"></i><i style="top:36px;background:linear-gradient(90deg,#375db4 0.5px,#3b5cab 11.5px,#63758a 15.5px,#8c9069 19.5px,#848869 22.5px,#314086 28.5px,#24368d 32.5px,#273e91 33.5px,#375b9b 34.5px,#618b96 35.5px,#a2a065 36.5px,#cc7a36 37.5px,#cb3e22 38.5px,#bd201d 39.5px,#bf221e 40.5px,#cc4023 41.5px,#d27935 42.5px,#b1a960 43.5px,#72a396 44.5px,#4477a6 45.5px,#2e4e9a 46.5px,#23368e 48.5px,#23348d 59.5px)"></i><i style="top:37px;background:linear-gradient(90deg,#3b64be 0.5px,#3557b2 12.5px,#3b61b6 26.5px,#2f4ca9 33.5px,#3256ab 34.5px,#477aa9 35.5px,#7aa188 36.5px,#b79b55 37.5px,#ce6633 38.5px,#c73724 39.5px,#c0231e 40.5px,#c4231e 41.5px,#d13821 42.5px,#db692b 43.5px,#ce9f42 44.5px,#9fb66e 45.5px,#62a4a3 46.5px,#3e7ab5 47.5px,#2d50a7 48.5px,#263b9b 49.5px,#243597 59.5px)"></i><i style="top:38px;background:linear-gradient(90deg,#375cb6 0.5px,#304eaa 6.5px,#263997 13.5px,#263a95 35.5px,#2d4597 36.5px,#3e639f 37.5px,#6b9095 38.5px,#ac9c62 39.5px,#ce6f35 40.5px,#cf3e24 41.5px,#ce2d1f 42.5px,#d63e21 43.5px,#db702c 44.5px,#c4a248 45.5px,#8ba779 46.5px,#57829e 47.5px,#3d579c 48.5px,#324190 49.5px,#243594 55.5px,#253796 59.5px)"></i><i style="top:39px;background:linear-gradient(90deg,#385eb7 0.5px,#3355af 22.5px,#283793 33.5px,#3351a8 37.5px,#3d66b0 38.5px,#5588a9 39.5px,#85a684 40.5px,#be9f51 41.5px,#d3692f 42.5px,#c73521 43.5px,#b6211e 44.5px,#b32524 46.5px,#c03529 47.5px,#cf5f30 48.5px,#c99643 49.5px,#9fb26b 50.5px,#67a49d 51.5px,#4280b4 52.5px,#335dae 53.5px,#2f4ea7 54.5px,#3d68c0 59.5px)"></i><i style="top:40px;background:linear-gradient(90deg,#3d68c0 0.5px,#3d68c0 4.5px,#283e9b 9.5px,#2c3692 27.5px,#4b337c 34.5px,#454f9e 38.5px,#4878af 40.5px,#6c9d9c 41.5px,#aba163 42.5px,#ca7037 43.5px,#c43c25 44.5px,#ba231f 45.5px,#be211e 46.5px,#cd3a21 47.5px,#d57430 48.5px,#b5a55b 49.5px,#76a395 50.5px,#5083ae 51.5px,#3d64b3 53.5px,#3961b9 59.5px)"></i><i style="top:41px;background:linear-gradient(90deg,#3253ab 0.5px,#3258a5 8.5px,#3a76ab 12.5px,#3253aa 19.5px,#375ab1 29.5px,#25378e 39.5px,#293f90 41.5px,#395998 42.5px,#608694 43.5px,#9e9e65 44.5px,#cb7d37 45.5px,#cd4223 46.5px,#bf231e 47.5px,#c52f23 49.5px,#d14f2c 50.5px,#d5873a 51.5px,#b9b359 52.5px,#80b28a 53.5px,#5196af 54.5px,#3e7fb4 55.5px,#3f79b9 58.5px,#4076bf 59.5px)"></i><i style="top:42px;background:linear-gradient(90deg,#253996 0.5px,#273c98 24.5px,#3c67be 29.5px,#3659b2 32.5px,#243593 36.5px,#243793 41.5px,#2e4fa0 42.5px,#4b80a5 43.5px,#85aa81 44.5px,#c3a44c 45.5px,#da6b2c 46.5px,#d03620 47.5px,#c6211d 48.5px,#c8221d 49.5px,#d43620 50.5px,#e06527 51.5px,#da9f39 52.5px,#b2be5f 53.5px,#75b395 54.5px,#498db4 55.5px,#3666b1 56.5px,#3052a8 57.5px,#3253ac 59.5px)"></i><i style="top:43px;background:linear-gradient(90deg,#3a63bb 0.5px,#3252ac 10.5px,#273490 22.5px,#233493 35.5px,#263b97 42.5px,#3256a1 43.5px,#57869c 44.5px,#94a16e 45.5px,#c38240 46.5px,#c64729 47.5px,#b72320 48.5px,#b1191d 49.5px,#b91d1d 50.5px,#cc3b21 51.5px,#da772d 52.5px,#c4ac4e 53.5px,#89b082 54.5px,#5991aa 55.5px,#4373b4 56.5px,#3c67bd 58.5px,#3d68bf 59.5px)"></i><i style="top:44px;background:linear-gradient(90deg,#273c9b 0.5px,#2e4aa7 7.5px,#3f6bc2 13.5px,#495faf 17.5px,#5d4486 21.5px,#3f65bc 27.5px,#3659b3 32.5px,#243696 38.5px,#2d49a5 43.5px,#3f64ac 45.5px,#587e9d 46.5px,#8b9472 47.5px,#bd7a3f 48.5px,#c23f24 49.5px,#b41d1d 50.5px,#b1181d 51.5px,#bc231e 52.5px,#cd3e23 53.5px,#d86f2f 54.5px,#cba345 55.5px,#9db870 56.5px,#64aaa6 57.5px,#458abf 58.5px,#3b6fbe 59.5px)"></i><i style="top:45px;background:linear-gradient(90deg,#3d68c0 0.5px,#385eb8 7.5px,#3e6bc2 11.5px,#273a98 16.5px,#3046a1 20.5px,#3858b0 23.5px,#253897 29.5px,#273b9a 44.5px,#2b45a0 45.5px,#3761a8 46.5px,#5f8e9b 47.5px,#9f9e67 48.5px,#c6763a 49.5px,#c64026 50.5px,#bb241f 51.5px,#bb1d1d 52.5px,#c6231e 53.5px,#d84121 54.5px,#e17b2c 55.5px,#ceb044 56.5px,#97be75 57.5px,#5ca8ad 58.5px,#428ac3 59.5px)"></i><i style="top:46px;background:linear-gradient(90deg,#3f6dc4 0.5px,#365ab3 7.5px,#22338f 16.5px,#23358f 46.5px,#273c91 47.5px,#365297 48.5px,#5c7c92 49.5px,#969568 50.5px,#c3793d 51.5px,#ca4627 52.5px,#c62a20 53.5px,#cb281e 54.5px,#d94522 55.5px,#dd8130 56.5px,#beaf54 57.5px,#83ae8b 58.5px,#5a98b2 59.5px)"></i><i style="top:47px;background:linear-gradient(90deg,#293fa0 0.5px,#253799 48.5px,#293f9b 49.5px,#3857a0 50.5px,#5e8396 51.5px,#9a9d66 52.5px,#cc7f38 53.5px,#d44423 54.5px,#cb271e 55.5px,#cb2a1f 56.5px,#d34024 57.5px,#de9838 59.5px)"></i><i style="top:48px;background:linear-gradient(90deg,#3455ae 0.5px,#3c66be 8.5px,#3355ad 14.5px,#3b64bc 23.5px,#24378f 37.5px,#21318a 48.5px,#253c92 49.5px,#335fa4 50.5px,#5d929e 51.5px,#a0a469 52.5px,#c77a3c 53.5px,#c4432a 54.5px,#b72622 55.5px,#bd201d 57.5px,#de5323 59.5px)"></i><i style="top:49px;background:linear-gradient(90deg,#273b9a 0.5px,#273b9a 33.5px,#3b64bc 36.5px,#385fb8 38.5px,#253796 41.5px,#243795 50.5px,#304696 52.5px,#42629c 53.5px,#6f9090 54.5px,#b19a5a 55.5px,#d1682f 56.5px,#cc3420 57.5px,#c5221d 58.5px,#c6221d 59.5px)"></i><i style="top:50px;background:linear-gradient(90deg,#243599 0.5px,#283e9f 12.5px,#3f6cc3 21.5px,#3960ba 27.5px,#273b9e 34.5px,#25379a 50.5px,#273d9d 51.5px,#3257a7 52.5px,#5288a2 53.5px,#90ab73 54.5px,#c99541 55.5px,#d45427 56.5px,#c1261e 57.5px,#af151c 59.5px)"></i></div>
<div class="hm" style="left:607px;top:164px;width:60px;height:51px"><i style="top:0px;background:linear-gradient(90deg,#3a74ac 0.5px,#3254a9 14.5px,#304ea4 20.5px,#3f65b9 24.5px,#414d9b 27.5px,#4c3174 30.5px,#5b376e 35.5px,#3c78a5 44.5px,#4184a8 51.5px,#305e9b 55.5px,#243b8c 59.5px)"></i><i style="top:1px;background:linear-gradient(90deg,#4172c6 0.5px,#3d60b4 18.5px,#406cc0 40.5px,#3f63b4 47.5px,#60447f 50.5px,#5b4885 51.5px,#4261b0 53.5px,#3b66bb 55.5px,#2e4aa2 59.5px)"></i><i style="top:2px;background:linear-gradient(90deg,#3d68be 0.5px,#396ea2 14.5px,#4f5688 17.5px,#80395d 20.5px,#713262 23.5px,#653066 26.5px,#613973 31.5px,#3d5eb3 38.5px,#375ab1 46.5px,#3e5eb3 50.5px,#3f6cc4 54.5px,#2f4da6 59.5px)"></i><i style="top:3px;background:linear-gradient(90deg,#3a63bc 0.5px,#365fa3 12.5px,#533c7d 16.5px,#434b9d 19.5px,#405fb2 22.5px,#3d6da6 27.5px,#4072af 31.5px,#3c65bd 38.5px,#3c61b7 45.5px,#4e4790 48.5px,#293e9c 52.5px,#2a3c97 59.5px)"></i><i style="top:4px;background:linear-gradient(90deg,#395db4 0.5px,#3e64b7 15.5px,#3458ae 23.5px,#24388d 30.5px,#263c90 41.5px,#39669a 53.5px,#5d727d 59.5px)"></i><i style="top:5px;background:linear-gradient(90deg,#3a3687 0.5px,#49337c 7.5px,#3f468d 11.5px,#3a6ba9 15.5px,#4170c6 21.5px,#3b64bc 28.5px,#233592 33.5px,#283f9b 37.5px,#3960b8 42.5px,#3252a9 53.5px,#283a90 59.5px)"></i><i style="top:6px;background:linear-gradient(90deg,#3d64bb 0.5px,#3b60b8 10.5px,#3f6dc2 16.5px,#3b64bc 25.5px,#263b99 32.5px,#233495 59.5px)"></i><i style="top:7px;background:linear-gradient(90deg,#243693 0.5px,#2d48a2 5.5px,#3b65bc 11.5px,#3661af 26.5px,#3569a4 34.5px,#305c9f 41.5px,#233591 49.5px,#223390 59.5px)"></i><i style="top:8px;background:linear-gradient(90deg,#202f88 0.5px,#284494 9.5px,#345e9b 18.5px,#2d4b9d 31.5px,#355cae 40.5px,#213289 52.5px,#243890 59.5px)"></i><i style="top:9px;background:linear-gradient(90deg,#223391 0.5px,#2b44a0 6.5px,#3c66bc 11.5px,#4659a6 14.5px,#534587 17.5px,#3960b4 23.5px,#345bab 31.5px,#3770a6 44.5px,#233692 59.5px)"></i><i style="top:10px;background:linear-gradient(90deg,#23348e 0.5px,#3558af 8.5px,#305199 16.5px,#355fac 26.5px,#2e4ca2 40.5px,#293186 55.5px,#293086 59.5px)"></i><i style="top:11px;background:linear-gradient(90deg,#24328b 0.5px,#2d49a1 13.5px,#385fb3 24.5px,#3457ae 34.5px,#395eb5 43.5px,#454590 48.5px,#7d2d56 54.5px,#802b52 59.5px)"></i><i style="top:12px;background:linear-gradient(90deg,#464d9a 0.5px,#34479a 4.5px,#23338a 9.5px,#274091 20.5px,#3262a0 25.5px,#375db3 34.5px,#3e68be 46.5px,#2a3285 57.5px,#293084 59.5px)"></i><i style="top:13px;background:linear-gradient(90deg,#424f9f 0.5px,#5e3470 4.5px,#5b3572 6.5px,#3e61b6 10.5px,#3d67be 13.5px,#3558b0 17.5px,#4170c4 25.5px,#3853a6 36.5px,#253994 43.5px,#25358f 57.5px,#273d97 59.5px)"></i><i style="top:14px;background:linear-gradient(90deg,#263696 0.5px,#293e9e 10.5px,#4273c8 22.5px,#4968b7 25.5px,#595491 28.5px,#697680 33.5px,#6e6875 35.5px,#6f4466 37.5px,#2e3e95 41.5px,#4068ba 46.5px,#3859af 49.5px,#344197 51.5px,#653772 54.5px,#564388 56.5px,#3a53aa 58.5px,#3758b2 59.5px)"></i><i style="top:15px;background:linear-gradient(90deg,#22338f 0.5px,#3455af 9.5px,#3e6cc0 17.5px,#3e7da6 31.5px,#4a6d8f 40.5px,#65737a 45.5px,#55617e 49.5px,#313e8e 54.5px,#314fa9 59.5px)"></i><i style="top:16px;background:linear-gradient(90deg,#233496 0.5px,#29449d 17.5px,#3b71a4 26.5px,#3566a4 33.5px,#2a409a 41.5px,#2d45a2 52.5px,#365ab5 59.5px)"></i><i style="top:17px;background:linear-gradient(90deg,#24328e 0.5px,#2a3b96 5.5px,#3658b1 9.5px,#243793 14.5px,#2f378b 23.5px,#5c316c 28.5px,#4b3c82 31.5px,#375ab0 35.5px,#3f6bc3 44.5px,#3150ab 49.5px,#2f4ca7 59.5px)"></i><i style="top:18px;background:linear-gradient(90deg,#3f3385 0.5px,#523981 4.5px,#3a5fb9 11.5px,#365ab4 21.5px,#3658a5 27.5px,#3a67b6 34.5px,#3f6bc3 44.5px,#283ea0 56.5px,#273c9e 59.5px)"></i><i style="top:19px;background:linear-gradient(90deg,#54377b 0.5px,#3754ab 6.5px,#3457b0 14.5px,#2c46a1 21.5px,#3757ad 27.5px,#594284 30.5px,#50458c 32.5px,#3751a7 35.5px,#3d67bf 48.5px,#385eb7 53.5px,#3f6dc4 59.5px)"></i><i style="top:20px;background:linear-gradient(90deg,#293793 0.5px,#2a429f 9.5px,#3659b3 13.5px,#253896 19.5px,#2a358f 27.5px,#662a63 32.5px,#52377d 38.5px,#395db6 43.5px,#3f6bc3 49.5px,#3d66be 57.5px,#3f68bf 59.5px)"></i><i style="top:21px;background:linear-gradient(90deg,#4168be 0.5px,#3b61ba 6.5px,#375cb7 12.5px,#3e6bc1 19.5px,#283f9d 26.5px,#354ca7 33.5px,#3657b1 40.5px,#273b9c 52.5px,#38388f 59.5px)"></i><i style="top:22px;background:linear-gradient(90deg,#593d81 0.5px,#3859b2 10.5px,#3c78b2 21.5px,#3767b0 30.5px,#3a63bb 37.5px,#3456b2 52.5px,#283a9b 59.5px)"></i><i style="top:23px;background:linear-gradient(90deg,#426abf 0.5px,#375bb3 8.5px,#3150a9 13.5px,#3356ad 19.5px,#243991 26.5px,#2e4ba4 34.5px,#365fb0 42.5px,#3b70b2 46.5px,#4171c7 53.5px,#2a429d 59.5px)"></i><i style="top:24px;background:linear-gradient(90deg,#3d68bf 0.5px,#3559b0 8.5px,#23358b 17.5px,#294198 26.5px,#3a64b6 36.5px,#4285ae 45.5px,#4572bb 52.5px,#3d62b1 57.5px,#3e65b6 59.5px)"></i><i style="top:25px;background:linear-gradient(90deg,#2b3898 0.5px,#273c9d 27.5px,#3e68bc 36.5px,#516794 43.5px,#778078 50.5px,#6a747e 57.5px,#5e6a84 59.5px)"></i><i style="top:26px;background:linear-gradient(90deg,#592b6a 0.5px,#2a3389 6.5px,#3d68bf 16.5px,#375cb3 21.5px,#22348d 28.5px,#273c91 40.5px,#4069b8 46.5px,#3755a4 53.5px,#3a5eaf 59.5px)"></i><i style="top:27px;background:linear-gradient(90deg,#3956aa 0.5px,#26368a 6.5px,#3b2d77 8.5px,#5c2862 10.5px,#5a2964 11.5px,#283184 14.5px,#223587 33.5px,#366ea1 41.5px,#3662a8 46.5px,#416cc1 49.5px,#283689 53.5px,#263184 59.5px)"></i><i style="top:28px;background:linear-gradient(90deg,#273288 0.5px,#253991 15.5px,#365ab1 22.5px,#284693 29.5px,#386fa8 35.5px,#4060b0 46.5px,#67386e 54.5px,#5a306d 59.5px)"></i><i style="top:29px;background:linear-gradient(90deg,#653069 0.5px,#424c9a 4.5px,#3b64bb 8.5px,#3961b8 14.5px,#23358c 23.5px,#23368c 30.5px,#3d69bd 34.5px,#3962b7 36.5px,#294298 39.5px,#3a59a7 45.5px,#687480 50.5px,#5f6d89 53.5px,#3a56a8 58.5px,#3956aa 59.5px)"></i><i style="top:30px;background:linear-gradient(90deg,#3f60b4 0.5px,#3f65ba 3.5px,#263a91 8.5px,#22338a 32.5px,#3a5eb2 47.5px,#3a57aa 56.5px,#395cb2 59.5px)"></i><i style="top:31px;background:linear-gradient(90deg,#375db4 0.5px,#3d68bf 5.5px,#213188 16.5px,#2b378a 48.5px,#6d3c6f 54.5px,#4c59a4 59.5px)"></i><i style="top:32px;background:linear-gradient(90deg,#406ec4 0.5px,#3f6bc2 7.5px,#23358e 16.5px,#263a93 20.5px,#385db5 25.5px,#304fa7 38.5px,#3d68be 48.5px,#395db3 59.5px)"></i><i style="top:33px;background:linear-gradient(90deg,#3f6cc4 0.5px,#3252ae 7.5px,#243596 15.5px,#2b42a1 36.5px,#4368bd 43.5px,#3f66bd 52.5px,#436cc1 59.5px)"></i><i style="top:34px;background:linear-gradient(90deg,#263a94 0.5px,#253994 26.5px,#395eb6 34.5px,#505ba6 39.5px,#7c3e6c 44.5px,#7c3a68 46.5px,#595499 50.5px,#574689 53.5px,#563877 56.5px,#55427d 59.5px)"></i><i style="top:35px;background:linear-gradient(90deg,#3d68c0 0.5px,#3d7db1 13.5px,#385eb6 21.5px,#3659b4 31.5px,#3b62bb 37.5px,#2c3794 45.5px,#3046a2 49.5px,#3a5bb3 52.5px,#3d60b5 57.5px,#416abd 59.5px)"></i><i style="top:36px;background:linear-gradient(90deg,#3b64ba 0.5px,#4070c4 8.5px,#243791 22.5px,#253994 44.5px,#3862b2 51.5px,#3973aa 57.5px,#386fa9 59.5px)"></i><i style="top:37px;background:linear-gradient(90deg,#365fae 0.5px,#3a5db5 8.5px,#28338d 17.5px,#273f96 51.5px,#3468a3 59.5px)"></i><i style="top:38px;background:linear-gradient(90deg,#3458ae 0.5px,#3e58ad 6.5px,#5f306b 14.5px,#592e6d 18.5px,#3e5cb1 24.5px,#3c66be 28.5px,#3457b0 33.5px,#3e6bc2 41.5px,#385eb6 49.5px,#406cc0 58.5px,#406bbf 59.5px)"></i><i style="top:39px;background:linear-gradient(90deg,#253898 0.5px,#2b4099 9.5px,#3e689e 14.5px,#6a386a 20.5px,#663a72 23.5px,#4159ac 26.5px,#3658b2 28.5px,#253898 32.5px,#2d47a5 46.5px,#4067be 55.5px,#4d5caa 59.5px)"></i><i style="top:40px;background:linear-gradient(90deg,#2f4ba6 0.5px,#4469b5 10.5px,#707f86 17.5px,#666d7e 21.5px,#2b3d92 27.5px,#243593 37.5px,#3b65bd 45.5px,#3251ac 50.5px,#2b44a0 54.5px,#3554ad 59.5px)"></i><i style="top:41px;background:linear-gradient(90deg,#3559ac 0.5px,#503f81 7.5px,#3451a3 13.5px,#3656a8 22.5px,#25398f 34.5px,#3e69c0 45.5px,#3b65bc 59.5px)"></i><i style="top:42px;background:linear-gradient(90deg,#3771a7 0.5px,#32599e 8.5px,#253999 17.5px,#2b44a3 25.5px,#3c65bd 32.5px,#3150ac 38.5px,#263a9b 44.5px,#3252ae 50.5px,#375cb7 59.5px)"></i><i style="top:43px;background:linear-gradient(90deg,#233789 0.5px,#213288 49.5px,#3454aa 59.5px)"></i><i style="top:44px;background:linear-gradient(90deg,#3961b7 0.5px,#3962b6 11.5px,#23358f 20.5px,#233591 51.5px,#3759b0 56.5px,#3a50a5 59.5px)"></i><i style="top:45px;background:linear-gradient(90deg,#355fab 0.5px,#3b71a0 14.5px,#23348c 28.5px,#2d4294 35.5px,#375ab0 39.5px,#23348e 47.5px,#25398f 59.5px)"></i><i style="top:46px;background:linear-gradient(90deg,#253894 0.5px,#32468f 9.5px,#767f72 16.5px,#737a72 20.5px,#2d3d8b 27.5px,#384586 30.5px,#6a7071 34.5px,#596681 37.5px,#395aaa 40.5px,#355aaf 46.5px,#3c7faa 56.5px,#3a7ba9 59.5px)"></i><i style="top:47px;background:linear-gradient(90deg,#385db4 0.5px,#446dc1 7.5px,#3350a3 24.5px,#263585 36.5px,#2b459b 46.5px,#3e67b4 59.5px)"></i><i style="top:48px;background:linear-gradient(90deg,#3b64bd 0.5px,#4a65b6 4.5px,#73497e 9.5px,#65427f 12.5px,#2c3d9b 17.5px,#283d9d 42.5px,#3456b1 49.5px,#384d99 55.5px,#606c83 59.5px)"></i><i style="top:49px;background:linear-gradient(90deg,#3f6bc2 0.5px,#3c5fb6 13.5px,#406fc6 29.5px,#395fb7 40.5px,#2e48a6 51.5px,#2d3a93 58.5px,#313990 59.5px)"></i><i style="top:50px;background:linear-gradient(90deg,#22338a 0.5px,#263c93 11.5px,#3e6ac0 18.5px,#375cb2 28.5px,#3257a7 36.5px,#3b5e98 40.5px,#523270 45.5px,#453c85 48.5px,#395eb4 52.5px,#365ab1 57.5px,#3150a7 59.5px)"></i></div>
<div class="hm" style="left:545px;top:217px;width:60px;height:50px"><i style="top:0px;background:linear-gradient(90deg,#2c46a4 0.5px,#3d69c1 10.5px,#3353af 19.5px,#2b3895 26.5px,#582a6c 31.5px,#452d7b 34.5px,#2a3391 37.5px,#2c47a3 45.5px,#3e6ac0 52.5px,#365bb5 59.5px)"></i><i style="top:1px;background:linear-gradient(90deg,#263a93 0.5px,#3d68be 8.5px,#3559b0 13.5px,#243791 19.5px,#2c3084 31.5px,#463277 38.5px,#315c9d 46.5px,#2e549b 53.5px,#253a90 59.5px)"></i><i style="top:2px;background:linear-gradient(90deg,#2e4ca2 0.5px,#304fa6 14.5px,#3253a8 19.5px,#3e6bbf 25.5px,#2c449a 33.5px,#3853a6 42.5px,#3356a9 51.5px,#3a6bb3 56.5px,#3668a7 59.5px)"></i><i style="top:3px;background:linear-gradient(90deg,#3559b0 0.5px,#22338b 4.5px,#243b8d 15.5px,#3667a8 25.5px,#395bac 34.5px,#5c4988 37.5px,#773e6c 39.5px,#703a6b 41.5px,#2c398c 45.5px,#283e95 51.5px,#3252a7 58.5px,#3252a7 59.5px)"></i><i style="top:4px;background:linear-gradient(90deg,#253799 0.5px,#283d9d 17.5px,#3a63bb 29.5px,#364da7 38.5px,#243596 49.5px,#253798 59.5px)"></i><i style="top:5px;background:linear-gradient(90deg,#22318e 0.5px,#29409b 11.5px,#4170c7 22.5px,#3d68bf 29.5px,#253894 40.5px,#22318e 59.5px)"></i><i style="top:6px;background:linear-gradient(90deg,#25379a 0.5px,#2a42a2 7.5px,#3d68c0 12.5px,#406ec5 18.5px,#3a62bc 22.5px,#3d67c0 30.5px,#2940a1 48.5px,#25379a 59.5px)"></i><i style="top:7px;background:linear-gradient(90deg,#3150ab 0.5px,#3d64b9 14.5px,#3757ae 24.5px,#375cb5 34.5px,#253795 48.5px,#273c99 56.5px,#2e4aa5 59.5px)"></i><i style="top:8px;background:linear-gradient(90deg,#293e96 0.5px,#3b76a9 10.5px,#4f6593 14.5px,#6b406e 18.5px,#613970 22.5px,#2a3b94 28.5px,#2b439f 37.5px,#3d69c1 44.5px,#3659b2 49.5px,#293590 55.5px,#29348e 59.5px)"></i><i style="top:9px;background:linear-gradient(90deg,#424d9f 0.5px,#3c68be 6.5px,#3a5fb5 14.5px,#3e5fb5 22.5px,#3557b3 31.5px,#283d9e 40.5px,#3952ab 49.5px,#6a2d66 57.5px,#6b2b64 59.5px)"></i><i style="top:10px;background:linear-gradient(90deg,#25378c 0.5px,#27338a 44.5px,#4a2f75 53.5px,#4457a7 59.5px)"></i><i style="top:11px;background:linear-gradient(90deg,#3670a5 0.5px,#253a96 6.5px,#2a328f 24.5px,#4e2d75 30.5px,#2d46a3 38.5px,#3952aa 45.5px,#623876 50.5px,#2d3f9d 56.5px,#293d9d 59.5px)"></i><i style="top:12px;background:linear-gradient(90deg,#223488 0.5px,#252e84 13.5px,#5f2760 17.5px,#592965 19.5px,#2a3286 22.5px,#2f449a 29.5px,#3c66bd 39.5px,#4069bf 53.5px,#3c67be 59.5px)"></i><i style="top:13px;background:linear-gradient(90deg,#22338d 0.5px,#2c358b 17.5px,#3d69c0 26.5px,#365bb3 36.5px,#3355ae 43.5px,#253891 51.5px,#243791 59.5px)"></i><i style="top:14px;background:linear-gradient(90deg,#3455b1 0.5px,#29399a 6.5px,#48317e 15.5px,#27399b 25.5px,#28409d 45.5px,#3361a6 49.5px,#304eaa 53.5px,#2f4ca9 59.5px)"></i><i style="top:15px;background:linear-gradient(90deg,#3a62b8 0.5px,#3d63b9 11.5px,#223288 24.5px,#263a90 42.5px,#385aae 47.5px,#314a9d 51.5px,#223186 56.5px,#203086 59.5px)"></i><i style="top:16px;background:linear-gradient(90deg,#365ab2 0.5px,#3150a9 6.5px,#26348d 15.5px,#263b95 24.5px,#3558b0 32.5px,#365bb2 37.5px,#3e6ac0 40.5px,#4555a4 45.5px,#513377 49.5px,#3f2d79 54.5px,#23318b 59.5px)"></i><i style="top:17px;background:linear-gradient(90deg,#2d47a5 0.5px,#3353af 8.5px,#37459c 12.5px,#4f327b 16.5px,#273999 22.5px,#3557b3 29.5px,#3d68c0 35.5px,#3a61bb 42.5px,#3e63ba 48.5px,#283b9b 56.5px,#293e9e 59.5px)"></i><i style="top:18px;background:linear-gradient(90deg,#273594 0.5px,#2c45a3 11.5px,#3f6bc3 22.5px,#283e9e 36.5px,#3e69c1 47.5px,#365cb5 56.5px,#3962b9 59.5px)"></i><i style="top:19px;background:linear-gradient(90deg,#4a2e77 0.5px,#4b2c74 5.5px,#243491 12.5px,#283f9b 18.5px,#3d67bf 22.5px,#3559b2 25.5px,#253996 29.5px,#283e9b 35.5px,#406ec5 40.5px,#3d68c0 43.5px,#273c99 48.5px,#273d98 53.5px,#3363a3 58.5px,#3362a3 59.5px)"></i><i style="top:20px;background:linear-gradient(90deg,#334ca4 0.5px,#22318b 10.5px,#2a439c 20.5px,#3353ac 27.5px,#406dc4 42.5px,#2f4ea4 59.5px)"></i><i style="top:21px;background:linear-gradient(90deg,#273c9e 0.5px,#293ea1 19.5px,#406bc1 24.5px,#395cb7 27.5px,#293ea1 31.5px,#2a42a4 42.5px,#3559b4 48.5px,#375db6 53.5px,#375eb6 59.5px)"></i><i style="top:22px;background:linear-gradient(90deg,#3563ab 0.5px,#365cb5 7.5px,#385db8 20.5px,#3c50a6 23.5px,#4f4791 25.5px,#3c65be 30.5px,#3353af 34.5px,#243597 39.5px,#29449c 46.5px,#3a7aab 55.5px,#3a79ab 59.5px)"></i><i style="top:23px;background:linear-gradient(90deg,#253898 0.5px,#2f469f 10.5px,#3f63b3 18.5px,#3f62b5 26.5px,#3f69c0 30.5px,#263a9b 35.5px,#273e9b 59.5px)"></i><i style="top:24px;background:linear-gradient(90deg,#263791 0.5px,#444f82 7.5px,#80816a 15.5px,#7e816c 20.5px,#2d3f92 32.5px,#3354ae 41.5px,#3c66be 59.5px)"></i><i style="top:25px;background:linear-gradient(90deg,#3659b1 0.5px,#25368e 7.5px,#2d3787 13.5px,#6f345f 17.5px,#57356d 19.5px,#313785 21.5px,#23348f 34.5px,#233591 59.5px)"></i><i style="top:26px;background:linear-gradient(90deg,#3e6bc2 0.5px,#23348b 8.5px,#252e82 21.5px,#294197 27.5px,#365bb1 31.5px,#223389 38.5px,#1f2e85 59.5px)"></i><i style="top:27px;background:linear-gradient(90deg,#375bb6 0.5px,#354aa1 10.5px,#62316d 19.5px,#5b3b7c 22.5px,#445fb2 25.5px,#3c5eb7 29.5px,#395fb9 40.5px,#263697 51.5px,#263698 59.5px)"></i><i style="top:28px;background:linear-gradient(90deg,#2941a0 0.5px,#3972aa 10.5px,#3f629c 15.5px,#6e2e61 20.5px,#583073 23.5px,#323895 26.5px,#25369b 48.5px,#313390 51.5px,#5b2c6e 55.5px,#4d3884 57.5px,#3b4ea7 59.5px)"></i><i style="top:29px;background:linear-gradient(90deg,#3150aa 0.5px,#3457af 4.5px,#3d67bc 8.5px,#283a92 13.5px,#343183 18.5px,#5b2a68 24.5px,#4c2e73 29.5px,#26358f 35.5px,#273996 59.5px)"></i><i style="top:30px;background:linear-gradient(90deg,#22338f 0.5px,#2f3287 9.5px,#472c73 16.5px,#304e94 28.5px,#2d5499 38.5px,#284198 48.5px,#3354ad 57.5px,#3252ab 59.5px)"></i><i style="top:31px;background:linear-gradient(90deg,#233088 0.5px,#23368e 47.5px,#375cb3 56.5px,#365bb2 59.5px)"></i><i style="top:32px;background:linear-gradient(90deg,#403d8e 0.5px,#3456b0 6.5px,#3150ac 15.5px,#243596 26.5px,#293f9e 49.5px,#3c67bf 57.5px,#3c66bf 59.5px)"></i><i style="top:33px;background:linear-gradient(90deg,#24318c 0.5px,#304ea8 14.5px,#3151aa 22.5px,#283e99 29.5px,#3b65bd 39.5px,#3960b9 50.5px,#365ab3 59.5px)"></i><i style="top:34px;background:linear-gradient(90deg,#243497 0.5px,#2a42a2 4.5px,#375cb6 7.5px,#26389a 12.5px,#293999 29.5px,#49327e 32.5px,#3c358a 34.5px,#273b9c 37.5px,#263a9a 59.5px)"></i><i style="top:35px;background:linear-gradient(90deg,#233390 0.5px,#2c429a 12.5px,#3f6cc4 23.5px,#3756af 31.5px,#2f4ca7 36.5px,#3c66be 45.5px,#304da8 53.5px,#253895 59.5px)"></i><i style="top:36px;background:linear-gradient(90deg,#314193 0.5px,#7e826d 6.5px,#7b7f6e 9.5px,#2c3d95 15.5px,#2d48a6 20.5px,#3456b2 25.5px,#263a9b 34.5px,#2c45a5 37.5px,#375cb7 40.5px,#2d48a7 45.5px,#3a62bb 54.5px,#375cb7 59.5px)"></i><i style="top:37px;background:linear-gradient(90deg,#3455ab 0.5px,#2f4591 8.5px,#202f85 17.5px,#3457ad 39.5px,#3457ac 59.5px)"></i><i style="top:38px;background:linear-gradient(90deg,#3c65bb 0.5px,#3b65bb 7.5px,#22328a 16.5px,#283f96 23.5px,#385fb6 29.5px,#2f4da4 35.5px,#273d94 40.5px,#4170c6 50.5px,#3a64b8 56.5px,#3562a8 59.5px)"></i><i style="top:39px;background:linear-gradient(90deg,#4267b3 0.5px,#3e6ac2 7.5px,#2c419a 17.5px,#416bbd 29.5px,#375cb5 42.5px,#3960b9 51.5px,#3562ab 55.5px,#4083ab 59.5px)"></i><i style="top:40px;background:linear-gradient(90deg,#263899 0.5px,#304296 13.5px,#767b73 22.5px,#727976 27.5px,#324093 35.5px,#283b9c 45.5px,#3961ba 53.5px,#355ab2 59.5px)"></i><i style="top:41px;background:linear-gradient(90deg,#243595 0.5px,#375bb1 11.5px,#536c9c 17.5px,#878b6d 23.5px,#8c8d66 28.5px,#666172 33.5px,#573670 37.5px,#422f7d 42.5px,#263796 47.5px,#26399a 59.5px)"></i><i style="top:42px;background:linear-gradient(90deg,#274291 0.5px,#32639f 9.5px,#4168b4 22.5px,#4671bd 25.5px,#2a3b89 30.5px,#27378e 42.5px,#3b64bb 52.5px,#3558b0 59.5px)"></i><i style="top:43px;background:linear-gradient(90deg,#375cb5 0.5px,#3e6dc0 5.5px,#273e99 10.5px,#29419e 16.5px,#3f6dc4 24.5px,#365bb5 32.5px,#3b64bc 47.5px,#3d67bf 59.5px)"></i><i style="top:44px;background:linear-gradient(90deg,#243792 0.5px,#2c4d9b 4.5px,#3771a5 8.5px,#31609f 11.5px,#243891 15.5px,#2a439b 22.5px,#4071c4 29.5px,#3962b7 34.5px,#273c96 40.5px,#2e4aa3 50.5px,#3960b7 59.5px)"></i><i style="top:45px;background:linear-gradient(90deg,#3457ad 0.5px,#3e69bc 4.5px,#3858a1 10.5px,#3668a7 21.5px,#3c7eab 30.5px,#3c68bb 40.5px,#3b64bb 48.5px,#3a62b8 53.5px,#3f6cc2 58.5px,#3d69c0 59.5px)"></i><i style="top:46px;background:linear-gradient(90deg,#385db4 0.5px,#4767a7 4.5px,#7d8977 9.5px,#778176 12.5px,#32418c 17.5px,#283890 23.5px,#3c67bc 36.5px,#3251ab 43.5px,#243692 51.5px,#263996 59.5px)"></i><i style="top:47px;background:linear-gradient(90deg,#375bb4 0.5px,#2b4196 6.5px,#3b6d9e 10.5px,#37649b 12.5px,#2b3c8e 15.5px,#5a3373 21.5px,#3859b0 28.5px,#3b5cb2 36.5px,#243693 48.5px,#2d49a3 56.5px,#3455af 59.5px)"></i><i style="top:48px;background:linear-gradient(90deg,#3b5cac 0.5px,#35569b 8.5px,#36699e 14.5px,#2f5094 19.5px,#26348a 24.5px,#3d307c 29.5px,#582d6b 34.5px,#433985 39.5px,#3252aa 45.5px,#2e4aa3 53.5px,#243791 59.5px)"></i><i style="top:49px;background:linear-gradient(90deg,#777c6d 0.5px,#8c8d65 5.5px,#72786e 10.5px,#2d3e89 17.5px,#23308b 28.5px,#21318c 59.5px)"></i></div>
<div class="hm" style="left:607px;top:217px;width:60px;height:50px"><i style="top:0px;background:linear-gradient(90deg,#bb1a1d 0.5px,#c6221e 1.5px,#d73f21 2.5px,#e27b2c 3.5px,#ceb245 4.5px,#94bb74 5.5px,#589ca6 6.5px,#386caf 7.5px,#2b489f 8.5px,#263996 10.5px,#3f6dc4 27.5px,#406fc5 35.5px,#253895 45.5px,#273c98 51.5px,#385fb8 55.5px,#2d48a4 59.5px)"></i><i style="top:1px;background:linear-gradient(90deg,#ba1a1d 0.5px,#c5231e 2.5px,#d74522 3.5px,#df8530 4.5px,#c2b852 5.5px,#82b589 6.5px,#4f90b2 7.5px,#3d71bc 8.5px,#3d69c1 11.5px,#3e6ac1 15.5px,#273c9b 19.5px,#283e9d 26.5px,#375cb6 32.5px,#2d48a5 51.5px,#2c46a3 59.5px)"></i><i style="top:2px;background:linear-gradient(90deg,#d42d1f 0.5px,#c7221e 2.5px,#d23820 3.5px,#dc6e2b 4.5px,#c9a547 5.5px,#91af78 6.5px,#5c93a4 7.5px,#4272b1 8.5px,#3861b4 10.5px,#3559b0 17.5px,#21328a 26.5px,#2a439a 34.5px,#3a63b9 41.5px,#2f4da4 47.5px,#22338a 54.5px,#223489 59.5px)"></i><i style="top:3px;background:linear-gradient(90deg,#dc8f37 0.5px,#d45329 1.5px,#c72b20 2.5px,#c2211e 3.5px,#c9291f 4.5px,#d64423 5.5px,#db762f 6.5px,#cba645 7.5px,#9db86f 8.5px,#64a9a4 9.5px,#4589bd 10.5px,#3b71ba 11.5px,#2f4da2 16.5px,#23358b 20.5px,#263b91 36.5px,#385fb5 46.5px,#2e5699 57.5px,#2f5b9a 59.5px)"></i><i style="top:4px;background:linear-gradient(90deg,#6db0a2 0.5px,#a8a666 1.5px,#cc7939 2.5px,#ca4326 3.5px,#bd251f 4.5px,#ba1f1d 5.5px,#c52e1f 6.5px,#d45b28 7.5px,#c79542 8.5px,#93a972 9.5px,#5d92a2 10.5px,#4272b1 11.5px,#3456ae 14.5px,#3355ad 19.5px,#3961b6 27.5px,#3e6ac1 41.5px,#2e4aa2 55.5px,#3355ac 59.5px)"></i><i style="top:5px;background:linear-gradient(90deg,#2b4698 0.5px,#3d64a0 1.5px,#689396 2.5px,#aaa261 3.5px,#d07633 4.5px,#ca3a21 5.5px,#bc1f1d 6.5px,#bc201e 7.5px,#c83521 8.5px,#d3622d 9.5px,#c69845 10.5px,#96ac70 11.5px,#5d949d 12.5px,#3b68a5 13.5px,#2b479a 14.5px,#243893 16.5px,#2c4e9b 22.5px,#3872a7 28.5px,#3365a2 34.5px,#273d96 41.5px,#2b469e 48.5px,#375eb4 55.5px,#3558b0 59.5px)"></i><i style="top:6px;background:linear-gradient(90deg,#3052ad 0.5px,#3b71b4 1.5px,#649fa4 2.5px,#a8ab69 3.5px,#ce7d39 4.5px,#c84024 5.5px,#b71f1e 6.5px,#b4191d 8.5px,#c4281e 9.5px,#d74d24 10.5px,#dd8832 11.5px,#c5b54c 12.5px,#8eb778 13.5px,#589da8 14.5px,#3e7ab9 15.5px,#355fb4 16.5px,#304eac 18.5px,#3f78bb 26.5px,#3c7fae 32.5px,#3d69bf 43.5px,#3e81b2 53.5px,#2f51a7 59.5px)"></i><i style="top:7px;background:linear-gradient(90deg,#304fab 0.5px,#3d6ab6 2.5px,#5286aa 3.5px,#81a185 4.5px,#ba9751 5.5px,#cc602f 6.5px,#bf2f21 7.5px,#b11a1d 8.5px,#b91e1d 10.5px,#cd3921 11.5px,#db6f2b 12.5px,#cca743 13.5px,#98b972 14.5px,#5da3a8 15.5px,#407fbc 16.5px,#3966b9 17.5px,#395fb9 20.5px,#4070c4 28.5px,#293f9e 40.5px,#3354af 47.5px,#3e6bc0 54.5px,#3960b9 59.5px)"></i><i style="top:8px;background:linear-gradient(90deg,#243792 0.5px,#284096 3.5px,#365a9e 4.5px,#5b8898 5.5px,#98a26a 6.5px,#ca843a 7.5px,#cf4524 8.5px,#bf211e 9.5px,#b91a1d 10.5px,#c3211d 11.5px,#d53f21 12.5px,#df7a2c 13.5px,#cbaf46 14.5px,#92b975 15.5px,#589aa5 16.5px,#396dae 17.5px,#2b49a0 18.5px,#243693 20.5px,#2a419d 28.5px,#3a62bb 34.5px,#3456b0 48.5px,#3559b2 55.5px,#3558b2 59.5px)"></i><i style="top:9px;background:linear-gradient(90deg,#305ca3 0.5px,#325ca7 4.5px,#487ca7 5.5px,#7da388 6.5px,#bc9b52 7.5px,#d2602d 8.5px,#c52f20 9.5px,#ba1c1d 10.5px,#ca291e 12.5px,#db4d23 13.5px,#e2882e 14.5px,#ccb747 15.5px,#94bd74 16.5px,#5ca4a8 17.5px,#3d7bb7 18.5px,#2f54aa 19.5px,#283f9f 20.5px,#2a41a3 44.5px,#3558b4 58.5px,#3558b5 59.5px)"></i><i style="top:10px;background:linear-gradient(90deg,#283d9f 0.5px,#2940a1 4.5px,#3052a8 5.5px,#467bac 6.5px,#78a692 7.5px,#b8a95b 8.5px,#d67632 9.5px,#cf3c22 10.5px,#c3211e 11.5px,#cc291e 13.5px,#db4922 14.5px,#e1812d 15.5px,#cdb146 16.5px,#99bd74 17.5px,#60a8a8 18.5px,#4284bc 19.5px,#3765b7 20.5px,#3558b4 22.5px,#365ab6 39.5px,#26389c 47.5px,#273d9e 59.5px)"></i><i style="top:11px;background:linear-gradient(90deg,#406dc4 0.5px,#3f6fc0 6.5px,#487eb9 7.5px,#719e9b 8.5px,#b3a15d 9.5px,#d46c30 10.5px,#d13721 11.5px,#cd261e 12.5px,#d53520 13.5px,#df6427 14.5px,#d59e3c 15.5px,#a3b96a 16.5px,#64a7a4 17.5px,#417fb7 18.5px,#355eaf 19.5px,#273c94 22.5px,#21308a 44.5px,#24398d 51.5px,#366fa2 59.5px)"></i><i style="top:12px;background:linear-gradient(90deg,#3e6bc2 0.5px,#385fb6 5.5px,#3b6ab5 6.5px,#528ba8 7.5px,#89aa7a 8.5px,#c39e49 9.5px,#d7662c 10.5px,#cd3420 11.5px,#c4211d 12.5px,#c8251e 13.5px,#d64622 14.5px,#d88232 15.5px,#b4ac5c 16.5px,#76a593 17.5px,#4c7ca7 18.5px,#36559b 19.5px,#253a91 21.5px,#22348e 48.5px,#24388f 59.5px)"></i><i style="top:13px;background:linear-gradient(90deg,#3e6bc2 0.5px,#2c46a0 6.5px,#3255a5 7.5px,#487ba7 8.5px,#79a28d 9.5px,#b6a159 10.5px,#cd6d35 11.5px,#c23925 12.5px,#b41f1e 13.5px,#b5201e 15.5px,#c23123 16.5px,#d0572c 17.5px,#d08c3d 18.5px,#b0b05d 19.5px,#78ac8e 20.5px,#4f8fb2 21.5px,#3f75bd 22.5px,#385fb7 25.5px,#253894 30.5px,#284597 40.5px,#315e9f 52.5px,#2d519b 59.5px)"></i><i style="top:14px;background:linear-gradient(90deg,#253897 0.5px,#263b97 8.5px,#2c4498 9.5px,#3d5f9e 10.5px,#688c93 11.5px,#a99a5f 12.5px,#cb6b31 13.5px,#c23220 14.5px,#b41a1d 15.5px,#c5251e 17.5px,#d84823 18.5px,#e0842f 19.5px,#c9b64a 20.5px,#90bb78 21.5px,#59a1ac 22.5px,#3f7dbc 23.5px,#3864b8 24.5px,#385eb7 32.5px,#3252ac 43.5px,#283f9c 49.5px,#3c68bc 57.5px,#3d68bb 59.5px)"></i><i style="top:15px;background:linear-gradient(90deg,#21308a 0.5px,#2b449d 8.5px,#2f51a5 9.5px,#3e71ac 10.5px,#6b9d99 11.5px,#aea561 12.5px,#cc7237 13.5px,#c43b25 14.5px,#b7201e 15.5px,#be1e1d 17.5px,#d0341f 18.5px,#df6527 19.5px,#daa039 20.5px,#b2bf5f 21.5px,#74b495 22.5px,#498fb6 23.5px,#3667b1 24.5px,#2d4ca3 25.5px,#253891 30.5px,#2b459d 37.5px,#3b64bb 44.5px,#3764ab 52.5px,#407aa5 56.5px,#426a95 59.5px)"></i><i style="top:16px;background:linear-gradient(90deg,#22328a 0.5px,#24398e 10.5px,#2a4190 11.5px,#3b5b98 12.5px,#648793 13.5px,#a29965 14.5px,#c97237 15.5px,#ca3d23 16.5px,#c3231e 17.5px,#c8251e 18.5px,#d64422 19.5px,#db8030 20.5px,#bdae54 21.5px,#81aa89 22.5px,#588dae 23.5px,#4977b7 24.5px,#3d6abf 27.5px,#24368e 35.5px,#263c90 50.5px,#4f8399 56.5px,#638384 59.5px)"></i><i style="top:17px;background:linear-gradient(90deg,#3558b2 0.5px,#304ea9 5.5px,#3a64bb 12.5px,#4070b9 13.5px,#598ca7 14.5px,#8ea376 15.5px,#c38b43 16.5px,#cf4d27 17.5px,#be231e 18.5px,#b2191d 19.5px,#bc2921 21.5px,#cb4429 22.5px,#d57735 23.5px,#c6aa4b 24.5px,#92b879 25.5px,#5aa3ae 26.5px,#3e7dbc 27.5px,#355eb2 28.5px,#3758b1 30.5px,#3558b0 37.5px,#3d68bd 48.5px,#3e5daf 56.5px,#374c9e 59.5px)"></i><i style="top:18px;background:linear-gradient(90deg,#26399c 0.5px,#2a41a3 12.5px,#2d49a7 13.5px,#375eac 14.5px,#57879f 15.5px,#90a06f 16.5px,#c28743 17.5px,#cd4f2c 18.5px,#c42e22 19.5px,#c2241e 20.5px,#cb281e 21.5px,#d94722 22.5px,#e1822d 23.5px,#cab249 24.5px,#91b578 25.5px,#5e97a2 26.5px,#456da7 27.5px,#384c9e 28.5px,#39378e 30.5px,#4c3980 33.5px,#3668a7 39.5px,#3a76ab 45.5px,#414f95 51.5px,#67336e 57.5px,#68326c 59.5px)"></i><i style="top:19px;background:linear-gradient(90deg,#21318d 0.5px,#253893 13.5px,#2d489d 15.5px,#395ca4 16.5px,#4f7ea6 17.5px,#7da38b 18.5px,#bba756 19.5px,#d87530 20.5px,#d13c21 21.5px,#c5241e 22.5px,#c4271e 23.5px,#ce3d23 24.5px,#d66d2f 25.5px,#c5a148 26.5px,#8fae74 27.5px,#558ea1 28.5px,#3660a7 29.5px,#2a4299 30.5px,#25338c 33.5px,#29358d 59.5px)"></i><i style="top:20px;background:linear-gradient(90deg,#202f89 0.5px,#24378e 16.5px,#2c4a98 17.5px,#49769d 18.5px,#809b7e 19.5px,#b98b4d 20.5px,#c75130 21.5px,#bc2c24 22.5px,#b8221f 23.5px,#c2251e 24.5px,#d44222 25.5px,#db7d30 26.5px,#beac53 27.5px,#83a987 28.5px,#5688a8 29.5px,#4269a9 30.5px,#263d94 34.5px,#243890 43.5px,#385eb5 55.5px,#365bb2 59.5px)"></i><i style="top:21px;background:linear-gradient(90deg,#21318c 0.5px,#283e99 7.5px,#3b64bb 11.5px,#365bb3 14.5px,#273d94 18.5px,#2d4394 19.5px,#3b599b 20.5px,#5b8398 21.5px,#93a36e 22.5px,#c8923f 23.5px,#d85a27 24.5px,#cf311f 25.5px,#c9281f 26.5px,#cc3022 27.5px,#d34829 28.5px,#d87834 29.5px,#c8a849 30.5px,#96b774 31.5px,#5ca4aa 32.5px,#3e81ba 33.5px,#3669ad 34.5px,#3466a5 38.5px,#3e6bc2 55.5px,#3e6bc1 59.5px)"></i><i style="top:22px;background:linear-gradient(90deg,#203089 0.5px,#273d95 5.5px,#3559b0 9.5px,#3459ad 19.5px,#3967b2 20.5px,#518baa 21.5px,#86ab7f 22.5px,#bfa04f 23.5px,#d26b33 24.5px,#ca3a24 25.5px,#c1231f 26.5px,#c2201d 27.5px,#ce3520 28.5px,#da6829 29.5px,#cc9f40 30.5px,#97af6e 31.5px,#6198a1 32.5px,#4679b2 33.5px,#3356aa 36.5px,#253990 40.5px,#23358d 59.5px)"></i><i style="top:23px;background:linear-gradient(90deg,#253796 0.5px,#2c46a3 5.5px,#3a63bc 10.5px,#3a70b1 15.5px,#3d77b6 18.5px,#426eb9 22.5px,#4c78b4 23.5px,#6d919b 24.5px,#a99460 25.5px,#c76031 26.5px,#bd2c20 27.5px,#b21a1d 28.5px,#b71e1e 29.5px,#c63321 30.5px,#d45d2b 31.5px,#ce9641 32.5px,#a6b569 33.5px,#6ca99c 34.5px,#4788b9 35.5px,#3c6ebd 36.5px,#3b65bd 46.5px,#263a99 56.5px,#273c9b 59.5px)"></i><i style="top:24px;background:linear-gradient(90deg,#3559b3 0.5px,#3457b1 18.5px,#2d48a6 22.5px,#3152a8 23.5px,#4877a5 24.5px,#7f9e84 25.5px,#bd924f 26.5px,#d2592c 27.5px,#cc2f20 28.5px,#cb271e 29.5px,#d64122 30.5px,#d87b31 31.5px,#b6a759 32.5px,#78a190 33.5px,#4f7ba7 34.5px,#3f5da4 35.5px,#3355ae 38.5px,#365ab5 51.5px,#2b44a4 59.5px)"></i><i style="top:25px;background:linear-gradient(90deg,#213288 0.5px,#24368d 20.5px,#2f4da4 23.5px,#365ead 24.5px,#487eae 25.5px,#76a191 26.5px,#b3a05b 27.5px,#cb6c36 28.5px,#c13a27 29.5px,#b52420 30.5px,#b42422 32.5px,#bf3228 33.5px,#cd552e 34.5px,#d08b3c 35.5px,#b2b05b 36.5px,#7bae8b 37.5px,#4d8dac 38.5px,#3461a8 39.5px,#274195 40.5px,#213289 42.5px,#2c479e 51.5px,#3a62b9 59.5px)"></i><i style="top:26px;background:linear-gradient(90deg,#253798 0.5px,#263a98 25.5px,#344b97 27.5px,#4d6b95 28.5px,#7f8e7a 29.5px,#b78049 30.5px,#c44628 31.5px,#b61f1e 32.5px,#b1171d 33.5px,#bc211e 34.5px,#d04122 35.5px,#db7c2f 36.5px,#c5af4d 37.5px,#8cb37d 38.5px,#5692a4 39.5px,#3865a9 40.5px,#2a469e 41.5px,#233494 44.5px,#263999 59.5px)"></i><i style="top:27px;background:linear-gradient(90deg,#385eb5 0.5px,#375cb4 8.5px,#23358c 19.5px,#23378c 27.5px,#2a4794 28.5px,#44709b 29.5px,#7d9a83 30.5px,#bc8b4c 31.5px,#cc4c28 32.5px,#bd221e 33.5px,#b6191d 34.5px,#be1f1d 35.5px,#ce3620 36.5px,#dc6528 37.5px,#d69d3c 38.5px,#afbb61 39.5px,#73af93 40.5px,#478ab1 41.5px,#284197 43.5px,#22338b 46.5px,#23368b 59.5px)"></i><i style="top:28px;background:linear-gradient(90deg,#263a99 0.5px,#2b4c9c 14.5px,#366fa4 24.5px,#366ea9 28.5px,#3e7db1 29.5px,#62a0a2 30.5px,#a5ab69 31.5px,#ce8139 32.5px,#cc4324 33.5px,#b9201e 34.5px,#b1171c 35.5px,#ba1e1d 36.5px,#cf4022 37.5px,#d78133 38.5px,#b1b262 39.5px,#6caaa0 40.5px,#4381b8 41.5px,#3a65b4 42.5px,#3e65ae 47.5px,#3b79a8 59.5px)"></i><i style="top:29px;background:linear-gradient(90deg,#3a63bc 0.5px,#3e6ac2 9.5px,#253996 20.5px,#2a419a 29.5px,#3456a1 30.5px,#537f9d 31.5px,#8a9f78 32.5px,#c28c46 33.5px,#d35329 34.5px,#cb2c1f 35.5px,#c9251e 36.5px,#d43a20 37.5px,#dd6f2a 38.5px,#caa444 39.5px,#94af73 40.5px,#679a9a 41.5px,#628595 42.5px,#788476 44.5px,#767f76 49.5px,#4e71a9 54.5px,#405c9e 58.5px,#3c5599 59.5px)"></i><i style="top:30px;background:linear-gradient(90deg,#406ec5 0.5px,#375bb4 7.5px,#3a63bb 14.5px,#243693 23.5px,#2a429d 29.5px,#2e4ca3 30.5px,#3864ad 31.5px,#548da8 32.5px,#8aad7e 33.5px,#c3a54d 34.5px,#da722f 35.5px,#d43d21 36.5px,#ca261e 37.5px,#c9271e 38.5px,#d03721 39.5px,#d85b29 40.5px,#d99138 41.5px,#c0ba52 42.5px,#89b87e 43.5px,#579aaa 44.5px,#4278b5 45.5px,#3958a8 47.5px,#314fa7 59.5px)"></i><i style="top:31px;background:linear-gradient(90deg,#2f4ca6 0.5px,#3b64bb 11.5px,#2c47a1 22.5px,#4274c4 32.5px,#4980bb 33.5px,#6c9c9f 34.5px,#aa9d64 35.5px,#c86b37 36.5px,#c13724 37.5px,#b51e1e 38.5px,#b81c1d 39.5px,#c93320 40.5px,#d86a2a 41.5px,#c8a347 42.5px,#8faf79 43.5px,#5a93a6 44.5px,#4071b3 45.5px,#355ab1 47.5px,#304ea8 59.5px)"></i><i style="top:32px;background:linear-gradient(90deg,#3752a8 0.5px,#2f469e 8.5px,#3251aa 16.5px,#3a62b9 21.5px,#3e69c0 29.5px,#304ea0 34.5px,#3e63a0 35.5px,#6c8f93 36.5px,#af975d 37.5px,#cc6030 38.5px,#c12c20 39.5px,#b91d1d 40.5px,#c2251e 41.5px,#d34724 42.5px,#d88134 43.5px,#bbae57 44.5px,#82ac88 45.5px,#5289a6 46.5px,#375ea3 47.5px,#294398 48.5px,#253793 52.5px,#243793 59.5px)"></i><i style="top:33px;background:linear-gradient(90deg,#5b2d69 0.5px,#452d74 8.5px,#233289 14.5px,#23368d 34.5px,#2a4697 35.5px,#4371a1 36.5px,#799d8a 37.5px,#b69657 38.5px,#c95e34 39.5px,#c13428 40.5px,#c6261f 42.5px,#d23720 43.5px,#da9338 45.5px,#bdb653 46.5px,#87b47f 47.5px,#5599aa 48.5px,#3c76b6 49.5px,#355fb2 50.5px,#3a62b9 59.5px)"></i><i style="top:34px;background:linear-gradient(90deg,#3854ab 0.5px,#233591 19.5px,#2b459f 22.5px,#3c65bd 25.5px,#3457b0 29.5px,#3355ae 34.5px,#446bb2 38.5px,#517dab 39.5px,#7c9d8d 40.5px,#bc9853 41.5px,#d5602c 42.5px,#cd3120 43.5px,#c9271e 44.5px,#d13a21 45.5px,#d96a2b 46.5px,#c89e43 47.5px,#95ae71 48.5px,#5f97a2 49.5px,#4377b4 50.5px,#3b66bb 52.5px,#3a63bb 59.5px)"></i><i style="top:35px;background:linear-gradient(90deg,#395fb9 0.5px,#3a61bb 12.5px,#385fb9 18.5px,#283d9e 24.5px,#2b43a3 34.5px,#365eb5 38.5px,#4078ba 39.5px,#67a1a5 40.5px,#aba668 41.5px,#ca7239 42.5px,#c23b26 43.5px,#b7221f 44.5px,#c1241e 46.5px,#d14123 47.5px,#d8742f 48.5px,#c7a347 49.5px,#96b072 50.5px,#639fa4 51.5px,#4a84b7 52.5px,#3a63b7 54.5px,#385db8 59.5px)"></i><i style="top:36px;background:linear-gradient(90deg,#263a9d 0.5px,#2a41a3 26.5px,#3e6bc1 39.5px,#4878b7 41.5px,#6190a0 42.5px,#95a06d 43.5px,#c48641 44.5px,#ce4e29 45.5px,#c1271f 46.5px,#b71b1d 47.5px,#c62e20 49.5px,#d44f27 50.5px,#d98736 51.5px,#c2b450 52.5px,#8bb87d 53.5px,#559dae 54.5px,#3c77ba 55.5px,#3156af 56.5px,#2b41a2 58.5px,#2b3fa0 59.5px)"></i><i style="top:37px;background:linear-gradient(90deg,#2a4199 0.5px,#3d69c0 9.5px,#355bb0 16.5px,#3457ae 21.5px,#385eb5 28.5px,#2c469d 35.5px,#375cad 42.5px,#426dab 43.5px,#698e98 44.5px,#a89361 45.5px,#c55f32 46.5px,#bb2c21 47.5px,#b1191d 48.5px,#b91d1d 49.5px,#ce3d21 50.5px,#d67c32 51.5px,#b4ad5e 52.5px,#75a998 53.5px,#4e89b3 54.5px,#4273b9 55.5px,#3b64bc 59.5px)"></i><i style="top:38px;background:linear-gradient(90deg,#2a358f 0.5px,#2d4799 10.5px,#3c70a8 15.5px,#395fb5 23.5px,#3d5ead 32.5px,#273a94 42.5px,#283e96 43.5px,#35569f 44.5px,#608696 45.5px,#a29a62 46.5px,#ca6f33 47.5px,#c83721 48.5px,#be1f1d 49.5px,#c2201d 50.5px,#cf3320 51.5px,#db5c28 52.5px,#da9339 53.5px,#c0b953 54.5px,#89b97f 55.5px,#559dac 56.5px,#3b74b5 57.5px,#2e4fa4 58.5px,#283c97 59.5px)"></i><i style="top:39px;background:linear-gradient(90deg,#3351af 0.5px,#3e5cb3 6.5px,#54387e 13.5px,#453684 18.5px,#374294 22.5px,#5e6a84 27.5px,#848971 32.5px,#797e73 37.5px,#46538d 42.5px,#3f559a 43.5px,#426eaa 44.5px,#6198a1 45.5px,#a0ac6c 46.5px,#cf8b3d 47.5px,#d64f27 48.5px,#ca2a1f 49.5px,#c41f1d 50.5px,#c9231e 51.5px,#d63820 52.5px,#e16927 53.5px,#dca238 54.5px,#b5c05b 55.5px,#7ab58e 56.5px,#4e90af 57.5px,#4164a8 58.5px,#434592 59.5px)"></i><i style="top:40px;background:linear-gradient(90deg,#253797 0.5px,#2c42a0 20.5px,#3a5aab 31.5px,#3d3f8e 39.5px,#563374 44.5px,#57437e 45.5px,#5c6c8e 46.5px,#809782 47.5px,#b99053 48.5px,#cd562d 49.5px,#c12a20 50.5px,#ba1e1d 51.5px,#c5291f 52.5px,#d65626 53.5px,#cc923e 54.5px,#99a96b 55.5px,#629099 56.5px,#436aa5 57.5px,#3755a3 58.5px,#3350a6 59.5px)"></i><i style="top:41px;background:linear-gradient(90deg,#263a9b 0.5px,#3a61bb 13.5px,#3a5eb7 33.5px,#574388 38.5px,#6d336a 42.5px,#5e3674 45.5px,#534685 46.5px,#536c98 47.5px,#739991 48.5px,#b0a25d 49.5px,#d37632 50.5px,#d23d21 51.5px,#c9241e 52.5px,#ca261e 53.5px,#d33922 54.5px,#d6983c 56.5px,#b6b95a 57.5px,#7db48a 58.5px,#50a1b8 59.5px)"></i><i style="top:42px;background:linear-gradient(90deg,#253495 0.5px,#2c3895 34.5px,#323d93 44.5px,#3a569e 45.5px,#54829d 46.5px,#86a57a 47.5px,#ba9d50 48.5px,#ce6a32 49.5px,#c43823 50.5px,#b61e1e 51.5px,#b91b1d 53.5px,#cc331f 54.5px,#dd6728 55.5px,#d3a33e 56.5px,#a0bc6e 57.5px,#61aaa9 58.5px,#438cc1 59.5px)"></i><i style="top:43px;background:linear-gradient(90deg,#332d7b 0.5px,#213088 5.5px,#2e4aa1 18.5px,#3657ae 26.5px,#4b478e 31.5px,#7e335b 36.5px,#803a58 41.5px,#737370 46.5px,#6d928e 48.5px,#93a16e 49.5px,#c18844 50.5px,#cf532c 51.5px,#cb3022 52.5px,#cc281f 53.5px,#d73d21 54.5px,#dd742c 55.5px,#c7a748 56.5px,#8eac78 57.5px,#5c8b9d 58.5px,#46689d 59.5px)"></i><i style="top:44px;background:linear-gradient(90deg,#293d97 0.5px,#2e4ba4 5.5px,#3d68bf 11.5px,#3354ac 17.5px,#243792 24.5px,#3149a1 32.5px,#416fa9 41.5px,#4180b1 48.5px,#568ca7 50.5px,#84a083 51.5px,#c0904c 52.5px,#d15229 53.5px,#c1271f 54.5px,#b61f1e 55.5px,#c53726 57.5px,#dc8c35 59.5px)"></i><i style="top:45px;background:linear-gradient(90deg,#375bb5 0.5px,#3f6cc3 15.5px,#273c9c 28.5px,#29419f 46.5px,#3864b6 49.5px,#4783b6 50.5px,#73aa99 51.5px,#b6af5e 52.5px,#d67a32 53.5px,#cc3c22 54.5px,#ba1e1d 55.5px,#b5181d 56.5px,#c1211d 57.5px,#d64121 58.5px,#e67126 59.5px)"></i><i style="top:46px;background:linear-gradient(90deg,#223389 0.5px,#253c8c 22.5px,#3977a5 34.5px,#3468a2 42.5px,#3359a9 48.5px,#3968b1 50.5px,#4c88b0 51.5px,#7dad8f 52.5px,#bcae58 53.5px,#d97a31 54.5px,#d03e22 55.5px,#c1211d 56.5px,#c4201d 58.5px,#ce271e 59.5px)"></i><i style="top:47px;background:linear-gradient(90deg,#284097 0.5px,#3f6cc3 8.5px,#385fb5 14.5px,#294097 20.5px,#3968b1 31.5px,#3b7caa 43.5px,#3b6eb3 51.5px,#4784b3 52.5px,#76a998 53.5px,#bba85a 54.5px,#d76c2e 55.5px,#cc3420 56.5px,#c21f1d 57.5px,#d1231e 59.5px)"></i><i style="top:48px;background:linear-gradient(90deg,#25389a 0.5px,#3962ba 15.5px,#395fb9 28.5px,#3a63ba 37.5px,#3356b0 50.5px,#355db1 51.5px,#437bb2 52.5px,#74a796 53.5px,#bcaa59 54.5px,#d96f2e 55.5px,#cf3620 56.5px,#c4201d 57.5px,#cd221d 59.5px)"></i><i style="top:49px;background:linear-gradient(90deg,#243496 0.5px,#2d49a6 4.5px,#4073c2 8.5px,#3363a5 15.5px,#3865b2 20.5px,#3e6cc2 24.5px,#263a9a 30.5px,#273e9a 50.5px,#2d4fa4 51.5px,#4179af 52.5px,#72aa98 53.5px,#b8b25c 54.5px,#da7c31 55.5px,#d13d21 56.5px,#c1201d 57.5px,#c01c1d 59.5px)"></i></div>
</body></html>
